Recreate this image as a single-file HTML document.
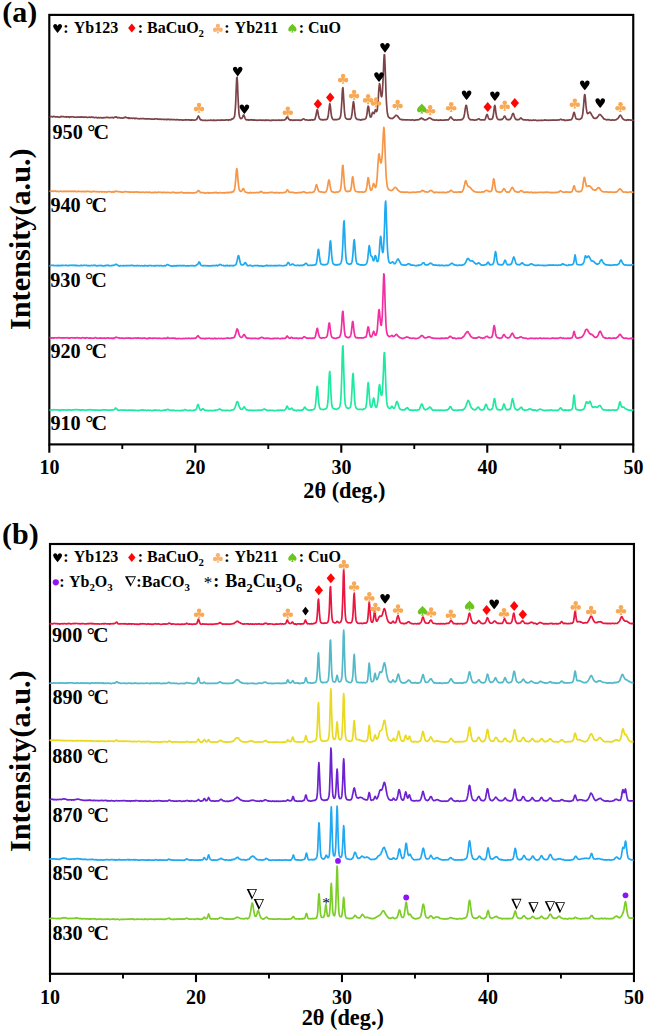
<!DOCTYPE html>
<html><head><meta charset="utf-8"><title>XRD patterns</title>
<style>
html,body{margin:0;padding:0;background:#fff;}
body{width:645px;height:1032px;overflow:hidden;}
svg{display:block;position:absolute;left:0;top:0;}
svg text{font-family:"Liberation Serif",serif;font-weight:bold;fill:#000;}
</style></head><body>
<svg width="645" height="1032" viewBox="0 0 645 1032">
<rect width="645" height="1032" fill="#fff"/>
<rect x="49.30" y="14.90" width="583.95" height="429.50" fill="none" stroke="#000" stroke-width="2.15"/>
<line x1="49.30" y1="444.4" x2="49.30" y2="452.7" stroke="#000" stroke-width="2.1"/>
<text x="49.4" y="474.3" font-size="20" text-anchor="middle">10</text>
<line x1="195.29" y1="444.4" x2="195.29" y2="452.7" stroke="#000" stroke-width="2.1"/>
<text x="195.4" y="474.3" font-size="20" text-anchor="middle">20</text>
<line x1="341.28" y1="444.4" x2="341.28" y2="452.7" stroke="#000" stroke-width="2.1"/>
<text x="341.4" y="474.3" font-size="20" text-anchor="middle">30</text>
<line x1="487.26" y1="444.4" x2="487.26" y2="452.7" stroke="#000" stroke-width="2.1"/>
<text x="487.4" y="474.3" font-size="20" text-anchor="middle">40</text>
<line x1="633.25" y1="444.4" x2="633.25" y2="452.7" stroke="#000" stroke-width="2.1"/>
<text x="633.4" y="474.3" font-size="20" text-anchor="middle">50</text>
<line x1="122.29" y1="444.4" x2="122.29" y2="449.0" stroke="#000" stroke-width="1.9"/>
<line x1="268.28" y1="444.4" x2="268.28" y2="449.0" stroke="#000" stroke-width="1.9"/>
<line x1="414.27" y1="444.4" x2="414.27" y2="449.0" stroke="#000" stroke-width="1.9"/>
<line x1="560.26" y1="444.4" x2="560.26" y2="449.0" stroke="#000" stroke-width="1.9"/>
<rect x="50.00" y="544.00" width="583.95" height="429.80" fill="none" stroke="#000" stroke-width="2.15"/>
<line x1="50.00" y1="973.8" x2="50.00" y2="982.1" stroke="#000" stroke-width="2.1"/>
<text x="50.1" y="1003.5" font-size="20" text-anchor="middle">10</text>
<line x1="195.99" y1="973.8" x2="195.99" y2="982.1" stroke="#000" stroke-width="2.1"/>
<text x="196.1" y="1003.5" font-size="20" text-anchor="middle">20</text>
<line x1="341.98" y1="973.8" x2="341.98" y2="982.1" stroke="#000" stroke-width="2.1"/>
<text x="342.1" y="1003.5" font-size="20" text-anchor="middle">30</text>
<line x1="487.96" y1="973.8" x2="487.96" y2="982.1" stroke="#000" stroke-width="2.1"/>
<text x="488.1" y="1003.5" font-size="20" text-anchor="middle">40</text>
<line x1="633.95" y1="973.8" x2="633.95" y2="982.1" stroke="#000" stroke-width="2.1"/>
<text x="634.1" y="1003.5" font-size="20" text-anchor="middle">50</text>
<line x1="122.99" y1="973.8" x2="122.99" y2="978.4" stroke="#000" stroke-width="1.9"/>
<line x1="268.98" y1="973.8" x2="268.98" y2="978.4" stroke="#000" stroke-width="1.9"/>
<line x1="414.97" y1="973.8" x2="414.97" y2="978.4" stroke="#000" stroke-width="1.9"/>
<line x1="560.96" y1="973.8" x2="560.96" y2="978.4" stroke="#000" stroke-width="1.9"/>
<text x="344.4" y="498.2" font-size="22.3" text-anchor="middle">2θ (deg.)</text>
<text x="342.8" y="1025.1" font-size="22.3" text-anchor="middle">2θ (deg.)</text>
<text transform="translate(30.3 239.2) rotate(-90)" font-size="30.3" text-anchor="middle">Intensity(a.u.)</text>
<text transform="translate(30.3 761.2) rotate(-90)" font-size="30.3" text-anchor="middle">Intensity(a.u.)</text>
<text x="2.2" y="22.2" font-size="30">(a)</text>
<text x="2.1" y="544.3" font-size="30">(b)</text>
<text x="52.5" y="139.0" font-size="20.2">950 <tspan dx="-0.5">°</tspan><tspan dx="-1.9" font-size="21.6">C</tspan></text>
<text x="50.4" y="211.9" font-size="20.2">940 <tspan dx="-0.5">°</tspan><tspan dx="-1.9" font-size="21.6">C</tspan></text>
<text x="50.2" y="286.7" font-size="20.2">930 <tspan dx="-0.5">°</tspan><tspan dx="-1.9" font-size="21.6">C</tspan></text>
<text x="50.4" y="358.4" font-size="20.2">920 <tspan dx="-0.5">°</tspan><tspan dx="-1.9" font-size="21.6">C</tspan></text>
<text x="50.4" y="429.8" font-size="20.2">910 <tspan dx="-0.5">°</tspan><tspan dx="-1.9" font-size="21.6">C</tspan></text>
<text x="52.0" y="641.8" font-size="20.2">900 <tspan dx="-0.5">°</tspan><tspan dx="-1.9" font-size="21.6">C</tspan></text>
<text x="52.4" y="703.8" font-size="20.2">890 <tspan dx="-0.5">°</tspan><tspan dx="-1.9" font-size="21.6">C</tspan></text>
<text x="52.2" y="763.4" font-size="20.2">880 <tspan dx="-0.5">°</tspan><tspan dx="-1.9" font-size="21.6">C</tspan></text>
<text x="52.4" y="822.0" font-size="20.2">870 <tspan dx="-0.5">°</tspan><tspan dx="-1.9" font-size="21.6">C</tspan></text>
<text x="52.4" y="879.6" font-size="20.2">850 <tspan dx="-0.5">°</tspan><tspan dx="-1.9" font-size="21.6">C</tspan></text>
<text x="52.4" y="940.0" font-size="20.2">830 <tspan dx="-0.5">°</tspan><tspan dx="-1.9" font-size="21.6">C</tspan></text>
<path transform="translate(57.6 28.4) scale(0.920)" fill="#000" d="M0 4.9 C-1.4 2.9 -4.5 -0.1 -4.8 -2.2 C-5 -3.8 -3.8 -4.8 -2.6 -4.8 C-1.4 -4.8 -0.4 -4.0 0 -2.3 C0.4 -4.0 1.4 -4.8 2.6 -4.8 C3.8 -4.8 5 -3.8 4.8 -2.2 C4.5 -0.1 1.4 2.9 0 4.9Z"/>
<text x="66.0" y="32.8" font-size="16.0" text-anchor="middle">:</text>
<text x="73.7" y="32.8" font-size="16.0">Yb123</text>
<path fill="#ff0606" d="M131.8 23.6 L135.5 28.1 L131.8 32.6 L128.1 28.1Z"/>
<text x="140.3" y="32.8" font-size="16.0" text-anchor="middle">:</text>
<text x="147.0" y="32.8" font-size="16.0">BaCuO<tspan font-size="10.8" dy="3.9">2</tspan></text>
<g transform="translate(217.9 28.5) scale(0.950)" fill="#f8b274"><circle cx="0" cy="-2.75" r="2.25"/><circle cx="-2.95" cy="1.3" r="2.3"/><circle cx="2.95" cy="1.3" r="2.3"/><path d="M-0.9 -1.2 L0.9 -1.2 L1.3 1.2 L0.55 2.2 L0.7 3.6 L1.5 5.05 L-1.5 5.05 L-0.7 3.6 L-0.55 2.2 L-1.3 1.2Z"/></g>
<text x="226.9" y="32.8" font-size="16.0" text-anchor="middle">:</text>
<text x="234.6" y="32.8" font-size="16.0">Yb211</text>
<path transform="translate(292.4 28.2) scale(0.880)" fill="#6cc51f" d="M0 -5 C1.2 -3.3 4.75 -1.0 4.75 1.4 C4.75 2.9 3.7 3.7 2.6 3.7 C1.7 3.7 1 3.3 0.55 2.4 L0.7 3.7 L1.5 5 L-1.5 5 L-0.7 3.7 L-0.55 2.4 C-1 3.3 -1.7 3.7 -2.6 3.7 C-3.7 3.7 -4.75 2.9 -4.75 1.4 C-4.75 -1.0 -1.2 -3.3 0 -5Z"/>
<text x="301.5" y="32.8" font-size="16.0" text-anchor="middle" fill="#6cc51f">:</text>
<text x="308.0" y="32.8" font-size="16.0">CuO</text>
<path transform="translate(57.6 557.7) scale(0.920)" fill="#000" d="M0 4.9 C-1.4 2.9 -4.5 -0.1 -4.8 -2.2 C-5 -3.8 -3.8 -4.8 -2.6 -4.8 C-1.4 -4.8 -0.4 -4.0 0 -2.3 C0.4 -4.0 1.4 -4.8 2.6 -4.8 C3.8 -4.8 5 -3.8 4.8 -2.2 C4.5 -0.1 1.4 2.9 0 4.9Z"/>
<text x="66.0" y="562.1" font-size="16.0" text-anchor="middle">:</text>
<text x="73.7" y="562.1" font-size="16.0">Yb123</text>
<path fill="#ff0606" d="M131.8 552.9 L135.5 557.4 L131.8 561.9 L128.1 557.4Z"/>
<text x="140.3" y="562.1" font-size="16.0" text-anchor="middle">:</text>
<text x="147.0" y="562.1" font-size="16.0">BaCuO<tspan font-size="10.8" dy="3.9">2</tspan></text>
<g transform="translate(217.9 557.8) scale(0.950)" fill="#f8b274"><circle cx="0" cy="-2.75" r="2.25"/><circle cx="-2.95" cy="1.3" r="2.3"/><circle cx="2.95" cy="1.3" r="2.3"/><path d="M-0.9 -1.2 L0.9 -1.2 L1.3 1.2 L0.55 2.2 L0.7 3.6 L1.5 5.05 L-1.5 5.05 L-0.7 3.6 L-0.55 2.2 L-1.3 1.2Z"/></g>
<text x="226.9" y="562.1" font-size="16.0" text-anchor="middle">:</text>
<text x="234.6" y="562.1" font-size="16.0">Yb211</text>
<path transform="translate(292.4 557.5) scale(0.880)" fill="#6cc51f" d="M0 -5 C1.2 -3.3 4.75 -1.0 4.75 1.4 C4.75 2.9 3.7 3.7 2.6 3.7 C1.7 3.7 1 3.3 0.55 2.4 L0.7 3.7 L1.5 5 L-1.5 5 L-0.7 3.7 L-0.55 2.4 C-1 3.3 -1.7 3.7 -2.6 3.7 C-3.7 3.7 -4.75 2.9 -4.75 1.4 C-4.75 -1.0 -1.2 -3.3 0 -5Z"/>
<text x="301.5" y="562.1" font-size="16.0" text-anchor="middle" fill="#6cc51f">:</text>
<text x="308.0" y="562.1" font-size="16.0">CuO</text>
<circle cx="55.8" cy="582.3" r="3.1" fill="#8f14f5"/>
<text x="62.0" y="586.8" font-size="16.0" text-anchor="middle" fill="#8f14f5">:</text>
<text x="69.0" y="586.8" font-size="16.0">Yb<tspan font-size="10.8" dy="3.9">2</tspan><tspan dy="-3.9">O</tspan><tspan font-size="10.8" dy="3.9">3</tspan></text>
<path fill="#000" fill-rule="evenodd" d="M124.95 576.35 L136.05 576.35 L130.50 586.85Z M127.65 577.30 L134.65 577.30 L131.15 583.92Z"/>
<text x="139.0" y="586.8" font-size="16.0" text-anchor="middle">:</text>
<text x="141.8" y="586.8" font-size="16.0">BaCO<tspan font-size="10.8" dy="3.9">3</tspan></text>
<text x="208.0" y="588.0" font-size="17" text-anchor="middle" style="font-weight:normal">*</text>
<text x="216.3" y="586.8" font-size="18" text-anchor="middle">:</text>
<text x="225.3" y="586.9" font-size="18.1">Ba<tspan font-size="12.4" dy="4.9">2</tspan><tspan dy="-4.9">Cu</tspan><tspan font-size="12.4" dy="4.9">3</tspan><tspan dy="-4.9">O</tspan><tspan font-size="12.4" dy="4.9">6</tspan></text>
<text x="326.2" y="907.6" font-size="15.5" text-anchor="middle" style="font-weight:normal">*</text>
<path d="M49.5 116.7 49.9 116.9 50.2 116.7 50.6 116.7 51.0 116.6 51.3 116.5 51.7 116.7 52.1 116.6 52.4 116.9 52.8 116.7 53.1 116.6 53.5 116.4 53.9 116.5 54.2 116.7 54.6 116.6 55.0 116.8 55.3 116.8 55.7 116.9 56.1 117.0 56.4 116.8 56.8 116.8 57.2 116.9 57.5 116.7 57.9 116.9 58.3 117.0 58.6 117.0 59.0 117.3 59.4 117.1 59.7 117.1 60.1 117.0 60.5 116.9 60.8 116.5 61.2 116.8 61.5 116.7 61.9 116.7 62.3 116.7 62.6 116.6 63.0 116.5 63.4 116.7 63.7 116.7 64.1 116.8 64.5 117.0 64.8 117.0 65.2 117.0 65.6 116.8 65.9 116.6 66.3 116.7 66.7 117.1 67.0 117.0 67.4 117.0 67.8 116.9 68.1 117.0 68.5 116.9 68.8 117.0 69.2 117.3 69.6 117.3 69.9 117.0 70.3 116.8 70.7 116.8 71.0 116.9 71.4 116.9 71.8 116.9 72.1 116.7 72.5 116.8 72.9 116.9 73.2 116.9 73.6 117.0 74.0 117.2 74.3 117.0 74.7 117.0 75.0 117.1 75.4 117.2 75.8 117.3 76.1 117.4 76.5 117.3 76.9 117.0 77.2 117.1 77.6 117.1 78.0 117.1 78.3 117.0 78.7 117.0 79.1 117.2 79.4 117.1 79.8 117.1 80.2 117.1 80.5 117.1 80.9 117.1 81.3 116.8 81.6 116.9 82.0 117.2 82.3 117.1 82.7 117.1 83.1 117.3 83.4 117.2 83.8 117.2 84.2 117.0 84.5 117.0 84.9 117.3 85.3 117.2 85.6 117.1 86.0 117.2 86.4 117.2 86.7 117.4 87.1 117.5 87.5 117.4 87.8 117.3 88.2 117.2 88.6 117.3 88.9 117.4 89.3 117.2 89.7 117.2 90.0 117.1 90.4 117.3 90.7 117.4 91.1 117.3 91.5 117.1 91.8 117.1 92.2 117.4 92.6 117.1 92.9 117.1 93.3 117.2 93.7 117.5 94.0 117.5 94.4 117.6 94.8 117.6 95.1 117.5 95.5 117.5 95.9 117.3 96.2 117.4 96.6 117.6 96.9 117.8 97.3 117.9 97.7 117.7 98.0 117.7 98.4 117.7 98.8 117.5 99.1 117.9 99.5 117.8 99.9 117.7 100.2 117.6 100.6 117.5 101.0 117.7 101.3 117.8 101.7 117.7 102.1 117.9 102.4 118.0 102.8 117.9 103.2 117.9 103.5 117.6 103.9 117.7 104.2 117.7 104.6 117.6 105.0 117.7 105.3 117.7 105.7 117.6 106.1 117.5 106.4 117.4 106.8 117.5 107.2 117.3 107.5 117.5 107.9 117.3 108.3 117.5 108.6 117.7 109.0 117.7 109.4 117.8 109.7 117.7 110.1 117.6 110.5 117.6 110.8 117.7 111.2 117.6 111.5 117.6 111.9 117.4 112.3 117.4 112.6 117.6 113.0 117.7 113.4 117.9 113.7 117.6 114.1 117.6 114.5 117.3 114.8 117.1 115.2 117.2 115.6 117.2 115.9 116.8 116.3 116.9 116.7 117.0 117.0 117.4 117.4 117.5 117.8 117.9 118.1 117.8 118.5 117.6 118.8 117.7 119.2 117.8 119.6 117.6 119.9 117.8 120.3 117.9 120.7 118.1 121.0 118.0 121.4 118.0 121.8 117.9 122.1 118.1 122.5 118.1 122.9 118.1 123.2 118.0 123.6 117.8 124.0 117.6 124.3 117.6 124.7 117.5 125.1 117.1 125.4 117.1 125.8 117.3 126.1 117.6 126.5 117.5 126.9 117.7 127.2 117.8 127.6 117.8 128.0 117.7 128.3 118.0 128.7 118.3 129.1 118.0 129.4 118.3 129.8 118.0 130.2 118.1 130.5 118.3 130.9 118.3 131.3 118.2 131.6 118.1 132.0 118.2 132.4 118.4 132.7 118.4 133.1 118.3 133.4 118.2 133.8 118.1 134.2 118.3 134.5 118.5 134.9 118.7 135.3 118.4 135.6 118.2 136.0 118.3 136.4 118.3 136.7 118.3 137.1 118.5 137.5 118.5 137.8 118.7 138.2 118.7 138.6 118.8 138.9 118.7 139.3 118.8 139.7 118.8 140.0 118.6 140.4 118.7 140.8 118.5 141.1 118.6 141.5 118.7 141.8 118.7 142.2 118.7 142.6 118.6 142.9 118.6 143.3 118.7 143.7 118.5 144.0 118.7 144.4 118.8 144.8 118.9 145.1 118.9 145.5 119.0 145.9 118.8 146.2 119.0 146.6 119.0 147.0 118.7 147.3 118.9 147.7 119.0 148.1 118.8 148.4 118.9 148.8 119.0 149.1 118.9 149.5 118.8 149.9 118.8 150.2 118.9 150.6 119.0 151.0 119.1 151.3 119.2 151.7 119.1 152.1 119.1 152.4 119.1 152.8 119.1 153.2 119.1 153.5 119.2 153.9 119.2 154.3 119.2 154.6 119.0 155.0 119.0 155.3 118.8 155.7 118.7 156.1 118.8 156.4 118.9 156.8 118.9 157.2 118.9 157.5 119.2 157.9 119.1 158.3 119.1 158.6 119.3 159.0 119.4 159.4 119.0 159.7 119.1 160.1 119.1 160.5 119.1 160.8 119.2 161.2 119.4 161.6 119.4 161.9 119.4 162.3 119.3 162.6 119.3 163.0 119.2 163.4 119.3 163.7 119.5 164.1 119.4 164.5 119.5 164.8 119.6 165.2 119.4 165.6 119.3 165.9 119.3 166.3 119.5 166.7 119.7 167.0 119.7 167.4 119.4 167.8 119.2 168.1 119.2 168.5 119.4 168.9 119.4 169.2 119.4 169.6 119.7 169.9 119.7 170.3 119.7 170.7 119.4 171.0 119.6 171.4 119.5 171.8 119.4 172.1 119.6 172.5 119.6 172.9 119.6 173.2 119.5 173.6 119.6 174.0 119.6 174.3 119.7 174.7 119.6 175.1 119.6 175.4 119.8 175.8 119.9 176.2 119.9 176.5 119.7 176.9 119.7 177.2 119.8 177.6 119.6 178.0 119.7 178.3 119.9 178.7 119.9 179.1 119.8 179.4 119.9 179.8 119.9 180.2 119.8 180.5 119.8 180.9 120.0 181.3 119.9 181.6 120.0 182.0 120.0 182.4 120.0 182.7 120.2 183.1 120.1 183.5 120.1 183.8 119.9 184.2 119.9 184.5 120.1 184.9 119.9 185.3 119.7 185.6 119.9 186.0 119.9 186.4 120.1 186.7 119.7 187.1 119.8 187.5 119.8 187.8 119.8 188.2 119.8 188.6 119.9 188.9 119.9 189.3 119.8 189.7 120.1 190.0 120.1 190.4 120.2 190.8 120.1 191.1 119.8 191.5 119.9 191.8 120.1 192.2 119.9 192.6 119.9 192.9 120.1 193.3 120.0 193.7 120.2 194.0 120.0 194.4 120.1 194.8 120.0 195.1 120.0 195.5 120.0 195.9 119.8 196.2 119.7 196.6 119.3 197.0 119.0 197.3 118.2 197.7 117.1 198.1 116.5 198.4 116.0 198.8 116.6 199.2 117.2 199.5 117.9 199.9 118.6 200.2 119.4 200.6 119.8 201.0 119.8 201.3 120.0 201.7 119.9 202.1 120.1 202.4 120.2 202.8 120.5 203.2 120.3 203.5 120.3 203.9 120.2 204.3 120.3 204.6 120.4 205.0 120.5 205.4 120.2 205.7 120.3 206.1 120.3 206.4 120.4 206.8 120.5 207.2 120.5 207.5 120.5 207.9 120.3 208.3 120.3 208.6 120.2 209.0 120.3 209.4 120.3 209.7 120.3 210.1 120.2 210.5 120.2 210.8 120.0 211.2 120.1 211.6 120.3 211.9 120.3 212.3 120.4 212.7 120.5 213.0 120.2 213.4 120.0 213.8 120.3 214.1 120.1 214.5 120.2 214.8 120.5 215.2 120.3 215.6 120.4 215.9 120.4 216.3 120.2 216.7 120.4 217.0 120.3 217.4 120.2 217.8 120.2 218.1 120.1 218.5 120.0 218.9 120.1 219.2 120.2 219.6 120.3 220.0 120.2 220.3 120.1 220.7 120.3 221.0 119.9 221.4 120.0 221.8 120.1 222.1 120.2 222.5 120.2 222.9 120.1 223.2 120.1 223.6 120.0 224.0 120.1 224.3 120.1 224.7 120.1 225.1 120.2 225.4 120.2 225.8 119.8 226.2 119.9 226.5 119.9 226.9 120.0 227.3 119.9 227.6 120.0 228.0 120.1 228.3 120.3 228.7 119.9 229.1 119.8 229.4 119.7 229.8 120.0 230.2 120.0 230.5 119.8 230.9 119.8 231.3 119.5 231.6 119.3 232.0 118.8 232.4 119.1 232.7 118.9 233.1 118.5 233.5 118.2 233.8 117.9 234.2 117.2 234.6 116.1 234.9 113.3 235.3 109.0 235.7 102.7 236.0 94.2 236.4 84.9 236.7 78.0 237.1 77.3 237.5 82.9 237.8 91.8 238.2 100.7 238.6 108.0 238.9 112.6 239.3 115.5 239.7 117.0 240.0 117.8 240.4 118.3 240.8 118.6 241.1 118.6 241.5 118.4 241.9 118.3 242.2 117.8 242.6 117.1 242.9 116.2 243.3 115.3 243.7 114.9 244.0 115.4 244.4 116.4 244.8 117.4 245.1 118.3 245.5 119.3 245.9 119.4 246.2 119.8 246.6 119.8 247.0 119.8 247.3 119.9 247.7 119.7 248.1 119.7 248.4 120.0 248.8 120.2 249.2 120.2 249.5 119.9 249.9 119.9 250.2 119.8 250.6 119.8 251.0 119.7 251.3 119.7 251.7 120.0 252.1 120.1 252.4 119.8 252.8 119.8 253.2 120.0 253.5 120.1 253.9 120.1 254.3 119.8 254.6 120.1 255.0 120.1 255.4 120.0 255.7 120.0 256.1 120.1 256.5 120.3 256.8 120.4 257.2 120.3 257.5 120.3 257.9 120.1 258.3 120.1 258.6 120.3 259.0 120.2 259.4 120.0 259.7 120.1 260.1 120.1 260.5 120.1 260.8 120.1 261.2 120.2 261.6 120.0 261.9 120.4 262.3 120.3 262.7 120.2 263.0 120.3 263.4 120.1 263.8 120.1 264.1 120.2 264.5 120.4 264.9 120.4 265.2 120.3 265.6 120.1 265.9 119.9 266.3 120.3 266.7 120.3 267.0 120.2 267.4 120.0 267.8 120.1 268.1 120.2 268.5 120.1 268.9 120.4 269.2 120.4 269.6 120.3 270.0 120.3 270.3 120.3 270.7 120.5 271.1 120.6 271.4 120.2 271.8 120.5 272.1 120.4 272.5 120.2 272.9 120.0 273.2 120.0 273.6 120.2 274.0 120.2 274.3 120.2 274.7 120.3 275.1 120.3 275.4 120.2 275.8 120.2 276.2 120.1 276.5 120.2 276.9 120.4 277.3 120.3 277.6 120.1 278.0 120.2 278.4 120.2 278.7 120.0 279.1 120.0 279.4 120.0 279.8 120.3 280.2 120.1 280.5 120.2 280.9 120.3 281.3 120.3 281.6 120.0 282.0 119.9 282.4 120.1 282.7 120.2 283.1 120.0 283.5 120.0 283.8 120.0 284.2 120.1 284.6 119.9 284.9 119.6 285.3 119.5 285.7 119.2 286.0 118.8 286.4 117.9 286.8 117.4 287.1 117.0 287.5 116.7 287.8 117.3 288.2 118.0 288.6 118.8 288.9 119.3 289.3 119.6 289.7 120.0 290.0 120.0 290.4 119.9 290.8 120.3 291.1 120.0 291.5 120.0 291.9 119.9 292.2 120.1 292.6 120.3 293.0 120.3 293.3 120.3 293.7 120.1 294.0 120.1 294.4 120.0 294.8 120.2 295.1 120.1 295.5 120.1 295.9 120.3 296.2 120.1 296.6 120.0 297.0 120.0 297.3 120.0 297.7 120.2 298.1 120.2 298.4 120.0 298.8 120.1 299.2 120.3 299.5 120.3 299.9 120.1 300.3 120.2 300.6 120.4 301.0 120.1 301.4 120.2 301.7 120.0 302.1 119.8 302.4 119.4 302.8 119.3 303.2 119.1 303.5 118.9 303.9 119.0 304.3 119.1 304.6 119.6 305.0 119.8 305.4 119.8 305.7 119.9 306.1 119.8 306.5 119.9 306.8 120.0 307.2 120.0 307.6 120.1 307.9 120.2 308.3 120.2 308.6 120.3 309.0 120.3 309.4 120.2 309.7 119.9 310.1 120.0 310.5 120.1 310.8 120.0 311.2 119.9 311.6 119.7 311.9 119.9 312.3 119.8 312.7 120.1 313.0 119.9 313.4 119.9 313.8 119.9 314.1 119.7 314.5 119.7 314.9 119.3 315.2 118.3 315.6 117.1 315.9 115.8 316.3 113.7 316.7 111.5 317.0 110.0 317.4 109.8 317.8 111.4 318.1 113.5 318.5 115.5 318.9 117.1 319.2 118.1 319.6 118.7 320.0 118.9 320.3 119.4 320.7 119.6 321.1 119.8 321.4 119.6 321.8 119.6 322.2 119.8 322.5 119.7 322.9 119.8 323.2 120.0 323.6 119.7 324.0 119.9 324.3 119.7 324.7 119.7 325.1 119.5 325.4 119.5 325.8 119.6 326.2 119.6 326.5 119.5 326.9 119.3 327.3 118.9 327.6 118.2 328.0 116.8 328.4 114.6 328.7 111.7 329.1 108.4 329.5 105.2 329.8 103.6 330.2 105.1 330.6 108.0 330.9 111.6 331.3 114.5 331.6 116.6 332.0 117.7 332.4 118.5 332.7 119.0 333.1 119.5 333.5 119.7 333.8 119.6 334.2 119.6 334.6 119.8 334.9 119.6 335.3 119.5 335.7 119.7 336.0 119.6 336.4 119.7 336.8 119.6 337.1 119.6 337.5 119.5 337.8 119.4 338.2 119.3 338.6 119.1 338.9 118.8 339.3 118.8 339.7 118.5 340.0 118.0 340.4 116.9 340.8 115.0 341.1 111.6 341.5 106.8 341.9 100.2 342.2 93.4 342.6 88.4 343.0 87.7 343.3 92.2 343.7 98.9 344.1 105.7 344.4 110.8 344.8 114.0 345.1 116.4 345.5 117.7 345.9 118.4 346.2 118.6 346.6 118.9 347.0 119.0 347.3 119.2 347.7 119.2 348.1 119.3 348.4 119.3 348.8 119.1 349.2 119.3 349.5 119.3 349.9 119.1 350.3 119.1 350.6 118.8 351.0 118.3 351.4 117.2 351.7 115.5 352.1 113.1 352.4 109.7 352.8 105.9 353.2 102.6 353.5 101.6 353.9 103.4 354.3 107.2 354.6 110.9 355.0 114.1 355.4 116.5 355.7 117.7 356.1 118.5 356.5 118.7 356.8 119.1 357.2 119.4 357.6 119.4 357.9 119.6 358.3 119.4 358.7 119.6 359.0 119.5 359.4 119.6 359.8 119.8 360.1 119.8 360.5 120.0 360.8 120.1 361.2 119.6 361.6 119.8 361.9 119.7 362.3 119.7 362.7 119.6 363.0 119.4 363.4 119.4 363.8 119.4 364.1 119.4 364.5 119.5 364.9 119.1 365.2 118.9 365.6 118.6 366.0 118.1 366.3 117.0 366.7 115.4 367.1 113.1 367.4 110.2 367.8 107.4 368.1 106.1 368.5 106.4 368.9 108.4 369.2 111.6 369.6 114.1 370.0 115.8 370.3 117.0 370.7 117.1 371.1 116.9 371.4 116.3 371.8 115.0 372.2 113.6 372.5 112.4 372.9 112.2 373.3 112.7 373.6 113.4 374.0 113.6 374.3 113.3 374.7 112.2 375.1 110.6 375.4 109.7 375.8 110.1 376.2 110.9 376.5 111.5 376.9 111.1 377.3 109.9 377.6 106.7 378.0 102.3 378.4 96.8 378.7 91.2 379.1 86.3 379.5 83.7 379.8 84.2 380.2 87.2 380.6 91.2 380.9 94.5 381.3 96.3 381.6 96.8 382.0 95.5 382.4 92.2 382.7 86.5 383.1 78.9 383.5 69.7 383.8 60.8 384.2 54.7 384.6 54.8 384.9 61.5 385.3 71.9 385.7 82.9 386.0 93.2 386.4 101.1 386.8 107.1 387.1 111.0 387.5 113.8 387.9 115.3 388.2 116.6 388.6 117.0 388.9 117.3 389.3 117.7 389.7 118.1 390.0 118.3 390.4 118.4 390.8 118.4 391.1 118.3 391.5 118.5 391.9 118.5 392.2 118.6 392.6 118.3 393.0 118.2 393.3 117.9 393.7 117.6 394.1 117.3 394.4 116.9 394.8 116.4 395.2 116.1 395.5 115.7 395.9 115.3 396.2 115.3 396.6 115.3 397.0 115.7 397.3 116.0 397.7 116.4 398.1 116.6 398.4 117.4 398.8 117.7 399.2 118.1 399.5 118.7 399.9 119.1 400.3 119.3 400.6 119.4 401.0 119.4 401.4 119.4 401.7 119.6 402.1 119.9 402.5 119.9 402.8 119.8 403.2 119.5 403.6 119.7 403.9 119.9 404.3 119.9 404.6 120.0 405.0 119.8 405.4 119.9 405.7 119.8 406.1 119.8 406.5 119.9 406.8 119.8 407.2 120.0 407.6 120.0 407.9 119.9 408.3 119.9 408.7 120.0 409.0 120.0 409.4 120.0 409.8 119.9 410.1 119.9 410.5 120.0 410.8 120.1 411.2 120.2 411.6 120.0 411.9 119.9 412.3 119.9 412.7 119.9 413.0 119.9 413.4 120.1 413.8 120.3 414.1 120.4 414.5 120.2 414.9 120.2 415.2 120.2 415.6 120.0 416.0 119.9 416.3 119.9 416.7 120.0 417.1 120.0 417.4 119.7 417.8 119.9 418.1 119.8 418.5 119.7 418.9 119.6 419.2 119.4 419.6 119.4 420.0 118.9 420.3 118.6 420.7 118.6 421.1 118.1 421.4 118.0 421.8 118.2 422.2 118.5 422.5 118.9 422.9 118.8 423.3 119.1 423.6 119.2 424.0 119.7 424.4 119.9 424.7 119.9 425.1 119.9 425.4 120.0 425.8 119.9 426.2 119.8 426.5 119.6 426.9 119.5 427.3 119.1 427.6 118.9 428.0 118.8 428.4 118.5 428.7 118.3 429.1 118.1 429.5 117.9 429.8 118.0 430.2 118.1 430.6 118.2 430.9 118.4 431.3 118.8 431.7 119.2 432.0 119.3 432.4 119.6 432.8 119.8 433.1 119.9 433.5 119.7 433.8 120.0 434.2 119.9 434.6 120.0 434.9 120.2 435.3 120.2 435.7 120.1 436.0 120.0 436.4 119.9 436.8 120.0 437.1 120.1 437.5 120.0 437.9 120.1 438.2 120.2 438.6 120.4 439.0 120.2 439.3 120.1 439.7 120.0 440.1 120.1 440.4 120.1 440.8 119.8 441.1 120.1 441.5 120.0 441.9 120.0 442.2 120.2 442.6 120.3 443.0 120.2 443.3 120.2 443.7 120.1 444.1 120.2 444.4 119.9 444.8 120.1 445.2 120.1 445.5 120.0 445.9 119.8 446.3 120.0 446.6 119.9 447.0 119.8 447.3 120.0 447.7 119.9 448.1 120.1 448.4 119.7 448.8 119.3 449.2 118.9 449.5 118.6 449.9 117.8 450.3 117.3 450.6 117.1 451.0 117.1 451.4 117.3 451.7 117.9 452.1 118.5 452.5 118.9 452.8 119.3 453.2 119.5 453.6 119.7 453.9 120.1 454.3 120.2 454.6 120.1 455.0 120.0 455.4 119.9 455.7 119.9 456.1 120.1 456.5 120.1 456.8 120.0 457.2 120.0 457.6 119.9 457.9 119.9 458.3 119.8 458.7 119.9 459.0 119.9 459.4 119.8 459.8 120.0 460.1 119.8 460.5 119.9 460.9 119.7 461.2 119.5 461.6 119.7 461.9 119.8 462.3 119.2 462.7 118.9 463.0 118.6 463.4 118.1 463.8 117.4 464.1 116.0 464.5 114.0 464.9 111.5 465.2 109.2 465.6 106.8 466.0 105.3 466.3 105.3 466.7 106.6 467.1 108.9 467.4 111.5 467.8 113.7 468.2 115.5 468.5 117.3 468.9 118.1 469.2 118.6 469.6 118.9 470.0 119.5 470.3 119.7 470.7 119.7 471.1 119.9 471.4 119.8 471.8 119.7 472.2 119.7 472.5 119.9 472.9 119.8 473.3 119.8 473.6 120.0 474.0 120.1 474.4 120.1 474.7 120.1 475.1 120.1 475.5 120.0 475.8 119.9 476.2 119.9 476.6 119.6 476.9 119.8 477.3 119.7 477.6 119.4 478.0 119.0 478.4 119.0 478.7 118.9 479.1 118.8 479.5 119.2 479.8 119.6 480.2 119.7 480.6 119.8 480.9 120.0 481.3 119.8 481.7 119.8 482.0 119.9 482.4 119.9 482.8 119.8 483.1 119.9 483.5 119.9 483.8 119.8 484.2 119.9 484.6 120.0 484.9 119.5 485.3 119.0 485.7 117.9 486.0 116.8 486.4 115.6 486.8 114.6 487.1 114.4 487.5 115.0 487.9 116.2 488.2 117.5 488.6 118.5 489.0 119.0 489.3 118.9 489.7 119.2 490.1 119.4 490.4 119.3 490.8 119.3 491.1 119.3 491.5 119.1 491.9 119.0 492.2 118.8 492.6 118.2 493.0 116.8 493.3 115.1 493.7 112.3 494.1 109.1 494.4 106.3 494.8 105.4 495.2 106.6 495.5 109.4 495.9 112.6 496.3 115.0 496.6 116.8 497.0 117.9 497.4 118.6 497.7 119.1 498.1 119.3 498.4 119.5 498.8 119.6 499.2 119.8 499.5 119.7 499.9 119.7 500.3 119.7 500.6 119.5 501.0 119.3 501.4 119.7 501.7 119.4 502.1 119.4 502.5 118.9 502.8 118.7 503.2 118.3 503.6 117.6 503.9 116.8 504.3 116.3 504.7 116.1 505.0 116.4 505.4 117.1 505.8 118.0 506.1 118.8 506.5 119.1 506.8 119.4 507.2 119.4 507.6 119.6 507.9 119.8 508.3 119.5 508.7 119.7 509.0 119.7 509.4 119.7 509.8 119.5 510.1 119.4 510.5 118.8 510.9 118.6 511.2 117.5 511.6 116.6 512.0 115.4 512.3 114.4 512.7 113.8 513.0 113.4 513.4 113.6 513.8 114.4 514.1 115.7 514.5 116.9 514.9 117.9 515.2 118.6 515.6 119.0 516.0 119.3 516.3 119.7 516.7 119.5 517.1 119.7 517.4 119.7 517.8 119.8 518.2 119.6 518.5 119.5 518.9 119.6 519.3 119.4 519.6 119.1 520.0 118.6 520.3 118.2 520.7 118.2 521.1 117.9 521.4 118.3 521.8 118.7 522.2 119.0 522.5 119.2 522.9 119.6 523.3 119.7 523.6 119.9 524.0 119.9 524.4 119.8 524.7 119.8 525.1 120.0 525.5 119.9 525.8 119.9 526.2 119.9 526.6 120.1 526.9 120.0 527.3 120.0 527.6 119.9 528.0 119.9 528.4 119.9 528.7 120.2 529.1 120.4 529.5 120.5 529.8 120.2 530.2 120.1 530.6 120.1 530.9 120.2 531.3 120.5 531.7 120.3 532.0 120.3 532.4 120.4 532.8 120.1 533.1 120.2 533.5 120.2 533.9 120.2 534.2 120.3 534.6 120.1 535.0 120.2 535.3 120.2 535.7 120.2 536.0 120.3 536.4 120.4 536.8 120.6 537.1 120.4 537.5 120.6 537.9 120.4 538.2 120.3 538.6 120.4 539.0 120.3 539.3 120.4 539.7 120.3 540.1 120.3 540.4 120.4 540.8 120.3 541.2 120.2 541.5 120.2 541.9 120.5 542.2 120.3 542.6 120.4 543.0 120.3 543.3 120.3 543.7 120.2 544.1 120.1 544.4 120.2 544.8 119.9 545.2 119.9 545.5 120.1 545.9 120.2 546.3 120.1 546.6 120.3 547.0 120.2 547.4 120.2 547.7 120.3 548.1 120.3 548.5 120.3 548.8 120.1 549.2 120.2 549.5 120.2 549.9 120.2 550.3 120.3 550.6 120.3 551.0 120.0 551.4 120.0 551.7 120.1 552.1 120.2 552.5 120.0 552.8 120.2 553.2 120.1 553.6 120.2 553.9 120.0 554.3 120.2 554.7 120.1 555.0 120.0 555.4 120.0 555.8 120.1 556.1 120.2 556.5 120.1 556.8 120.1 557.2 119.9 557.6 120.1 557.9 120.1 558.3 120.0 558.7 119.9 559.0 119.8 559.4 120.0 559.8 119.8 560.1 119.4 560.5 119.2 560.9 119.3 561.2 119.4 561.6 119.7 562.0 119.8 562.3 120.0 562.7 119.8 563.1 119.7 563.4 119.9 563.8 119.8 564.1 119.9 564.5 120.4 564.9 120.3 565.2 120.3 565.6 120.3 566.0 120.3 566.3 120.0 566.7 120.2 567.1 120.3 567.4 120.0 567.8 120.1 568.2 120.1 568.5 120.2 568.9 120.0 569.3 120.0 569.6 119.9 570.0 119.9 570.4 119.9 570.7 119.9 571.1 119.7 571.4 119.4 571.8 118.9 572.2 118.5 572.5 117.5 572.9 116.2 573.3 114.8 573.6 113.2 574.0 112.3 574.4 112.8 574.7 114.0 575.1 115.6 575.5 117.1 575.8 118.1 576.2 118.8 576.6 119.0 576.9 119.0 577.3 119.2 577.7 119.2 578.0 119.3 578.4 119.3 578.8 119.3 579.1 119.3 579.5 119.5 579.8 119.2 580.2 119.1 580.6 118.9 580.9 118.6 581.3 118.3 581.7 117.9 582.0 117.0 582.4 115.6 582.8 113.6 583.1 110.4 583.5 106.5 583.9 101.9 584.2 97.3 584.6 94.6 585.0 94.8 585.3 97.6 585.7 101.8 586.0 105.9 586.4 109.1 586.8 111.4 587.1 112.8 587.5 113.6 587.9 113.5 588.2 113.3 588.6 113.0 589.0 112.7 589.3 112.5 589.7 112.2 590.1 112.2 590.4 112.6 590.8 113.2 591.2 113.8 591.5 114.7 591.9 115.3 592.3 115.9 592.6 116.4 593.0 117.1 593.4 117.6 593.7 118.1 594.1 118.1 594.4 118.2 594.8 118.4 595.2 118.4 595.5 118.5 595.9 118.5 596.3 118.1 596.6 117.8 597.0 117.7 597.4 117.1 597.7 116.7 598.1 116.3 598.5 115.8 598.8 115.3 599.2 114.8 599.6 114.5 599.9 114.5 600.3 114.6 600.6 114.9 601.0 115.2 601.4 115.8 601.7 116.1 602.1 116.5 602.5 117.1 602.8 117.5 603.2 118.2 603.6 118.6 603.9 119.0 604.3 119.1 604.7 119.3 605.0 119.4 605.4 119.3 605.8 119.5 606.1 119.5 606.5 119.9 606.9 119.7 607.2 119.8 607.6 119.6 607.9 119.5 608.3 119.5 608.7 119.8 609.0 119.7 609.4 119.6 609.8 119.9 610.1 120.1 610.5 120.0 610.9 120.1 611.2 120.0 611.6 120.1 612.0 120.0 612.3 119.9 612.7 119.9 613.1 120.1 613.4 120.2 613.8 120.1 614.2 120.1 614.5 120.1 614.9 119.9 615.2 119.9 615.6 119.9 616.0 119.8 616.3 119.7 616.7 119.3 617.1 119.1 617.4 118.8 617.8 118.6 618.2 118.2 618.5 117.6 618.9 117.1 619.3 116.3 619.6 115.8 620.0 115.6 620.4 115.2 620.7 115.4 621.1 116.0 621.5 116.4 621.8 117.1 622.2 117.8 622.5 118.5 622.9 118.8 623.3 119.3 623.6 119.4 624.0 119.5 624.4 120.0 624.7 120.0 625.1 120.0 625.5 120.0 625.8 120.2 626.2 120.3 626.6 120.3 626.9 119.9 627.3 119.8 627.7 119.7 628.0 120.0 628.4 120.1 628.8 119.8 629.1 119.9 629.5 119.8 629.9 119.9 630.2 120.1 630.6 120.1 630.9 120.0 631.3 120.2 631.7 120.2 632.0 120.3 632.4 120.2 632.8 120.2 633.1 120.2 633.5 119.9" fill="none" stroke="#7c4448" stroke-width="1.7" stroke-linejoin="round"/>
<path d="M49.5 191.1 49.9 191.2 50.2 191.2 50.6 191.3 51.0 191.2 51.3 191.3 51.7 191.1 52.1 191.0 52.4 191.1 52.8 191.3 53.1 191.2 53.5 191.4 53.9 191.1 54.2 191.1 54.6 191.0 55.0 191.2 55.3 191.2 55.7 191.2 56.1 191.4 56.4 191.5 56.8 191.4 57.2 191.3 57.5 191.2 57.9 191.4 58.3 191.5 58.6 191.6 59.0 191.5 59.4 191.6 59.7 191.3 60.1 191.2 60.5 191.2 60.8 191.2 61.2 191.2 61.5 191.4 61.9 191.6 62.3 191.6 62.6 191.5 63.0 191.5 63.4 191.3 63.7 191.2 64.1 191.3 64.5 191.5 64.8 191.2 65.2 191.3 65.6 191.4 65.9 191.6 66.3 191.3 66.7 191.4 67.0 191.1 67.4 191.4 67.8 191.6 68.1 191.4 68.5 191.4 68.8 191.5 69.2 191.4 69.6 191.4 69.9 191.4 70.3 191.4 70.7 191.4 71.0 191.5 71.4 191.4 71.8 191.6 72.1 191.2 72.5 191.5 72.9 191.4 73.2 191.5 73.6 191.6 74.0 191.4 74.3 191.3 74.7 191.1 75.0 191.3 75.4 191.4 75.8 191.5 76.1 191.6 76.5 191.6 76.9 191.6 77.2 191.6 77.6 191.5 78.0 191.4 78.3 191.4 78.7 191.2 79.1 191.4 79.4 191.5 79.8 191.5 80.2 191.6 80.5 191.5 80.9 191.4 81.3 191.3 81.6 191.6 82.0 191.6 82.3 191.3 82.7 191.3 83.1 191.5 83.4 191.6 83.8 191.5 84.2 191.6 84.5 191.4 84.9 191.5 85.3 191.7 85.6 191.7 86.0 191.7 86.4 191.3 86.7 191.2 87.1 191.1 87.5 191.4 87.8 191.4 88.2 191.4 88.6 191.3 88.9 191.6 89.3 191.8 89.7 191.7 90.0 191.6 90.4 191.6 90.7 191.4 91.1 191.8 91.5 191.8 91.8 191.8 92.2 191.8 92.6 191.7 92.9 191.6 93.3 191.2 93.7 191.4 94.0 191.5 94.4 191.4 94.8 191.6 95.1 191.6 95.5 191.7 95.9 191.6 96.2 191.6 96.6 191.6 96.9 191.8 97.3 191.8 97.7 191.6 98.0 191.6 98.4 191.6 98.8 191.9 99.1 191.9 99.5 191.8 99.9 191.8 100.2 191.7 100.6 191.7 101.0 191.7 101.3 191.7 101.7 191.9 102.1 192.0 102.4 191.9 102.8 191.7 103.2 191.8 103.5 191.7 103.9 191.8 104.2 191.8 104.6 191.9 105.0 191.7 105.3 191.9 105.7 191.8 106.1 192.0 106.4 192.1 106.8 192.0 107.2 192.0 107.5 192.0 107.9 191.6 108.3 191.7 108.6 191.7 109.0 191.7 109.4 191.6 109.7 191.6 110.1 191.7 110.5 191.8 110.8 191.9 111.2 191.9 111.5 192.1 111.9 192.1 112.3 191.8 112.6 191.6 113.0 191.7 113.4 192.0 113.7 192.1 114.1 192.1 114.5 191.7 114.8 191.4 115.2 191.5 115.6 191.4 115.9 191.1 116.3 191.3 116.7 191.4 117.0 191.4 117.4 191.3 117.8 191.7 118.1 191.6 118.5 191.8 118.8 191.7 119.2 191.6 119.6 191.7 119.9 192.0 120.3 192.0 120.7 191.8 121.0 191.8 121.4 192.1 121.8 192.2 122.1 192.1 122.5 192.1 122.9 192.0 123.2 192.0 123.6 192.2 124.0 191.9 124.3 191.8 124.7 191.7 125.1 191.5 125.4 191.4 125.8 191.6 126.1 191.7 126.5 192.0 126.9 191.9 127.2 192.0 127.6 191.9 128.0 191.8 128.3 191.9 128.7 192.1 129.1 191.9 129.4 192.2 129.8 192.2 130.2 192.1 130.5 191.9 130.9 192.2 131.3 192.2 131.6 192.2 132.0 192.1 132.4 192.1 132.7 192.2 133.1 192.2 133.4 191.9 133.8 192.1 134.2 192.3 134.5 192.4 134.9 192.3 135.3 192.0 135.6 191.9 136.0 191.9 136.4 191.9 136.7 192.1 137.1 192.3 137.5 192.1 137.8 192.2 138.2 192.2 138.6 192.1 138.9 192.2 139.3 192.2 139.7 192.4 140.0 192.3 140.4 192.4 140.8 192.2 141.1 192.3 141.5 192.4 141.8 192.3 142.2 192.0 142.6 192.1 142.9 192.2 143.3 192.3 143.7 192.2 144.0 192.2 144.4 192.4 144.8 192.5 145.1 192.5 145.5 192.3 145.9 192.3 146.2 192.1 146.6 192.1 147.0 192.1 147.3 192.1 147.7 192.4 148.1 192.4 148.4 192.3 148.8 192.4 149.1 192.2 149.5 192.0 149.9 192.0 150.2 192.3 150.6 192.5 151.0 192.7 151.3 192.5 151.7 192.5 152.1 192.6 152.4 192.6 152.8 192.4 153.2 192.3 153.5 192.7 153.9 192.5 154.3 192.4 154.6 192.2 155.0 192.3 155.3 192.2 155.7 192.4 156.1 192.4 156.4 192.6 156.8 192.6 157.2 192.4 157.5 192.3 157.9 192.3 158.3 192.2 158.6 192.1 159.0 192.3 159.4 192.2 159.7 192.3 160.1 192.3 160.5 192.3 160.8 192.2 161.2 192.3 161.6 192.4 161.9 192.5 162.3 192.7 162.6 192.5 163.0 192.3 163.4 192.3 163.7 192.4 164.1 192.5 164.5 192.3 164.8 192.3 165.2 192.6 165.6 192.6 165.9 192.5 166.3 192.5 166.7 192.5 167.0 192.3 167.4 192.5 167.8 192.6 168.1 192.4 168.5 192.5 168.9 192.5 169.2 192.6 169.6 192.5 169.9 192.5 170.3 192.7 170.7 192.7 171.0 192.7 171.4 192.7 171.8 192.5 172.1 192.4 172.5 192.3 172.9 192.3 173.2 192.3 173.6 192.2 174.0 192.4 174.3 192.4 174.7 192.5 175.1 192.8 175.4 192.9 175.8 193.0 176.2 192.7 176.5 192.9 176.9 192.6 177.2 192.6 177.6 192.5 178.0 192.9 178.3 192.8 178.7 192.6 179.1 192.6 179.4 192.6 179.8 192.5 180.2 192.4 180.5 192.6 180.9 192.5 181.3 192.3 181.6 192.2 182.0 192.3 182.4 192.4 182.7 192.7 183.1 192.9 183.5 192.8 183.8 192.8 184.2 192.9 184.5 192.8 184.9 192.9 185.3 192.9 185.6 192.9 186.0 192.6 186.4 192.8 186.7 192.8 187.1 192.9 187.5 192.9 187.8 192.9 188.2 192.8 188.6 192.6 188.9 193.0 189.3 192.9 189.7 192.8 190.0 192.8 190.4 192.8 190.8 192.8 191.1 192.9 191.5 192.8 191.8 192.9 192.2 193.1 192.6 192.9 192.9 192.9 193.3 192.8 193.7 192.9 194.0 192.8 194.4 192.9 194.8 192.7 195.1 192.7 195.5 192.8 195.9 192.6 196.2 192.4 196.6 192.3 197.0 192.0 197.3 191.7 197.7 191.1 198.1 190.6 198.4 190.5 198.8 190.7 199.2 191.1 199.5 191.5 199.9 191.7 200.2 192.4 200.6 192.6 201.0 192.7 201.3 192.6 201.7 192.6 202.1 192.7 202.4 192.6 202.8 192.6 203.2 192.5 203.5 192.7 203.9 192.9 204.3 192.9 204.6 192.9 205.0 193.0 205.4 193.0 205.7 193.2 206.1 193.2 206.4 193.0 206.8 192.8 207.2 192.7 207.5 192.5 207.9 192.8 208.3 192.9 208.6 193.1 209.0 193.1 209.4 192.7 209.7 192.8 210.1 193.0 210.5 193.0 210.8 192.9 211.2 192.7 211.6 192.8 211.9 192.8 212.3 192.9 212.7 192.8 213.0 192.8 213.4 192.8 213.8 192.6 214.1 192.7 214.5 192.7 214.8 192.4 215.2 192.6 215.6 192.7 215.9 192.4 216.3 192.4 216.7 192.5 217.0 192.8 217.4 192.8 217.8 193.1 218.1 192.7 218.5 192.8 218.9 192.9 219.2 192.7 219.6 192.6 220.0 192.6 220.3 192.5 220.7 192.7 221.0 192.7 221.4 192.8 221.8 193.0 222.1 192.9 222.5 192.9 222.9 193.0 223.2 192.7 223.6 192.8 224.0 192.9 224.3 193.1 224.7 193.0 225.1 192.7 225.4 192.7 225.8 192.7 226.2 192.7 226.5 192.5 226.9 192.5 227.3 192.4 227.6 192.7 228.0 192.9 228.3 192.8 228.7 192.6 229.1 192.4 229.4 192.3 229.8 192.4 230.2 192.2 230.5 192.3 230.9 192.6 231.3 192.5 231.6 192.2 232.0 191.9 232.4 191.8 232.7 192.0 233.1 191.9 233.5 191.4 233.8 191.1 234.2 190.2 234.6 189.0 234.9 187.2 235.3 183.9 235.7 179.8 236.0 175.1 236.4 170.8 236.7 168.5 237.1 169.5 237.5 173.1 237.8 177.7 238.2 182.2 238.6 185.7 238.9 188.1 239.3 189.6 239.7 190.5 240.0 190.9 240.4 191.1 240.8 191.5 241.1 191.4 241.5 191.2 241.9 190.6 242.2 190.0 242.6 189.4 242.9 188.7 243.3 188.6 243.7 188.9 244.0 189.7 244.4 190.6 244.8 191.4 245.1 191.9 245.5 192.1 245.9 192.2 246.2 192.3 246.6 192.4 247.0 192.4 247.3 192.7 247.7 192.9 248.1 193.0 248.4 192.8 248.8 192.8 249.2 192.8 249.5 193.0 249.9 192.6 250.2 192.4 250.6 192.4 251.0 192.6 251.3 192.8 251.7 193.0 252.1 192.8 252.4 192.5 252.8 192.5 253.2 192.5 253.5 192.8 253.9 192.7 254.3 192.6 254.6 192.5 255.0 192.7 255.4 192.8 255.7 192.8 256.1 192.6 256.5 192.6 256.8 192.6 257.2 192.4 257.5 192.4 257.9 192.6 258.3 192.8 258.6 192.7 259.0 192.5 259.4 192.3 259.7 192.4 260.1 192.1 260.5 191.6 260.8 191.4 261.2 191.5 261.6 191.7 261.9 192.0 262.3 192.3 262.7 192.4 263.0 192.5 263.4 192.7 263.8 192.9 264.1 192.9 264.5 192.6 264.9 192.8 265.2 192.7 265.6 192.6 265.9 192.7 266.3 192.9 266.7 192.9 267.0 192.8 267.4 192.8 267.8 192.9 268.1 192.8 268.5 192.5 268.9 192.6 269.2 192.6 269.6 192.5 270.0 192.4 270.3 192.4 270.7 192.5 271.1 192.5 271.4 192.4 271.8 192.2 272.1 192.4 272.5 192.3 272.9 192.3 273.2 192.6 273.6 192.7 274.0 192.8 274.3 192.8 274.7 192.6 275.1 192.8 275.4 192.9 275.8 192.9 276.2 192.5 276.5 192.7 276.9 192.4 277.3 192.7 277.6 192.7 278.0 192.8 278.4 192.9 278.7 192.6 279.1 192.7 279.4 192.9 279.8 192.7 280.2 192.8 280.5 192.7 280.9 192.7 281.3 192.7 281.6 192.8 282.0 192.9 282.4 192.7 282.7 192.6 283.1 192.6 283.5 192.7 283.8 192.6 284.2 192.5 284.6 192.4 284.9 192.5 285.3 192.5 285.7 192.0 286.0 191.7 286.4 191.1 286.8 190.4 287.1 190.0 287.5 189.9 287.8 190.1 288.2 190.7 288.6 191.4 288.9 191.9 289.3 192.2 289.7 192.2 290.0 192.2 290.4 192.3 290.8 192.3 291.1 192.3 291.5 192.2 291.9 192.4 292.2 192.5 292.6 192.5 293.0 192.3 293.3 192.4 293.7 192.4 294.0 192.8 294.4 192.9 294.8 192.8 295.1 193.0 295.5 192.9 295.9 192.8 296.2 192.8 296.6 192.8 297.0 192.8 297.3 192.7 297.7 192.8 298.1 192.6 298.4 192.7 298.8 192.6 299.2 192.4 299.5 192.6 299.9 192.7 300.3 192.6 300.6 192.7 301.0 192.5 301.4 192.4 301.7 192.4 302.1 192.2 302.4 192.1 302.8 192.0 303.2 191.9 303.5 191.8 303.9 191.7 304.3 191.8 304.6 192.3 305.0 192.3 305.4 192.5 305.7 192.6 306.1 192.8 306.5 192.9 306.8 192.8 307.2 192.7 307.6 192.8 307.9 192.6 308.3 192.6 308.6 192.6 309.0 192.6 309.4 192.4 309.7 192.4 310.1 192.3 310.5 192.6 310.8 192.6 311.2 192.5 311.6 192.5 311.9 192.5 312.3 192.3 312.7 192.3 313.0 192.1 313.4 191.9 313.8 191.9 314.1 191.7 314.5 190.9 314.9 190.2 315.2 188.9 315.6 187.4 315.9 186.0 316.3 184.9 316.7 184.8 317.0 185.8 317.4 187.2 317.8 188.7 318.1 189.9 318.5 190.7 318.9 191.3 319.2 191.6 319.6 191.7 320.0 191.7 320.3 191.8 320.7 191.8 321.1 192.0 321.4 191.9 321.8 191.9 322.2 192.2 322.5 192.3 322.9 192.2 323.2 192.3 323.6 192.2 324.0 192.4 324.3 192.4 324.7 192.3 325.1 192.3 325.4 192.0 325.8 191.8 326.2 191.5 326.5 190.7 326.9 189.6 327.3 188.4 327.6 186.6 328.0 184.1 328.4 181.7 328.7 180.1 329.1 180.0 329.5 181.2 329.8 183.9 330.2 186.2 330.6 188.0 330.9 189.7 331.3 190.7 331.6 191.4 332.0 191.8 332.4 191.9 332.7 191.8 333.1 192.1 333.5 192.3 333.8 192.2 334.2 192.3 334.6 192.3 334.9 192.3 335.3 192.5 335.7 192.2 336.0 192.3 336.4 192.1 336.8 191.9 337.1 192.0 337.5 192.1 337.8 192.0 338.2 192.1 338.6 191.8 338.9 191.5 339.3 191.3 339.7 191.1 340.0 190.9 340.4 189.8 340.8 188.0 341.1 185.5 341.5 181.3 341.9 175.8 342.2 169.9 342.6 165.9 343.0 165.4 343.3 168.9 343.7 174.6 344.1 180.1 344.4 184.5 344.8 187.5 345.1 189.3 345.5 190.4 345.9 190.9 346.2 191.2 346.6 191.3 347.0 191.6 347.3 191.5 347.7 191.6 348.1 191.2 348.4 191.2 348.8 191.4 349.2 191.3 349.5 191.0 349.9 191.1 350.3 190.7 350.6 190.2 351.0 188.8 351.4 186.7 351.7 183.5 352.1 179.9 352.4 177.2 352.8 176.7 353.2 178.4 353.5 181.8 353.9 184.8 354.3 187.5 354.6 189.3 355.0 190.4 355.4 191.0 355.7 191.2 356.1 191.4 356.5 191.6 356.8 191.7 357.2 191.7 357.6 191.8 357.9 191.7 358.3 192.0 358.7 192.1 359.0 192.2 359.4 192.0 359.8 191.9 360.1 191.9 360.5 192.0 360.8 192.0 361.2 192.1 361.6 191.9 361.9 191.9 362.3 191.9 362.7 192.2 363.0 192.0 363.4 192.1 363.8 192.0 364.1 192.0 364.5 191.9 364.9 191.7 365.2 191.6 365.6 191.2 366.0 190.6 366.3 189.2 366.7 187.4 367.1 185.1 367.4 182.3 367.8 179.4 368.1 177.7 368.5 178.2 368.9 180.5 369.2 183.3 369.6 186.0 370.0 187.9 370.3 189.2 370.7 190.1 371.1 190.1 371.4 189.9 371.8 189.7 372.2 188.6 372.5 187.4 372.9 185.7 373.3 184.0 373.6 183.5 374.0 184.1 374.3 184.9 374.7 186.1 375.1 187.1 375.4 187.5 375.8 187.0 376.2 185.7 376.5 183.3 376.9 180.1 377.3 175.5 377.6 170.0 378.0 163.9 378.4 158.4 378.7 154.6 379.1 153.8 379.5 155.5 379.8 158.1 380.2 160.5 380.6 162.3 380.9 163.0 381.3 162.6 381.6 160.9 382.0 157.5 382.4 152.5 382.7 146.0 383.1 138.2 383.5 130.9 383.8 127.3 384.2 129.1 384.6 136.4 384.9 146.1 385.3 156.5 385.7 165.9 386.0 173.3 386.4 179.0 386.8 182.9 387.1 185.5 387.5 187.1 387.9 188.0 388.2 188.9 388.6 189.3 388.9 189.7 389.3 190.0 389.7 190.1 390.0 190.2 390.4 190.3 390.8 190.3 391.1 190.6 391.5 190.6 391.9 190.4 392.2 190.2 392.6 189.8 393.0 189.6 393.3 189.3 393.7 188.8 394.1 188.3 394.4 187.8 394.8 187.6 395.2 187.4 395.5 187.4 395.9 187.6 396.2 188.0 396.6 188.5 397.0 188.8 397.3 189.4 397.7 189.9 398.1 190.2 398.4 190.4 398.8 190.8 399.2 191.2 399.5 191.5 399.9 191.7 400.3 191.8 400.6 192.0 401.0 192.1 401.4 192.2 401.7 192.1 402.1 192.0 402.5 192.1 402.8 191.9 403.2 192.1 403.6 192.2 403.9 192.1 404.3 192.1 404.6 192.4 405.0 192.5 405.4 192.5 405.7 192.2 406.1 192.2 406.5 192.0 406.8 192.1 407.2 192.2 407.6 192.2 407.9 192.2 408.3 192.4 408.7 192.3 409.0 192.5 409.4 192.6 409.8 192.6 410.1 192.5 410.5 192.5 410.8 192.3 411.2 192.5 411.6 192.3 411.9 192.4 412.3 192.3 412.7 192.3 413.0 192.2 413.4 192.1 413.8 192.2 414.1 192.1 414.5 192.3 414.9 192.4 415.2 192.3 415.6 192.4 416.0 192.3 416.3 192.1 416.7 192.0 417.1 192.2 417.4 192.0 417.8 191.9 418.1 192.0 418.5 192.0 418.9 192.0 419.2 191.8 419.6 191.9 420.0 192.0 420.3 191.9 420.7 191.7 421.1 191.4 421.4 190.9 421.8 190.5 422.2 190.4 422.5 190.5 422.9 190.8 423.3 190.6 423.6 190.8 424.0 191.0 424.4 191.4 424.7 191.7 425.1 191.9 425.4 191.7 425.8 191.8 426.2 191.8 426.5 192.0 426.9 192.0 427.3 192.2 427.6 192.0 428.0 192.0 428.4 191.8 428.7 191.7 429.1 191.4 429.5 191.0 429.8 190.7 430.2 190.6 430.6 190.4 430.9 190.6 431.3 190.5 431.7 190.6 432.0 191.0 432.4 191.3 432.8 191.7 433.1 191.8 433.5 192.2 433.8 192.4 434.2 192.4 434.6 192.8 434.9 192.3 435.3 192.3 435.7 192.2 436.0 192.2 436.4 192.2 436.8 192.3 437.1 192.1 437.5 192.4 437.9 192.3 438.2 192.5 438.6 192.5 439.0 192.6 439.3 192.4 439.7 192.2 440.1 192.4 440.4 192.3 440.8 192.4 441.1 192.5 441.5 192.5 441.9 192.6 442.2 192.7 442.6 192.2 443.0 192.2 443.3 192.2 443.7 192.3 444.1 192.3 444.4 192.6 444.8 192.7 445.2 192.6 445.5 192.6 445.9 192.6 446.3 192.5 446.6 192.5 447.0 192.2 447.3 192.0 447.7 192.2 448.1 192.1 448.4 191.9 448.8 191.8 449.2 191.8 449.5 191.6 449.9 191.1 450.3 190.8 450.6 190.4 451.0 190.4 451.4 190.4 451.7 190.7 452.1 191.0 452.5 191.2 452.8 191.6 453.2 192.0 453.6 192.2 453.9 192.3 454.3 192.2 454.6 192.1 455.0 192.1 455.4 192.1 455.7 192.2 456.1 192.2 456.5 192.3 456.8 192.1 457.2 192.0 457.6 192.2 457.9 192.1 458.3 191.9 458.7 191.9 459.0 192.0 459.4 192.2 459.8 192.2 460.1 191.8 460.5 191.9 460.9 192.0 461.2 192.2 461.6 191.9 461.9 191.9 462.3 191.4 462.7 190.9 463.0 190.2 463.4 189.2 463.8 188.1 464.1 186.6 464.5 185.0 464.9 183.2 465.2 181.7 465.6 180.9 466.0 180.8 466.3 181.8 466.7 183.1 467.1 184.1 467.4 185.2 467.8 185.7 468.2 186.3 468.5 186.6 468.9 186.9 469.2 186.8 469.6 187.1 470.0 187.4 470.3 187.7 470.7 188.0 471.1 188.4 471.4 189.0 471.8 189.4 472.2 189.8 472.5 190.1 472.9 190.4 473.3 190.7 473.6 191.2 474.0 191.4 474.4 191.4 474.7 191.6 475.1 191.9 475.5 191.9 475.8 191.9 476.2 192.1 476.6 192.2 476.9 192.2 477.3 192.2 477.6 192.2 478.0 192.1 478.4 192.3 478.7 192.3 479.1 192.2 479.5 192.2 479.8 192.2 480.2 192.3 480.6 192.3 480.9 192.2 481.3 192.1 481.7 192.0 482.0 191.8 482.4 192.0 482.8 191.9 483.1 192.1 483.5 192.0 483.8 191.8 484.2 191.7 484.6 191.4 484.9 190.9 485.3 190.7 485.7 190.6 486.0 190.5 486.4 190.4 486.8 190.3 487.1 190.5 487.5 190.7 487.9 190.8 488.2 191.0 488.6 191.2 489.0 191.5 489.3 191.7 489.7 191.6 490.1 191.6 490.4 191.5 490.8 191.2 491.1 191.2 491.5 190.8 491.9 189.9 492.2 188.2 492.6 186.0 493.0 183.2 493.3 180.2 493.7 178.8 494.1 179.5 494.4 181.6 494.8 184.6 495.2 187.0 495.5 188.9 495.9 190.1 496.3 190.9 496.6 191.6 497.0 191.7 497.4 191.7 497.7 191.7 498.1 191.8 498.4 191.9 498.8 192.1 499.2 192.0 499.5 192.2 499.9 192.1 500.3 192.1 500.6 192.0 501.0 192.0 501.4 192.0 501.7 191.6 502.1 191.2 502.5 190.8 502.8 190.0 503.2 189.6 503.6 189.0 503.9 188.6 504.3 188.9 504.7 189.3 505.0 190.0 505.4 190.7 505.8 191.3 506.1 191.6 506.5 191.8 506.8 192.1 507.2 192.3 507.6 192.1 507.9 192.1 508.3 192.1 508.7 192.0 509.0 192.2 509.4 191.8 509.8 191.3 510.1 190.8 510.5 190.1 510.9 189.4 511.2 188.8 511.6 188.0 512.0 187.5 512.3 187.4 512.7 187.5 513.0 188.1 513.4 188.8 513.8 189.5 514.1 190.2 514.5 190.9 514.9 191.3 515.2 191.3 515.6 191.5 516.0 191.5 516.3 191.8 516.7 192.0 517.1 192.1 517.4 192.2 517.8 191.9 518.2 192.1 518.5 192.0 518.9 192.1 519.3 191.8 519.6 191.6 520.0 191.5 520.3 190.8 520.7 190.7 521.1 190.5 521.4 190.6 521.8 190.7 522.2 191.1 522.5 191.5 522.9 191.6 523.3 192.1 523.6 192.0 524.0 192.4 524.4 192.1 524.7 192.3 525.1 192.4 525.5 192.4 525.8 192.1 526.2 192.1 526.6 192.1 526.9 192.2 527.3 192.1 527.6 192.1 528.0 192.3 528.4 192.3 528.7 192.5 529.1 192.4 529.5 192.6 529.8 192.3 530.2 192.3 530.6 192.2 530.9 192.3 531.3 192.1 531.7 192.3 532.0 192.5 532.4 192.6 532.8 192.5 533.1 192.5 533.5 192.8 533.9 192.6 534.2 192.4 534.6 192.5 535.0 192.6 535.3 192.6 535.7 192.3 536.0 192.5 536.4 192.6 536.8 192.6 537.1 192.6 537.5 192.5 537.9 192.4 538.2 192.4 538.6 192.3 539.0 192.2 539.3 192.3 539.7 192.4 540.1 192.5 540.4 192.5 540.8 192.3 541.2 192.3 541.5 192.3 541.9 192.2 542.2 192.2 542.6 192.4 543.0 192.6 543.3 192.5 543.7 192.3 544.1 192.3 544.4 192.4 544.8 192.3 545.2 192.4 545.5 192.2 545.9 192.2 546.3 192.4 546.6 192.2 547.0 192.2 547.4 192.1 547.7 192.3 548.1 192.4 548.5 192.4 548.8 192.4 549.2 192.4 549.5 192.3 549.9 192.5 550.3 192.6 550.6 192.5 551.0 192.4 551.4 192.7 551.7 192.5 552.1 192.4 552.5 192.5 552.8 192.7 553.2 192.7 553.6 192.7 553.9 192.7 554.3 192.5 554.7 192.4 555.0 192.4 555.4 192.5 555.8 192.7 556.1 192.3 556.5 192.5 556.8 192.5 557.2 192.3 557.6 192.1 557.9 192.1 558.3 192.2 558.7 192.2 559.0 191.8 559.4 191.4 559.8 191.1 560.1 190.9 560.5 191.0 560.9 190.9 561.2 191.3 561.6 191.6 562.0 191.7 562.3 191.9 562.7 192.0 563.1 192.0 563.4 192.1 563.8 192.4 564.1 192.3 564.5 192.2 564.9 192.0 565.2 192.2 565.6 192.1 566.0 192.1 566.3 191.9 566.7 192.0 567.1 191.9 567.4 192.1 567.8 192.0 568.2 192.1 568.5 192.1 568.9 192.2 569.3 192.1 569.6 192.2 570.0 192.3 570.4 192.0 570.7 192.2 571.1 192.2 571.4 191.9 571.8 191.6 572.2 191.3 572.5 190.5 572.9 189.4 573.3 187.9 573.6 186.8 574.0 185.9 574.4 185.9 574.7 187.3 575.1 188.6 575.5 189.7 575.8 190.6 576.2 191.0 576.6 191.2 576.9 191.4 577.3 191.6 577.7 191.6 578.0 191.8 578.4 191.5 578.8 191.4 579.1 191.8 579.5 191.7 579.8 191.7 580.2 191.5 580.6 191.4 580.9 191.4 581.3 190.9 581.7 190.4 582.0 189.5 582.4 188.2 582.8 186.5 583.1 184.0 583.5 181.1 583.9 178.7 584.2 177.4 584.6 177.5 585.0 179.1 585.3 181.2 585.7 183.1 586.0 184.9 586.4 185.9 586.8 186.4 587.1 186.3 587.5 186.2 587.9 186.2 588.2 186.0 588.6 185.8 589.0 185.9 589.3 185.8 589.7 186.1 590.1 186.4 590.4 186.7 590.8 187.0 591.2 187.5 591.5 187.9 591.9 188.1 592.3 188.8 592.6 189.3 593.0 189.7 593.4 189.7 593.7 189.8 594.1 190.0 594.4 190.1 594.8 190.2 595.2 189.9 595.5 190.2 595.9 190.0 596.3 189.5 596.6 189.2 597.0 188.8 597.4 188.5 597.7 188.3 598.1 187.7 598.5 187.7 598.8 187.7 599.2 187.8 599.6 188.2 599.9 188.7 600.3 189.6 600.6 189.9 601.0 190.3 601.4 190.7 601.7 191.0 602.1 191.2 602.5 191.6 602.8 191.7 603.2 191.8 603.6 191.9 603.9 191.9 604.3 191.8 604.7 191.8 605.0 191.8 605.4 191.9 605.8 192.0 606.1 191.9 606.5 191.9 606.9 191.9 607.2 192.0 607.6 192.0 607.9 192.2 608.3 192.1 608.7 192.2 609.0 192.2 609.4 192.2 609.8 192.4 610.1 192.2 610.5 192.0 610.9 191.9 611.2 192.0 611.6 192.1 612.0 192.2 612.3 192.2 612.7 192.3 613.1 192.2 613.4 192.3 613.8 192.4 614.2 192.2 614.5 192.1 614.9 192.0 615.2 192.1 615.6 192.0 616.0 192.3 616.3 191.9 616.7 191.8 617.1 191.7 617.4 191.4 617.8 191.0 618.2 190.3 618.5 190.0 618.9 189.6 619.3 189.3 619.6 188.8 620.0 188.9 620.4 189.0 620.7 189.2 621.1 189.8 621.5 190.3 621.8 190.7 622.2 191.0 622.5 191.5 622.9 191.8 623.3 192.1 623.6 192.0 624.0 192.0 624.4 192.0 624.7 192.0 625.1 192.1 625.5 192.1 625.8 192.2 626.2 192.2 626.6 192.1 626.9 192.5 627.3 192.3 627.7 192.4 628.0 192.2 628.4 192.3 628.8 192.3 629.1 192.2 629.5 192.1 629.9 191.9 630.2 191.9 630.6 191.9 630.9 192.1 631.3 192.1 631.7 192.3 632.0 192.3 632.4 192.1 632.8 192.1 633.1 192.1 633.5 192.0" fill="none" stroke="#f79646" stroke-width="1.7" stroke-linejoin="round"/>
<path d="M49.5 265.3 49.9 265.8 50.2 265.7 50.6 265.6 51.0 265.4 51.3 265.5 51.7 265.4 52.1 265.3 52.4 265.3 52.8 265.3 53.1 265.1 53.5 265.5 53.9 265.5 54.2 265.6 54.6 265.6 55.0 265.5 55.3 265.5 55.7 265.5 56.1 265.6 56.4 265.6 56.8 265.5 57.2 265.6 57.5 265.3 57.9 265.5 58.3 265.6 58.6 265.4 59.0 265.8 59.4 265.6 59.7 265.7 60.1 265.7 60.5 265.6 60.8 265.4 61.2 265.4 61.5 265.5 61.9 265.7 62.3 265.5 62.6 265.4 63.0 265.5 63.4 265.5 63.7 265.4 64.1 265.5 64.5 265.5 64.8 265.5 65.2 265.5 65.6 265.2 65.9 265.5 66.3 265.3 66.7 265.4 67.0 265.5 67.4 265.6 67.8 265.7 68.1 265.7 68.5 265.7 68.8 265.4 69.2 265.3 69.6 265.4 69.9 265.4 70.3 265.5 70.7 265.3 71.0 265.3 71.4 265.3 71.8 265.2 72.1 265.3 72.5 265.2 72.9 265.4 73.2 265.4 73.6 265.4 74.0 265.3 74.3 265.2 74.7 265.4 75.0 265.2 75.4 265.5 75.8 265.7 76.1 265.5 76.5 265.4 76.9 265.3 77.2 265.7 77.6 265.5 78.0 265.5 78.3 265.7 78.7 265.7 79.1 265.8 79.4 265.7 79.8 265.6 80.2 265.6 80.5 265.3 80.9 265.4 81.3 265.2 81.6 265.6 82.0 265.5 82.3 265.6 82.7 265.5 83.1 265.5 83.4 265.3 83.8 265.3 84.2 265.2 84.5 265.3 84.9 265.4 85.3 265.5 85.6 265.5 86.0 265.4 86.4 265.4 86.7 265.3 87.1 265.6 87.5 265.6 87.8 265.6 88.2 265.6 88.6 265.7 88.9 265.8 89.3 265.5 89.7 265.5 90.0 265.7 90.4 265.8 90.7 265.6 91.1 265.5 91.5 265.5 91.8 265.4 92.2 265.5 92.6 265.5 92.9 265.6 93.3 265.4 93.7 265.2 94.0 265.5 94.4 265.5 94.8 265.3 95.1 265.5 95.5 265.3 95.9 265.6 96.2 265.9 96.6 266.0 96.9 265.8 97.3 265.8 97.7 265.6 98.0 265.5 98.4 265.7 98.8 265.6 99.1 265.6 99.5 265.6 99.9 265.6 100.2 265.5 100.6 265.4 101.0 265.3 101.3 265.7 101.7 265.7 102.1 265.7 102.4 265.9 102.8 265.7 103.2 265.9 103.5 265.8 103.9 265.9 104.2 265.9 104.6 265.5 105.0 265.6 105.3 265.8 105.7 265.5 106.1 265.3 106.4 265.5 106.8 265.3 107.2 265.5 107.5 265.2 107.9 265.3 108.3 265.6 108.6 265.4 109.0 265.5 109.4 265.7 109.7 265.8 110.1 265.6 110.5 265.7 110.8 265.8 111.2 265.7 111.5 265.6 111.9 265.6 112.3 265.3 112.6 265.4 113.0 265.4 113.4 265.4 113.7 265.1 114.1 265.1 114.5 265.1 114.8 264.9 115.2 264.9 115.6 264.3 115.9 264.2 116.3 264.3 116.7 264.5 117.0 264.8 117.4 265.1 117.8 265.2 118.1 265.4 118.5 265.6 118.8 265.9 119.2 266.1 119.6 266.0 119.9 265.9 120.3 265.8 120.7 265.6 121.0 265.7 121.4 265.8 121.8 265.7 122.1 265.7 122.5 265.8 122.9 265.7 123.2 265.5 123.6 265.8 124.0 265.8 124.3 265.7 124.7 265.7 125.1 265.8 125.4 265.6 125.8 265.7 126.1 265.8 126.5 265.6 126.9 265.7 127.2 265.6 127.6 265.7 128.0 265.5 128.3 265.6 128.7 265.5 129.1 265.7 129.4 265.6 129.8 265.7 130.2 265.7 130.5 265.6 130.9 265.4 131.3 265.4 131.6 265.3 132.0 265.5 132.4 265.3 132.7 265.6 133.1 265.8 133.4 265.7 133.8 265.6 134.2 265.8 134.5 266.0 134.9 265.9 135.3 265.8 135.6 265.7 136.0 265.7 136.4 265.6 136.7 265.8 137.1 265.6 137.5 265.7 137.8 265.6 138.2 265.5 138.6 265.7 138.9 265.8 139.3 265.7 139.7 265.7 140.0 265.7 140.4 265.8 140.8 265.8 141.1 265.7 141.5 265.6 141.8 265.5 142.2 265.7 142.6 265.9 142.9 266.0 143.3 266.0 143.7 265.9 144.0 265.9 144.4 265.9 144.8 265.4 145.1 265.7 145.5 265.6 145.9 265.7 146.2 265.8 146.6 265.7 147.0 265.7 147.3 266.0 147.7 266.1 148.1 265.9 148.4 265.8 148.8 265.6 149.1 265.7 149.5 265.7 149.9 265.5 150.2 265.5 150.6 265.5 151.0 265.6 151.3 265.5 151.7 265.8 152.1 265.7 152.4 265.8 152.8 265.7 153.2 265.8 153.5 265.9 153.9 266.0 154.3 266.0 154.6 265.8 155.0 265.5 155.3 265.9 155.7 265.8 156.1 265.7 156.4 265.6 156.8 265.5 157.2 265.6 157.5 265.5 157.9 265.6 158.3 265.5 158.6 265.6 159.0 265.6 159.4 265.8 159.7 265.8 160.1 265.7 160.5 265.5 160.8 265.5 161.2 265.6 161.6 265.7 161.9 265.7 162.3 265.8 162.6 266.0 163.0 266.0 163.4 265.9 163.7 265.9 164.1 265.8 164.5 265.6 164.8 265.7 165.2 265.9 165.6 265.7 165.9 265.5 166.3 265.3 166.7 265.1 167.0 264.8 167.4 264.5 167.8 264.5 168.1 264.8 168.5 265.0 168.9 265.2 169.2 265.5 169.6 265.5 169.9 265.7 170.3 265.8 170.7 266.0 171.0 265.8 171.4 265.9 171.8 265.8 172.1 266.1 172.5 266.0 172.9 266.1 173.2 266.0 173.6 265.7 174.0 265.9 174.3 265.6 174.7 265.9 175.1 265.8 175.4 265.9 175.8 265.9 176.2 265.7 176.5 266.0 176.9 265.7 177.2 265.6 177.6 265.6 178.0 265.4 178.3 265.7 178.7 265.8 179.1 265.8 179.4 265.7 179.8 265.5 180.2 265.7 180.5 265.6 180.9 265.8 181.3 265.8 181.6 265.5 182.0 265.6 182.4 265.7 182.7 265.6 183.1 265.5 183.5 265.6 183.8 265.8 184.2 265.6 184.5 265.7 184.9 265.7 185.3 265.8 185.6 265.9 186.0 265.8 186.4 265.9 186.7 265.8 187.1 265.9 187.5 265.7 187.8 265.9 188.2 265.7 188.6 265.8 188.9 265.9 189.3 265.8 189.7 265.8 190.0 265.7 190.4 265.6 190.8 265.6 191.1 265.7 191.5 265.8 191.8 265.6 192.2 265.6 192.6 265.6 192.9 265.6 193.3 265.6 193.7 265.9 194.0 266.0 194.4 265.8 194.8 265.8 195.1 265.9 195.5 265.6 195.9 265.5 196.2 265.4 196.6 265.0 197.0 264.7 197.3 264.5 197.7 264.1 198.1 263.8 198.4 263.1 198.8 262.1 199.2 262.0 199.5 262.2 199.9 263.0 200.2 264.0 200.6 264.8 201.0 265.0 201.3 265.5 201.7 265.6 202.1 265.8 202.4 265.8 202.8 265.7 203.2 265.6 203.5 265.6 203.9 265.8 204.3 265.6 204.6 265.6 205.0 265.7 205.4 265.7 205.7 265.7 206.1 265.8 206.4 265.8 206.8 265.7 207.2 265.7 207.5 266.0 207.9 265.8 208.3 265.9 208.6 265.9 209.0 265.6 209.4 265.9 209.7 265.8 210.1 266.0 210.5 266.0 210.8 265.9 211.2 265.8 211.6 266.0 211.9 265.7 212.3 265.7 212.7 265.5 213.0 265.6 213.4 265.7 213.8 265.5 214.1 265.6 214.5 265.5 214.8 265.6 215.2 265.7 215.6 265.5 215.9 265.4 216.3 265.3 216.7 265.5 217.0 265.4 217.4 265.9 217.8 265.7 218.1 265.4 218.5 265.3 218.9 265.1 219.2 265.0 219.6 264.8 220.0 264.5 220.3 264.4 220.7 264.6 221.0 264.8 221.4 265.0 221.8 265.3 222.1 265.5 222.5 265.5 222.9 265.5 223.2 265.5 223.6 265.4 224.0 265.8 224.3 265.7 224.7 265.8 225.1 265.8 225.4 265.8 225.8 265.5 226.2 265.5 226.5 265.4 226.9 265.7 227.3 265.6 227.6 265.4 228.0 265.8 228.3 265.7 228.7 265.8 229.1 265.8 229.4 265.5 229.8 265.8 230.2 265.7 230.5 265.7 230.9 265.7 231.3 265.5 231.6 265.7 232.0 265.8 232.4 265.6 232.7 265.5 233.1 265.8 233.5 265.8 233.8 265.7 234.2 265.4 234.6 265.4 234.9 265.2 235.3 265.0 235.7 264.8 236.0 264.4 236.4 263.4 236.7 262.2 237.1 260.8 237.5 258.9 237.8 257.2 238.2 255.7 238.6 255.6 238.9 256.5 239.3 258.2 239.7 260.1 240.0 261.8 240.4 263.1 240.8 264.0 241.1 264.6 241.5 264.7 241.9 265.0 242.2 265.0 242.6 265.0 242.9 264.9 243.3 264.8 243.7 264.5 244.0 264.0 244.4 263.7 244.8 262.8 245.1 262.7 245.5 262.7 245.9 263.3 246.2 263.9 246.6 264.4 247.0 264.9 247.3 265.6 247.7 265.8 248.1 265.7 248.4 265.7 248.8 265.7 249.2 265.7 249.5 265.5 249.9 265.4 250.2 265.2 250.6 265.3 251.0 265.5 251.3 265.6 251.7 266.0 252.1 266.0 252.4 266.1 252.8 266.0 253.2 265.9 253.5 265.8 253.9 265.7 254.3 265.7 254.6 265.6 255.0 265.6 255.4 265.7 255.7 265.6 256.1 265.6 256.5 265.7 256.8 265.6 257.2 265.4 257.5 265.4 257.9 265.6 258.3 265.6 258.6 265.7 259.0 266.1 259.4 266.0 259.7 265.8 260.1 265.7 260.5 265.8 260.8 265.8 261.2 266.0 261.6 265.7 261.9 265.9 262.3 266.2 262.7 266.3 263.0 266.3 263.4 266.0 263.8 266.1 264.1 266.0 264.5 266.0 264.9 265.8 265.2 265.7 265.6 265.8 265.9 265.8 266.3 265.5 266.7 265.2 267.0 265.3 267.4 265.4 267.8 265.8 268.1 265.7 268.5 265.7 268.9 265.8 269.2 265.7 269.6 265.7 270.0 265.7 270.3 265.9 270.7 265.6 271.1 265.6 271.4 265.7 271.8 265.7 272.1 265.7 272.5 265.8 272.9 265.7 273.2 265.7 273.6 265.7 274.0 265.6 274.3 265.6 274.7 265.8 275.1 265.8 275.4 265.6 275.8 265.6 276.2 265.8 276.5 265.6 276.9 265.6 277.3 265.6 277.6 265.7 278.0 265.4 278.4 265.6 278.7 265.7 279.1 265.5 279.4 265.4 279.8 265.4 280.2 265.6 280.5 265.6 280.9 265.6 281.3 265.6 281.6 265.5 282.0 265.7 282.4 265.8 282.7 265.8 283.1 265.7 283.5 265.8 283.8 265.7 284.2 265.8 284.6 265.6 284.9 265.4 285.3 265.3 285.7 265.3 286.0 265.4 286.4 265.2 286.8 264.7 287.1 264.0 287.5 263.5 287.8 262.8 288.2 262.5 288.6 262.6 288.9 263.1 289.3 263.8 289.7 264.6 290.0 264.9 290.4 265.0 290.8 265.0 291.1 264.9 291.5 264.6 291.9 264.2 292.2 264.1 292.6 264.0 293.0 264.1 293.3 264.4 293.7 264.6 294.0 264.9 294.4 265.2 294.8 265.5 295.1 265.5 295.5 265.5 295.9 265.4 296.2 265.6 296.6 265.4 297.0 265.5 297.3 265.4 297.7 265.5 298.1 265.4 298.4 265.5 298.8 265.4 299.2 265.5 299.5 265.7 299.9 265.4 300.3 265.5 300.6 265.4 301.0 265.3 301.4 265.3 301.7 265.5 302.1 265.6 302.4 265.5 302.8 265.2 303.2 264.8 303.5 264.9 303.9 264.9 304.3 264.7 304.6 264.3 305.0 263.9 305.4 263.6 305.7 263.2 306.1 263.3 306.5 263.7 306.8 263.8 307.2 264.2 307.6 264.8 307.9 265.2 308.3 265.5 308.6 265.4 309.0 265.4 309.4 265.3 309.7 265.3 310.1 265.2 310.5 265.1 310.8 265.3 311.2 265.3 311.6 265.3 311.9 265.1 312.3 265.4 312.7 265.1 313.0 265.2 313.4 265.2 313.8 265.1 314.1 265.1 314.5 265.0 314.9 264.8 315.2 264.9 315.6 264.7 315.9 264.2 316.3 263.4 316.7 261.9 317.0 259.6 317.4 256.5 317.8 252.9 318.1 249.9 318.5 249.3 318.9 251.1 319.2 254.1 319.6 257.5 320.0 260.0 320.3 262.1 320.7 263.3 321.1 264.0 321.4 264.3 321.8 264.2 322.2 264.5 322.5 264.6 322.9 264.7 323.2 264.8 323.6 264.6 324.0 264.6 324.3 264.8 324.7 264.9 325.1 264.7 325.4 264.7 325.8 264.7 326.2 264.5 326.5 264.3 326.9 264.3 327.3 264.1 327.6 263.7 328.0 262.8 328.4 261.3 328.7 259.0 329.1 255.4 329.5 250.3 329.8 244.9 330.2 241.2 330.6 241.0 330.9 244.2 331.3 249.3 331.6 254.3 332.0 258.3 332.4 260.9 332.7 262.6 333.1 263.5 333.5 264.0 333.8 264.1 334.2 264.6 334.6 264.7 334.9 264.9 335.3 264.7 335.7 264.6 336.0 264.7 336.4 264.9 336.8 265.1 337.1 265.0 337.5 264.7 337.8 264.6 338.2 264.5 338.6 264.6 338.9 264.6 339.3 264.6 339.7 264.5 340.0 264.1 340.4 263.6 340.8 263.2 341.1 262.3 341.5 261.0 341.9 258.8 342.2 254.7 342.6 248.5 343.0 240.3 343.3 231.0 343.7 223.0 344.1 220.8 344.4 225.7 344.8 234.4 345.1 243.7 345.5 251.5 345.9 256.7 346.2 260.0 346.6 261.7 347.0 262.9 347.3 263.3 347.7 263.6 348.1 263.8 348.4 263.9 348.8 264.2 349.2 264.2 349.5 264.4 349.9 264.1 350.3 263.9 350.6 263.8 351.0 263.8 351.4 263.4 351.7 262.7 352.1 261.2 352.4 259.2 352.8 255.6 353.2 250.8 353.5 245.3 353.9 241.1 354.3 239.7 354.6 242.4 355.0 247.5 355.4 252.9 355.7 257.1 356.1 260.3 356.5 262.1 356.8 263.1 357.2 263.7 357.6 263.9 357.9 264.1 358.3 264.2 358.7 264.1 359.0 264.5 359.4 264.7 359.8 264.8 360.1 264.9 360.5 264.8 360.8 265.0 361.2 265.1 361.6 264.8 361.9 265.0 362.3 264.9 362.7 264.9 363.0 265.1 363.4 265.0 363.8 265.1 364.1 265.0 364.5 264.9 364.9 264.9 365.2 264.8 365.6 264.6 366.0 264.1 366.3 263.7 366.7 263.1 367.1 262.3 367.4 260.7 367.8 258.4 368.1 255.0 368.5 251.0 368.9 247.4 369.2 245.6 369.6 246.9 370.0 249.8 370.3 253.0 370.7 255.2 371.1 255.8 371.4 256.2 371.8 256.4 372.2 256.9 372.5 258.2 372.9 259.5 373.3 260.6 373.6 260.8 374.0 260.2 374.3 259.1 374.7 257.3 375.1 255.7 375.4 255.6 375.8 256.3 376.2 258.0 376.5 259.7 376.9 260.8 377.3 261.6 377.6 261.7 378.0 261.0 378.4 259.9 378.7 257.5 379.1 254.0 379.5 249.3 379.8 244.1 380.2 239.0 380.6 236.3 380.9 237.0 381.3 240.5 381.6 244.8 382.0 248.9 382.4 251.5 382.7 252.6 383.1 251.8 383.5 249.1 383.8 243.4 384.2 235.1 384.6 224.5 384.9 212.7 385.3 203.6 385.7 201.0 386.0 206.9 386.4 218.2 386.8 230.2 387.1 241.2 387.5 249.5 387.9 254.8 388.2 258.3 388.6 260.3 388.9 261.7 389.3 262.4 389.7 262.9 390.0 262.9 390.4 263.0 390.8 263.2 391.1 262.9 391.5 262.5 391.9 262.3 392.2 262.0 392.6 261.9 393.0 262.0 393.3 262.5 393.7 262.9 394.1 263.6 394.4 263.8 394.8 263.7 395.2 263.4 395.5 263.0 395.9 262.3 396.2 261.6 396.6 261.0 397.0 260.3 397.3 259.4 397.7 259.2 398.1 258.9 398.4 259.3 398.8 260.0 399.2 260.4 399.5 261.4 399.9 262.0 400.3 262.8 400.6 263.3 401.0 264.0 401.4 264.5 401.7 264.7 402.1 264.7 402.5 264.9 402.8 265.0 403.2 265.0 403.6 265.0 403.9 265.1 404.3 265.2 404.6 264.9 405.0 265.2 405.4 265.2 405.7 265.2 406.1 265.0 406.5 264.7 406.8 264.6 407.2 264.5 407.6 264.1 407.9 264.0 408.3 263.8 408.7 263.9 409.0 263.7 409.4 263.9 409.8 264.1 410.1 264.4 410.5 264.8 410.8 265.1 411.2 265.2 411.6 265.0 411.9 265.2 412.3 265.1 412.7 265.2 413.0 265.2 413.4 265.2 413.8 265.3 414.1 265.3 414.5 265.5 414.9 265.5 415.2 265.7 415.6 265.7 416.0 265.8 416.3 265.7 416.7 265.5 417.1 265.4 417.4 265.6 417.8 265.4 418.1 265.3 418.5 265.3 418.9 265.0 419.2 265.3 419.6 265.0 420.0 265.0 420.3 265.0 420.7 264.9 421.1 264.7 421.4 264.4 421.8 264.1 422.2 263.6 422.5 263.2 422.9 262.8 423.3 262.8 423.6 262.7 424.0 262.8 424.4 263.3 424.7 264.1 425.1 264.7 425.4 264.8 425.8 264.9 426.2 265.1 426.5 264.9 426.9 264.9 427.3 264.9 427.6 264.8 428.0 264.5 428.4 264.6 428.7 264.3 429.1 263.9 429.5 263.7 429.8 263.3 430.2 263.2 430.6 263.2 430.9 263.3 431.3 263.5 431.7 263.8 432.0 264.0 432.4 264.3 432.8 264.7 433.1 265.1 433.5 265.0 433.8 264.9 434.2 265.1 434.6 265.0 434.9 265.1 435.3 264.9 435.7 265.2 436.0 265.1 436.4 265.2 436.8 265.2 437.1 265.4 437.5 265.5 437.9 265.4 438.2 265.4 438.6 265.0 439.0 265.0 439.3 265.2 439.7 265.6 440.1 265.6 440.4 265.5 440.8 265.4 441.1 265.4 441.5 265.2 441.9 265.4 442.2 265.4 442.6 265.5 443.0 265.4 443.3 265.6 443.7 265.5 444.1 265.6 444.4 265.6 444.8 265.7 445.2 265.6 445.5 265.4 445.9 265.4 446.3 265.4 446.6 265.4 447.0 265.1 447.3 265.4 447.7 265.6 448.1 265.5 448.4 265.4 448.8 265.2 449.2 264.9 449.5 264.6 449.9 264.6 450.3 264.4 450.6 264.0 451.0 263.6 451.4 263.4 451.7 263.3 452.1 263.3 452.5 263.4 452.8 263.7 453.2 264.1 453.6 264.4 453.9 264.8 454.3 264.7 454.6 265.0 455.0 265.0 455.4 265.0 455.7 265.2 456.1 265.2 456.5 265.2 456.8 265.5 457.2 265.4 457.6 265.4 457.9 265.6 458.3 265.4 458.7 265.1 459.0 265.1 459.4 265.1 459.8 265.2 460.1 265.1 460.5 265.2 460.9 265.2 461.2 265.5 461.6 265.3 461.9 265.0 462.3 265.2 462.7 265.0 463.0 264.9 463.4 264.7 463.8 264.6 464.1 264.4 464.5 263.9 464.9 263.6 465.2 263.1 465.6 262.4 466.0 262.0 466.3 260.9 466.7 260.3 467.1 259.4 467.4 258.5 467.8 258.6 468.2 258.7 468.5 258.7 468.9 259.2 469.2 259.9 469.6 260.3 470.0 260.6 470.3 260.8 470.7 261.0 471.1 260.7 471.4 260.9 471.8 260.8 472.2 260.8 472.5 261.0 472.9 261.3 473.3 261.3 473.6 261.8 474.0 262.4 474.4 262.8 474.7 263.0 475.1 263.3 475.5 263.8 475.8 263.9 476.2 263.8 476.6 264.0 476.9 264.0 477.3 263.7 477.6 263.4 478.0 263.3 478.4 263.0 478.7 262.8 479.1 263.1 479.5 263.2 479.8 263.7 480.2 264.1 480.6 264.5 480.9 264.8 481.3 265.0 481.7 265.1 482.0 265.2 482.4 265.1 482.8 265.2 483.1 265.2 483.5 265.2 483.8 265.3 484.2 265.0 484.6 265.0 484.9 264.7 485.3 264.7 485.7 264.6 486.0 264.6 486.4 264.6 486.8 264.0 487.1 263.3 487.5 262.8 487.9 262.5 488.2 262.2 488.6 262.7 489.0 263.3 489.3 264.0 489.7 264.8 490.1 264.9 490.4 264.7 490.8 264.8 491.1 264.6 491.5 264.7 491.9 264.6 492.2 264.5 492.6 264.3 493.0 264.0 493.3 263.4 493.7 262.3 494.1 260.7 494.4 258.3 494.8 255.4 495.2 252.7 495.5 251.5 495.9 252.7 496.3 255.1 496.6 258.0 497.0 260.7 497.4 262.3 497.7 263.5 498.1 264.2 498.4 264.4 498.8 264.6 499.2 264.7 499.5 264.6 499.9 264.6 500.3 264.6 500.6 264.8 501.0 264.8 501.4 264.9 501.7 264.7 502.1 264.6 502.5 264.9 502.8 264.4 503.2 264.0 503.6 263.6 503.9 262.5 504.3 261.6 504.7 260.6 505.0 260.2 505.4 260.5 505.8 261.6 506.1 262.5 506.5 263.5 506.8 263.9 507.2 264.6 507.6 264.5 507.9 264.8 508.3 264.7 508.7 264.7 509.0 264.6 509.4 264.8 509.8 264.6 510.1 264.7 510.5 264.5 510.9 264.3 511.2 263.8 511.6 263.3 512.0 262.4 512.3 261.3 512.7 260.0 513.0 258.6 513.4 257.6 513.8 257.0 514.1 257.7 514.5 258.6 514.9 259.8 515.2 260.9 515.6 262.2 516.0 263.4 516.3 263.9 516.7 264.2 517.1 264.5 517.4 264.6 517.8 264.6 518.2 264.5 518.5 264.7 518.9 264.7 519.3 264.8 519.6 264.8 520.0 264.5 520.3 264.3 520.7 263.8 521.1 263.8 521.4 263.3 521.8 262.9 522.2 262.9 522.5 262.9 522.9 263.3 523.3 263.8 523.6 264.2 524.0 264.5 524.4 264.6 524.7 264.9 525.1 265.0 525.5 265.0 525.8 265.1 526.2 265.3 526.6 265.2 526.9 265.1 527.3 265.2 527.6 265.5 528.0 265.3 528.4 265.2 528.7 265.2 529.1 265.0 529.5 264.7 529.8 264.5 530.2 264.2 530.6 264.0 530.9 263.9 531.3 263.8 531.7 264.0 532.0 264.0 532.4 264.3 532.8 264.4 533.1 264.8 533.5 264.9 533.9 264.9 534.2 265.1 534.6 265.5 535.0 265.3 535.3 265.3 535.7 265.4 536.0 265.4 536.4 265.2 536.8 265.3 537.1 265.4 537.5 265.2 537.9 265.2 538.2 265.1 538.6 265.1 539.0 265.2 539.3 265.3 539.7 265.3 540.1 265.4 540.4 265.3 540.8 265.2 541.2 265.3 541.5 265.3 541.9 265.5 542.2 265.5 542.6 265.4 543.0 265.5 543.3 265.6 543.7 265.3 544.1 265.5 544.4 265.6 544.8 265.4 545.2 265.5 545.5 265.6 545.9 265.4 546.3 265.5 546.6 265.4 547.0 265.4 547.4 265.5 547.7 265.5 548.1 265.2 548.5 265.2 548.8 265.1 549.2 265.2 549.5 265.2 549.9 265.0 550.3 265.2 550.6 265.2 551.0 265.1 551.4 265.2 551.7 265.1 552.1 265.0 552.5 265.2 552.8 265.2 553.2 265.0 553.6 265.2 553.9 265.1 554.3 265.2 554.7 265.3 555.0 265.1 555.4 265.2 555.8 265.2 556.1 265.1 556.5 265.3 556.8 265.4 557.2 265.4 557.6 265.3 557.9 265.2 558.3 265.2 558.7 265.0 559.0 265.0 559.4 265.0 559.8 265.0 560.1 265.2 560.5 265.1 560.9 265.2 561.2 264.9 561.6 264.5 562.0 264.2 562.3 264.0 562.7 263.7 563.1 263.8 563.4 264.1 563.8 264.6 564.1 264.5 564.5 264.7 564.9 264.8 565.2 265.0 565.6 265.0 566.0 265.0 566.3 265.3 566.7 265.3 567.1 265.4 567.4 265.5 567.8 265.5 568.2 265.3 568.5 265.1 568.9 264.7 569.3 264.8 569.6 264.8 570.0 264.8 570.4 264.9 570.7 264.9 571.1 264.7 571.4 264.8 571.8 264.9 572.2 264.8 572.5 264.6 572.9 264.3 573.3 263.7 573.6 263.0 574.0 261.5 574.4 258.7 574.7 256.3 575.1 254.9 575.5 256.4 575.8 258.8 576.2 261.3 576.6 263.2 576.9 264.1 577.3 264.5 577.7 264.5 578.0 264.6 578.4 264.7 578.8 264.8 579.1 264.6 579.5 264.7 579.8 264.8 580.2 264.9 580.6 264.9 580.9 264.8 581.3 264.8 581.7 264.5 582.0 264.4 582.4 264.2 582.8 264.0 583.1 263.5 583.5 263.0 583.9 262.0 584.2 260.9 584.6 259.1 585.0 257.3 585.3 255.8 585.7 256.0 586.0 256.7 586.4 257.1 586.8 257.6 587.1 257.5 587.5 257.1 587.9 256.3 588.2 256.0 588.6 256.1 589.0 256.2 589.3 257.0 589.7 257.5 590.1 258.3 590.4 259.1 590.8 259.8 591.2 260.5 591.5 260.8 591.9 261.1 592.3 260.9 592.6 261.0 593.0 261.1 593.4 261.2 593.7 261.6 594.1 261.8 594.4 262.2 594.8 262.5 595.2 263.0 595.5 263.2 595.9 263.5 596.3 263.8 596.6 264.0 597.0 264.2 597.4 264.2 597.7 264.1 598.1 263.8 598.5 263.8 598.8 263.5 599.2 263.3 599.6 262.6 599.9 261.6 600.3 260.9 600.6 260.7 601.0 260.0 601.4 259.9 601.7 259.7 602.1 260.5 602.5 261.2 602.8 262.1 603.2 262.5 603.6 263.1 603.9 263.5 604.3 263.7 604.7 263.9 605.0 264.3 605.4 264.7 605.8 264.7 606.1 264.9 606.5 265.0 606.9 264.8 607.2 264.9 607.6 264.9 607.9 264.9 608.3 265.1 608.7 265.1 609.0 265.2 609.4 265.1 609.8 265.2 610.1 265.0 610.5 265.3 610.9 265.1 611.2 265.3 611.6 265.2 612.0 265.2 612.3 265.2 612.7 265.2 613.1 265.1 613.4 264.8 613.8 265.0 614.2 264.9 614.5 264.9 614.9 264.7 615.2 264.8 615.6 264.8 616.0 264.8 616.3 264.9 616.7 264.7 617.1 264.8 617.4 264.8 617.8 264.5 618.2 264.3 618.5 264.2 618.9 263.6 619.3 263.2 619.6 262.4 620.0 261.4 620.4 260.6 620.7 260.1 621.1 260.0 621.5 260.5 621.8 261.3 622.2 262.2 622.5 262.9 622.9 263.6 623.3 264.0 623.6 264.3 624.0 264.9 624.4 264.9 624.7 265.1 625.1 265.0 625.5 264.8 625.8 264.9 626.2 264.9 626.6 265.1 626.9 265.1 627.3 265.3 627.7 265.3 628.0 265.2 628.4 265.1 628.8 265.1 629.1 265.4 629.5 265.1 629.9 265.2 630.2 265.3 630.6 265.2 630.9 265.2 631.3 265.0 631.7 264.8 632.0 264.9 632.4 265.0 632.8 264.8 633.1 264.9 633.5 265.1" fill="none" stroke="#1eaaf1" stroke-width="1.7" stroke-linejoin="round"/>
<path d="M49.5 337.7 49.9 337.7 50.2 337.6 50.6 337.9 51.0 337.9 51.3 338.0 51.7 338.1 52.1 337.8 52.4 338.0 52.8 337.9 53.1 338.0 53.5 338.2 53.9 338.0 54.2 337.8 54.6 337.9 55.0 337.8 55.3 337.7 55.7 337.8 56.1 337.9 56.4 337.9 56.8 338.0 57.2 337.9 57.5 337.8 57.9 337.9 58.3 337.6 58.6 337.5 59.0 337.6 59.4 337.8 59.7 337.8 60.1 337.9 60.5 337.8 60.8 337.8 61.2 337.9 61.5 338.0 61.9 338.0 62.3 337.8 62.6 337.9 63.0 338.1 63.4 338.0 63.7 337.8 64.1 337.9 64.5 337.9 64.8 337.9 65.2 338.0 65.6 337.9 65.9 338.0 66.3 337.8 66.7 337.8 67.0 337.7 67.4 337.7 67.8 337.9 68.1 338.0 68.5 338.2 68.8 338.2 69.2 338.1 69.6 337.9 69.9 338.1 70.3 338.0 70.7 337.8 71.0 337.8 71.4 337.8 71.8 337.7 72.1 337.6 72.5 337.9 72.9 337.9 73.2 337.9 73.6 337.9 74.0 338.1 74.3 337.9 74.7 337.9 75.0 337.8 75.4 338.1 75.8 337.9 76.1 337.7 76.5 337.8 76.9 337.7 77.2 337.6 77.6 337.8 78.0 338.0 78.3 338.0 78.7 338.1 79.1 338.0 79.4 337.8 79.8 337.9 80.2 338.0 80.5 338.1 80.9 338.2 81.3 338.1 81.6 338.0 82.0 337.8 82.3 337.7 82.7 337.6 83.1 337.8 83.4 337.9 83.8 337.8 84.2 337.8 84.5 338.0 84.9 338.2 85.3 338.3 85.6 338.1 86.0 337.8 86.4 337.9 86.7 337.6 87.1 337.7 87.5 337.8 87.8 337.9 88.2 338.1 88.6 338.0 88.9 338.0 89.3 338.1 89.7 338.1 90.0 337.9 90.4 337.8 90.7 338.1 91.1 338.1 91.5 338.1 91.8 338.3 92.2 338.2 92.6 338.3 92.9 338.2 93.3 338.0 93.7 338.0 94.0 338.1 94.4 338.1 94.8 337.9 95.1 337.7 95.5 337.7 95.9 337.7 96.2 337.9 96.6 338.1 96.9 338.0 97.3 338.2 97.7 338.3 98.0 338.2 98.4 338.2 98.8 338.3 99.1 338.2 99.5 338.1 99.9 338.1 100.2 337.9 100.6 337.9 101.0 338.2 101.3 338.1 101.7 338.1 102.1 338.3 102.4 338.4 102.8 338.1 103.2 338.1 103.5 338.0 103.9 338.0 104.2 338.2 104.6 338.1 105.0 338.3 105.3 338.5 105.7 338.5 106.1 338.1 106.4 338.1 106.8 338.0 107.2 337.9 107.5 338.0 107.9 337.9 108.3 337.8 108.6 338.1 109.0 338.2 109.4 338.2 109.7 338.4 110.1 338.2 110.5 338.1 110.8 338.0 111.2 338.1 111.5 338.2 111.9 338.4 112.3 338.2 112.6 338.5 113.0 338.6 113.4 338.1 113.7 338.1 114.1 338.3 114.5 338.0 114.8 337.9 115.2 337.6 115.6 337.7 115.9 337.2 116.3 337.2 116.7 337.5 117.0 337.5 117.4 337.6 117.8 337.7 118.1 337.8 118.5 337.8 118.8 337.8 119.2 337.9 119.6 338.0 119.9 338.3 120.3 338.2 120.7 338.2 121.0 338.0 121.4 338.1 121.8 338.0 122.1 338.0 122.5 338.2 122.9 338.2 123.2 338.3 123.6 338.5 124.0 338.4 124.3 338.4 124.7 338.1 125.1 338.2 125.4 338.3 125.8 338.2 126.1 338.2 126.5 338.0 126.9 338.0 127.2 338.1 127.6 338.0 128.0 338.0 128.3 338.1 128.7 337.9 129.1 338.0 129.4 338.2 129.8 338.2 130.2 338.2 130.5 338.0 130.9 338.4 131.3 338.3 131.6 338.3 132.0 338.3 132.4 338.4 132.7 338.2 133.1 338.3 133.4 338.2 133.8 338.0 134.2 338.1 134.5 338.0 134.9 338.0 135.3 338.0 135.6 337.9 136.0 338.1 136.4 338.1 136.7 338.3 137.1 338.2 137.5 337.9 137.8 337.9 138.2 337.9 138.6 337.9 138.9 338.2 139.3 338.3 139.7 338.3 140.0 338.2 140.4 338.1 140.8 338.3 141.1 338.2 141.5 338.3 141.8 338.4 142.2 338.1 142.6 338.3 142.9 338.3 143.3 338.2 143.7 338.0 144.0 338.1 144.4 337.9 144.8 338.1 145.1 338.3 145.5 338.4 145.9 338.4 146.2 338.5 146.6 338.7 147.0 338.5 147.3 338.6 147.7 338.6 148.1 338.3 148.4 338.4 148.8 338.2 149.1 337.9 149.5 337.9 149.9 338.3 150.2 338.3 150.6 338.2 151.0 338.2 151.3 338.2 151.7 338.3 152.1 338.4 152.4 338.2 152.8 338.4 153.2 338.2 153.5 338.4 153.9 338.3 154.3 338.2 154.6 338.2 155.0 338.2 155.3 338.2 155.7 338.2 156.1 338.3 156.4 338.2 156.8 338.3 157.2 338.3 157.5 338.2 157.9 338.4 158.3 338.5 158.6 338.3 159.0 338.2 159.4 338.2 159.7 338.5 160.1 338.3 160.5 338.4 160.8 338.5 161.2 338.5 161.6 338.5 161.9 338.5 162.3 338.4 162.6 338.6 163.0 338.4 163.4 338.5 163.7 338.4 164.1 338.4 164.5 338.2 164.8 338.2 165.2 338.2 165.6 338.3 165.9 338.6 166.3 338.4 166.7 338.4 167.0 338.1 167.4 337.6 167.8 337.4 168.1 337.7 168.5 337.9 168.9 338.2 169.2 338.4 169.6 338.3 169.9 338.3 170.3 338.3 170.7 338.2 171.0 338.1 171.4 338.2 171.8 338.3 172.1 338.3 172.5 338.1 172.9 338.2 173.2 338.1 173.6 338.0 174.0 338.1 174.3 338.4 174.7 338.4 175.1 338.5 175.4 338.2 175.8 338.6 176.2 338.7 176.5 338.8 176.9 338.6 177.2 338.7 177.6 338.4 178.0 338.6 178.3 338.5 178.7 338.6 179.1 338.4 179.4 338.5 179.8 338.5 180.2 338.6 180.5 338.5 180.9 338.6 181.3 338.5 181.6 338.5 182.0 338.6 182.4 338.5 182.7 338.6 183.1 338.6 183.5 338.5 183.8 338.4 184.2 338.5 184.5 338.6 184.9 338.4 185.3 338.5 185.6 338.4 186.0 338.3 186.4 338.3 186.7 338.4 187.1 338.6 187.5 338.4 187.8 338.3 188.2 338.2 188.6 338.3 188.9 338.2 189.3 338.5 189.7 338.3 190.0 338.6 190.4 338.5 190.8 338.4 191.1 338.3 191.5 338.5 191.8 338.4 192.2 338.5 192.6 338.4 192.9 338.4 193.3 338.4 193.7 338.5 194.0 338.3 194.4 338.3 194.8 338.2 195.1 338.2 195.5 338.3 195.9 338.0 196.2 337.7 196.6 337.4 197.0 336.7 197.3 336.3 197.7 335.9 198.1 335.7 198.4 336.0 198.8 336.6 199.2 337.2 199.5 337.4 199.9 337.8 200.2 338.0 200.6 338.3 201.0 338.4 201.3 338.4 201.7 338.5 202.1 338.5 202.4 338.4 202.8 338.6 203.2 338.6 203.5 338.5 203.9 338.4 204.3 338.5 204.6 338.6 205.0 338.8 205.4 338.8 205.7 338.3 206.1 338.5 206.4 338.4 206.8 338.5 207.2 338.5 207.5 338.5 207.9 338.3 208.3 338.2 208.6 338.3 209.0 338.2 209.4 338.3 209.7 338.2 210.1 338.5 210.5 338.6 210.8 338.6 211.2 338.4 211.6 338.6 211.9 338.6 212.3 338.8 212.7 338.6 213.0 338.7 213.4 338.6 213.8 338.5 214.1 338.4 214.5 338.4 214.8 338.1 215.2 338.2 215.6 338.6 215.9 338.5 216.3 338.5 216.7 338.7 217.0 338.7 217.4 338.5 217.8 338.5 218.1 338.5 218.5 338.4 218.9 338.3 219.2 338.4 219.6 338.4 220.0 338.6 220.3 338.6 220.7 338.5 221.0 338.5 221.4 338.4 221.8 338.4 222.1 338.6 222.5 338.5 222.9 338.6 223.2 338.4 223.6 338.6 224.0 338.5 224.3 338.4 224.7 338.6 225.1 338.5 225.4 338.5 225.8 338.3 226.2 338.2 226.5 338.2 226.9 338.2 227.3 338.2 227.6 338.1 228.0 338.1 228.3 338.2 228.7 338.1 229.1 338.3 229.4 338.4 229.8 338.3 230.2 338.3 230.5 338.3 230.9 338.2 231.3 338.1 231.6 337.9 232.0 337.7 232.4 337.8 232.7 337.8 233.1 337.8 233.5 337.7 233.8 337.4 234.2 337.5 234.6 336.8 234.9 335.9 235.3 334.9 235.7 333.7 236.0 332.5 236.4 331.0 236.7 329.8 237.1 329.0 237.5 329.3 237.8 330.0 238.2 331.1 238.6 332.6 238.9 334.1 239.3 335.1 239.7 335.9 240.0 336.5 240.4 336.9 240.8 337.2 241.1 337.4 241.5 337.5 241.9 337.3 242.2 337.0 242.6 336.5 242.9 336.0 243.3 335.2 243.7 334.7 244.0 334.5 244.4 334.7 244.8 335.3 245.1 336.0 245.5 336.6 245.9 337.1 246.2 337.4 246.6 337.9 247.0 338.2 247.3 338.4 247.7 338.2 248.1 337.9 248.4 338.1 248.8 338.4 249.2 338.3 249.5 338.3 249.9 338.3 250.2 338.3 250.6 338.3 251.0 338.4 251.3 338.3 251.7 338.4 252.1 338.7 252.4 338.5 252.8 338.4 253.2 338.5 253.5 338.4 253.9 338.4 254.3 338.4 254.6 338.3 255.0 338.2 255.4 338.4 255.7 338.3 256.1 338.3 256.5 338.5 256.8 338.5 257.2 338.6 257.5 338.6 257.9 338.6 258.3 338.5 258.6 338.3 259.0 338.6 259.4 338.6 259.7 338.2 260.1 337.9 260.5 338.0 260.8 337.6 261.2 337.5 261.6 337.4 261.9 337.3 262.3 337.4 262.7 337.6 263.0 337.9 263.4 337.9 263.8 338.2 264.1 338.3 264.5 338.4 264.9 338.6 265.2 338.4 265.6 338.2 265.9 338.4 266.3 338.1 266.7 338.3 267.0 338.5 267.4 338.4 267.8 338.3 268.1 338.1 268.5 338.3 268.9 338.4 269.2 338.7 269.6 338.7 270.0 338.4 270.3 338.7 270.7 338.8 271.1 338.7 271.4 338.7 271.8 338.7 272.1 338.5 272.5 338.7 272.9 338.4 273.2 338.3 273.6 338.7 274.0 338.4 274.3 338.4 274.7 338.4 275.1 338.3 275.4 338.2 275.8 338.4 276.2 338.4 276.5 338.5 276.9 338.5 277.3 338.5 277.6 338.2 278.0 338.4 278.4 338.4 278.7 338.4 279.1 338.5 279.4 338.6 279.8 338.7 280.2 338.8 280.5 338.6 280.9 338.5 281.3 338.4 281.6 338.5 282.0 338.4 282.4 338.5 282.7 338.4 283.1 338.3 283.5 338.4 283.8 338.4 284.2 338.5 284.6 338.4 284.9 338.5 285.3 338.4 285.7 338.1 286.0 337.5 286.4 336.8 286.8 336.4 287.1 336.0 287.5 336.5 287.8 336.9 288.2 337.1 288.6 337.6 288.9 338.0 289.3 338.1 289.7 338.0 290.0 338.0 290.4 338.1 290.8 337.8 291.1 337.4 291.5 337.3 291.9 337.6 292.2 337.6 292.6 337.9 293.0 338.3 293.3 338.3 293.7 338.2 294.0 338.2 294.4 338.1 294.8 338.3 295.1 338.3 295.5 338.2 295.9 338.3 296.2 337.9 296.6 338.1 297.0 338.0 297.3 338.4 297.7 338.4 298.1 338.3 298.4 338.6 298.8 338.3 299.2 338.4 299.5 338.3 299.9 338.1 300.3 338.2 300.6 338.2 301.0 338.3 301.4 338.4 301.7 338.4 302.1 338.2 302.4 338.2 302.8 337.9 303.2 337.3 303.5 337.0 303.9 336.9 304.3 336.8 304.6 337.0 305.0 337.0 305.4 337.3 305.7 337.5 306.1 337.9 306.5 338.2 306.8 338.0 307.2 338.2 307.6 338.1 307.9 338.3 308.3 338.5 308.6 338.1 309.0 338.0 309.4 338.0 309.7 338.1 310.1 338.1 310.5 338.1 310.8 338.3 311.2 338.4 311.6 338.2 311.9 338.1 312.3 338.3 312.7 338.0 313.0 338.0 313.4 338.1 313.8 338.3 314.1 338.0 314.5 337.7 314.9 337.4 315.2 336.8 315.6 335.6 315.9 334.0 316.3 332.2 316.7 330.3 317.0 328.6 317.4 328.3 317.8 329.7 318.1 331.7 318.5 333.5 318.9 335.1 319.2 336.3 319.6 337.3 320.0 337.5 320.3 337.8 320.7 338.0 321.1 338.1 321.4 338.3 321.8 338.1 322.2 338.0 322.5 337.8 322.9 337.7 323.2 337.8 323.6 337.8 324.0 337.7 324.3 337.8 324.7 337.9 325.1 337.6 325.4 337.6 325.8 337.4 326.2 337.3 326.5 337.0 326.9 336.4 327.3 335.6 327.6 333.8 328.0 331.0 328.4 328.1 328.7 325.0 329.1 323.1 329.5 323.0 329.8 325.2 330.2 328.6 330.6 331.5 330.9 333.9 331.3 335.8 331.6 336.6 332.0 337.2 332.4 337.5 332.7 337.8 333.1 337.9 333.5 337.8 333.8 338.1 334.2 338.2 334.6 338.3 334.9 338.3 335.3 338.3 335.7 338.4 336.0 338.5 336.4 338.3 336.8 338.1 337.1 337.8 337.5 337.8 337.8 337.5 338.2 337.5 338.6 337.6 338.9 337.5 339.3 337.2 339.7 336.9 340.0 336.0 340.4 335.2 340.8 333.8 341.1 331.1 341.5 327.0 341.9 321.5 342.2 315.6 342.6 311.5 343.0 311.3 343.3 315.1 343.7 320.9 344.1 326.4 344.4 330.6 344.8 333.5 345.1 335.3 345.5 336.4 345.9 336.7 346.2 336.8 346.6 337.2 347.0 337.1 347.3 337.5 347.7 337.6 348.1 337.4 348.4 337.5 348.8 337.7 349.2 337.4 349.5 337.1 349.9 337.0 350.3 336.4 350.6 335.5 351.0 334.2 351.4 332.0 351.7 328.9 352.1 325.2 352.4 322.2 352.8 321.4 353.2 323.0 353.5 326.6 353.9 330.1 354.3 332.7 354.6 334.8 355.0 336.1 355.4 337.1 355.7 337.6 356.1 337.5 356.5 337.6 356.8 337.8 357.2 337.7 357.6 337.7 357.9 338.1 358.3 337.9 358.7 338.1 359.0 338.0 359.4 337.8 359.8 338.0 360.1 337.9 360.5 337.9 360.8 337.8 361.2 337.8 361.6 337.9 361.9 338.1 362.3 338.0 362.7 337.9 363.0 337.9 363.4 337.9 363.8 337.8 364.1 337.6 364.5 337.3 364.9 337.2 365.2 337.3 365.6 337.2 366.0 336.9 366.3 335.9 366.7 334.5 367.1 332.6 367.4 330.2 367.8 328.0 368.1 326.8 368.5 327.3 368.9 329.2 369.2 331.7 369.6 333.9 370.0 335.3 370.3 336.4 370.7 336.9 371.1 336.9 371.4 336.7 371.8 336.4 372.2 335.7 372.5 334.4 372.9 333.2 373.3 331.9 373.6 331.3 374.0 331.7 374.3 332.8 374.7 333.9 375.1 335.0 375.4 335.3 375.8 335.2 376.2 334.7 376.5 333.9 376.9 332.1 377.3 329.3 377.6 325.5 378.0 320.2 378.4 314.9 378.7 310.9 379.1 309.5 379.5 311.4 379.8 315.4 380.2 319.6 380.6 323.2 380.9 325.1 381.3 325.3 381.6 323.7 382.0 319.7 382.4 313.1 382.7 303.8 383.1 292.4 383.5 280.8 383.8 273.9 384.2 275.0 384.6 283.8 384.9 296.1 385.3 308.2 385.7 318.1 386.0 325.1 386.4 329.8 386.8 332.5 387.1 333.9 387.5 335.0 387.9 335.6 388.2 335.8 388.6 336.3 388.9 336.5 389.3 336.5 389.7 336.6 390.0 336.4 390.4 336.3 390.8 336.1 391.1 336.0 391.5 335.6 391.9 335.7 392.2 335.5 392.6 336.0 393.0 336.6 393.3 336.4 393.7 336.4 394.1 336.3 394.4 335.9 394.8 335.7 395.2 335.2 395.5 334.7 395.9 334.6 396.2 334.3 396.6 334.4 397.0 334.7 397.3 335.1 397.7 335.8 398.1 336.0 398.4 336.4 398.8 336.7 399.2 337.1 399.5 337.4 399.9 337.6 400.3 337.8 400.6 337.9 401.0 337.9 401.4 338.1 401.7 338.3 402.1 338.3 402.5 338.4 402.8 338.6 403.2 338.4 403.6 338.3 403.9 338.1 404.3 337.9 404.6 337.7 405.0 337.5 405.4 337.6 405.7 337.4 406.1 337.3 406.5 337.2 406.8 336.9 407.2 337.0 407.6 337.2 407.9 337.3 408.3 337.3 408.7 337.6 409.0 337.8 409.4 337.9 409.8 338.2 410.1 338.2 410.5 338.0 410.8 338.2 411.2 338.3 411.6 338.4 411.9 338.3 412.3 338.2 412.7 338.3 413.0 338.2 413.4 338.1 413.8 338.2 414.1 338.5 414.5 338.4 414.9 338.3 415.2 338.4 415.6 338.4 416.0 338.7 416.3 338.5 416.7 338.5 417.1 338.4 417.4 338.3 417.8 338.2 418.1 338.0 418.5 338.0 418.9 337.9 419.2 337.5 419.6 337.3 420.0 337.1 420.3 336.9 420.7 336.4 421.1 335.9 421.4 335.5 421.8 335.5 422.2 335.5 422.5 335.8 422.9 336.0 423.3 336.5 423.6 337.0 424.0 337.3 424.4 337.7 424.7 337.9 425.1 337.9 425.4 337.8 425.8 337.9 426.2 337.7 426.5 337.7 426.9 337.6 427.3 337.4 427.6 337.3 428.0 336.9 428.4 336.7 428.7 336.8 429.1 337.0 429.5 336.9 429.8 337.0 430.2 337.0 430.6 337.5 430.9 337.6 431.3 337.8 431.7 337.8 432.0 337.8 432.4 338.0 432.8 338.1 433.1 338.2 433.5 338.1 433.8 338.3 434.2 338.2 434.6 338.3 434.9 338.3 435.3 338.3 435.7 338.5 436.0 338.4 436.4 338.6 436.8 338.4 437.1 338.3 437.5 338.4 437.9 338.3 438.2 338.3 438.6 338.3 439.0 338.5 439.3 338.6 439.7 338.5 440.1 338.3 440.4 338.5 440.8 338.6 441.1 338.1 441.5 338.3 441.9 338.5 442.2 338.4 442.6 338.2 443.0 338.4 443.3 338.3 443.7 338.3 444.1 338.4 444.4 338.1 444.8 338.4 445.2 338.2 445.5 338.0 445.9 338.0 446.3 338.2 446.6 338.0 447.0 338.2 447.3 338.4 447.7 338.2 448.1 338.1 448.4 337.6 448.8 337.2 449.2 337.1 449.5 336.8 449.9 336.3 450.3 336.4 450.6 336.5 451.0 336.8 451.4 337.2 451.7 337.4 452.1 337.6 452.5 338.1 452.8 338.2 453.2 338.3 453.6 338.1 453.9 337.9 454.3 337.9 454.6 338.1 455.0 338.1 455.4 338.2 455.7 338.7 456.1 338.5 456.5 338.6 456.8 338.5 457.2 338.4 457.6 338.3 457.9 338.2 458.3 338.4 458.7 338.2 459.0 338.5 459.4 338.4 459.8 338.2 460.1 338.2 460.5 338.3 460.9 338.2 461.2 338.2 461.6 337.9 461.9 337.8 462.3 337.7 462.7 337.1 463.0 337.0 463.4 336.7 463.8 336.2 464.1 336.0 464.5 335.4 464.9 334.7 465.2 334.1 465.6 333.6 466.0 333.2 466.3 332.6 466.7 332.2 467.1 331.8 467.4 331.7 467.8 331.6 468.2 332.1 468.5 332.8 468.9 333.3 469.2 333.7 469.6 334.2 470.0 334.9 470.3 335.8 470.7 336.2 471.1 336.5 471.4 336.9 471.8 337.2 472.2 337.4 472.5 337.7 472.9 337.7 473.3 337.8 473.6 338.1 474.0 338.0 474.4 338.2 474.7 338.1 475.1 338.0 475.5 338.2 475.8 337.9 476.2 337.8 476.6 337.8 476.9 338.1 477.3 337.8 477.6 337.5 478.0 337.3 478.4 337.0 478.7 337.2 479.1 337.2 479.5 337.2 479.8 337.4 480.2 337.5 480.6 337.9 480.9 337.9 481.3 337.7 481.7 337.9 482.0 338.0 482.4 338.0 482.8 338.3 483.1 338.1 483.5 337.9 483.8 338.0 484.2 338.0 484.6 337.9 484.9 337.5 485.3 336.8 485.7 336.8 486.0 336.6 486.4 336.4 486.8 336.4 487.1 336.3 487.5 336.5 487.9 336.8 488.2 337.4 488.6 337.6 489.0 337.7 489.3 337.7 489.7 337.7 490.1 337.7 490.4 337.5 490.8 337.5 491.1 337.5 491.5 337.4 491.9 336.9 492.2 336.0 492.6 334.9 493.0 332.8 493.3 330.0 493.7 327.1 494.1 325.5 494.4 325.9 494.8 327.8 495.2 330.7 495.5 333.2 495.9 335.1 496.3 336.1 496.6 336.7 497.0 337.2 497.4 337.5 497.7 337.7 498.1 337.9 498.4 337.8 498.8 338.0 499.2 338.1 499.5 338.0 499.9 338.3 500.3 338.1 500.6 338.0 501.0 338.0 501.4 338.0 501.7 337.8 502.1 337.4 502.5 336.9 502.8 336.2 503.2 335.4 503.6 334.8 503.9 334.5 504.3 334.7 504.7 335.3 505.0 335.9 505.4 336.5 505.8 337.0 506.1 337.3 506.5 337.4 506.8 337.5 507.2 337.7 507.6 338.0 507.9 338.0 508.3 337.9 508.7 337.9 509.0 337.8 509.4 337.5 509.8 337.2 510.1 336.5 510.5 336.1 510.9 335.5 511.2 334.4 511.6 334.0 512.0 333.4 512.3 333.2 512.7 333.5 513.0 334.0 513.4 334.8 513.8 335.6 514.1 336.4 514.5 337.2 514.9 337.5 515.2 337.6 515.6 337.9 516.0 337.8 516.3 338.0 516.7 338.0 517.1 338.2 517.4 338.1 517.8 337.9 518.2 337.8 518.5 337.9 518.9 337.8 519.3 337.6 519.6 337.2 520.0 337.0 520.3 337.1 520.7 336.9 521.1 336.8 521.4 337.0 521.8 337.2 522.2 337.4 522.5 337.8 522.9 338.0 523.3 338.0 523.6 337.9 524.0 338.1 524.4 338.0 524.7 338.2 525.1 338.2 525.5 338.3 525.8 338.1 526.2 338.3 526.6 338.4 526.9 338.5 527.3 338.7 527.6 338.8 528.0 338.7 528.4 338.6 528.7 338.5 529.1 338.6 529.5 338.5 529.8 338.5 530.2 338.2 530.6 338.1 530.9 338.1 531.3 338.4 531.7 338.4 532.0 338.4 532.4 338.3 532.8 338.2 533.1 338.3 533.5 338.3 533.9 338.6 534.2 338.6 534.6 338.4 535.0 338.6 535.3 338.3 535.7 338.2 536.0 338.4 536.4 338.3 536.8 338.2 537.1 338.3 537.5 338.5 537.9 338.6 538.2 338.5 538.6 338.4 539.0 338.3 539.3 338.2 539.7 338.1 540.1 338.1 540.4 337.9 540.8 338.3 541.2 338.4 541.5 338.4 541.9 338.5 542.2 338.6 542.6 338.5 543.0 338.4 543.3 338.2 543.7 338.1 544.1 338.3 544.4 338.4 544.8 338.3 545.2 338.4 545.5 338.3 545.9 338.3 546.3 338.5 546.6 338.5 547.0 338.3 547.4 338.3 547.7 338.5 548.1 338.3 548.5 338.3 548.8 338.5 549.2 338.5 549.5 338.5 549.9 338.6 550.3 338.4 550.6 338.4 551.0 338.3 551.4 338.3 551.7 338.4 552.1 338.1 552.5 338.0 552.8 338.1 553.2 338.0 553.6 338.2 553.9 338.1 554.3 338.5 554.7 338.5 555.0 338.4 555.4 338.5 555.8 338.4 556.1 338.1 556.5 338.4 556.8 338.5 557.2 338.3 557.6 338.3 557.9 338.5 558.3 338.2 558.7 338.0 559.0 338.1 559.4 337.9 559.8 338.0 560.1 337.6 560.5 337.6 560.9 337.8 561.2 337.8 561.6 337.9 562.0 338.1 562.3 338.3 562.7 338.5 563.1 338.3 563.4 338.2 563.8 338.2 564.1 338.3 564.5 338.3 564.9 338.5 565.2 338.4 565.6 338.5 566.0 338.5 566.3 338.5 566.7 338.3 567.1 338.2 567.4 338.4 567.8 338.1 568.2 338.2 568.5 338.2 568.9 338.5 569.3 338.5 569.6 338.4 570.0 338.5 570.4 338.1 570.7 338.1 571.1 338.1 571.4 338.0 571.8 337.8 572.2 337.7 572.5 336.8 572.9 335.8 573.3 334.2 573.6 332.6 574.0 331.5 574.4 331.8 574.7 333.5 575.1 335.1 575.5 336.4 575.8 337.1 576.2 337.6 576.6 337.9 576.9 338.1 577.3 338.2 577.7 338.1 578.0 337.9 578.4 337.8 578.8 338.1 579.1 337.9 579.5 337.5 579.8 337.6 580.2 337.7 580.6 337.4 580.9 337.5 581.3 337.2 581.7 337.1 582.0 336.8 582.4 336.4 582.8 336.0 583.1 335.7 583.5 334.9 583.9 334.2 584.2 333.6 584.6 332.6 585.0 331.6 585.3 330.8 585.7 329.7 586.0 329.6 586.4 329.4 586.8 329.3 587.1 329.4 587.5 330.0 587.9 330.5 588.2 331.4 588.6 331.9 589.0 332.6 589.3 333.1 589.7 333.5 590.1 333.9 590.4 333.9 590.8 334.3 591.2 334.3 591.5 334.2 591.9 334.5 592.3 334.8 592.6 335.0 593.0 335.5 593.4 335.8 593.7 336.2 594.1 336.5 594.4 336.9 594.8 337.2 595.2 337.4 595.5 337.3 595.9 337.4 596.3 337.2 596.6 337.1 597.0 336.7 597.4 336.2 597.7 335.9 598.1 335.1 598.5 334.4 598.8 333.5 599.2 332.4 599.6 331.9 599.9 331.4 600.3 331.3 600.6 331.5 601.0 332.4 601.4 333.3 601.7 334.0 602.1 335.1 602.5 335.5 602.8 336.3 603.2 337.0 603.6 337.3 603.9 337.3 604.3 337.7 604.7 337.9 605.0 338.0 605.4 337.9 605.8 338.3 606.1 338.3 606.5 338.2 606.9 338.2 607.2 338.3 607.6 338.3 607.9 338.2 608.3 338.1 608.7 337.9 609.0 338.1 609.4 338.0 609.8 337.9 610.1 338.1 610.5 338.2 610.9 338.2 611.2 338.3 611.6 338.4 612.0 338.3 612.3 338.2 612.7 338.1 613.1 338.2 613.4 338.1 613.8 338.0 614.2 338.2 614.5 338.2 614.9 338.1 615.2 338.3 615.6 338.4 616.0 338.2 616.3 338.0 616.7 337.6 617.1 337.4 617.4 337.2 617.8 336.8 618.2 336.5 618.5 336.2 618.9 335.4 619.3 334.8 619.6 334.5 620.0 334.4 620.4 334.3 620.7 335.1 621.1 335.5 621.5 336.0 621.8 336.6 622.2 337.0 622.5 337.4 622.9 337.7 623.3 338.0 623.6 338.1 624.0 338.1 624.4 338.4 624.7 338.3 625.1 338.2 625.5 338.2 625.8 338.2 626.2 338.2 626.6 338.2 626.9 338.4 627.3 338.5 627.7 338.6 628.0 338.5 628.4 338.6 628.8 338.6 629.1 338.4 629.5 338.6 629.9 338.5 630.2 338.6 630.6 338.4 630.9 338.4 631.3 338.2 631.7 338.6 632.0 338.5 632.4 338.5 632.8 338.3 633.1 338.4 633.5 338.2" fill="none" stroke="#f22fa2" stroke-width="1.7" stroke-linejoin="round"/>
<path d="M49.5 409.7 49.9 409.9 50.2 410.0 50.6 410.0 51.0 409.8 51.3 410.0 51.7 409.9 52.1 410.0 52.4 410.1 52.8 409.9 53.1 410.0 53.5 409.8 53.9 409.6 54.2 409.6 54.6 409.7 55.0 409.8 55.3 409.9 55.7 409.8 56.1 409.9 56.4 409.9 56.8 409.9 57.2 410.0 57.5 409.8 57.9 409.9 58.3 410.1 58.6 409.9 59.0 409.9 59.4 410.0 59.7 410.3 60.1 410.0 60.5 410.0 60.8 410.2 61.2 410.0 61.5 409.9 61.9 409.8 62.3 409.9 62.6 410.0 63.0 409.8 63.4 410.1 63.7 410.0 64.1 410.0 64.5 409.9 64.8 409.8 65.2 409.9 65.6 410.0 65.9 409.9 66.3 410.1 66.7 410.2 67.0 410.1 67.4 410.1 67.8 409.9 68.1 409.6 68.5 409.8 68.8 409.9 69.2 409.9 69.6 409.8 69.9 409.8 70.3 410.0 70.7 410.1 71.0 410.0 71.4 410.0 71.8 410.1 72.1 410.0 72.5 409.8 72.9 410.0 73.2 409.9 73.6 410.0 74.0 409.9 74.3 409.9 74.7 409.6 75.0 409.7 75.4 409.8 75.8 409.6 76.1 409.7 76.5 409.7 76.9 409.7 77.2 409.7 77.6 409.9 78.0 410.0 78.3 409.9 78.7 409.7 79.1 409.8 79.4 410.0 79.8 410.1 80.2 410.2 80.5 410.3 80.9 409.9 81.3 409.8 81.6 409.8 82.0 410.1 82.3 409.9 82.7 409.8 83.1 409.8 83.4 409.8 83.8 409.9 84.2 410.0 84.5 410.1 84.9 410.2 85.3 410.3 85.6 410.1 86.0 410.1 86.4 410.3 86.7 410.1 87.1 410.0 87.5 409.9 87.8 409.9 88.2 410.0 88.6 409.8 88.9 409.7 89.3 409.7 89.7 409.9 90.0 409.7 90.4 409.6 90.7 409.8 91.1 410.0 91.5 409.9 91.8 409.8 92.2 409.8 92.6 410.1 92.9 409.8 93.3 409.9 93.7 410.0 94.0 410.0 94.4 410.0 94.8 410.3 95.1 410.0 95.5 410.2 95.9 410.2 96.2 410.1 96.6 410.0 96.9 410.0 97.3 410.2 97.7 410.1 98.0 410.2 98.4 410.1 98.8 410.2 99.1 410.2 99.5 410.4 99.9 410.3 100.2 410.2 100.6 410.2 101.0 410.1 101.3 410.2 101.7 410.0 102.1 410.0 102.4 410.0 102.8 409.9 103.2 410.0 103.5 409.7 103.9 409.8 104.2 410.0 104.6 410.0 105.0 409.8 105.3 409.9 105.7 409.9 106.1 409.9 106.4 410.0 106.8 410.2 107.2 410.2 107.5 410.2 107.9 410.1 108.3 410.2 108.6 410.1 109.0 410.0 109.4 410.2 109.7 410.4 110.1 410.1 110.5 410.1 110.8 409.9 111.2 409.9 111.5 410.0 111.9 410.1 112.3 410.0 112.6 409.8 113.0 409.9 113.4 409.8 113.7 409.9 114.1 409.5 114.5 409.3 114.8 409.0 115.2 408.7 115.6 408.0 115.9 408.2 116.3 408.4 116.7 408.7 117.0 409.3 117.4 409.8 117.8 410.1 118.1 410.1 118.5 410.3 118.8 410.3 119.2 410.2 119.6 410.2 119.9 410.2 120.3 410.1 120.7 409.9 121.0 410.0 121.4 410.0 121.8 410.0 122.1 410.1 122.5 410.0 122.9 410.0 123.2 410.2 123.6 409.9 124.0 410.2 124.3 410.2 124.7 410.1 125.1 410.0 125.4 410.0 125.8 410.2 126.1 410.1 126.5 410.2 126.9 410.3 127.2 410.4 127.6 410.3 128.0 410.2 128.3 410.0 128.7 410.3 129.1 410.5 129.4 410.2 129.8 410.2 130.2 410.1 130.5 410.1 130.9 410.1 131.3 410.4 131.6 410.3 132.0 410.0 132.4 410.1 132.7 410.3 133.1 410.1 133.4 410.3 133.8 410.3 134.2 410.2 134.5 410.5 134.9 410.4 135.3 410.3 135.6 410.4 136.0 410.4 136.4 410.5 136.7 410.5 137.1 410.5 137.5 410.4 137.8 410.6 138.2 410.6 138.6 410.6 138.9 410.5 139.3 410.2 139.7 410.4 140.0 410.3 140.4 410.2 140.8 410.0 141.1 410.1 141.5 410.3 141.8 410.2 142.2 410.2 142.6 409.7 142.9 409.8 143.3 410.0 143.7 410.1 144.0 410.3 144.4 410.3 144.8 410.2 145.1 410.2 145.5 410.2 145.9 410.2 146.2 410.3 146.6 410.6 147.0 410.3 147.3 410.3 147.7 410.2 148.1 410.1 148.4 410.0 148.8 410.3 149.1 410.4 149.5 410.4 149.9 410.3 150.2 410.4 150.6 410.4 151.0 410.3 151.3 410.5 151.7 410.6 152.1 410.6 152.4 410.6 152.8 410.3 153.2 410.6 153.5 410.4 153.9 410.2 154.3 410.2 154.6 410.3 155.0 410.2 155.3 409.9 155.7 410.3 156.1 410.1 156.4 410.2 156.8 410.3 157.2 410.3 157.5 410.3 157.9 410.2 158.3 410.3 158.6 410.1 159.0 410.3 159.4 410.4 159.7 410.4 160.1 410.6 160.5 410.6 160.8 410.6 161.2 410.6 161.6 410.5 161.9 410.5 162.3 410.4 162.6 410.3 163.0 410.5 163.4 410.4 163.7 410.4 164.1 410.3 164.5 410.1 164.8 410.2 165.2 410.1 165.6 410.3 165.9 410.1 166.3 410.1 166.7 409.8 167.0 409.6 167.4 409.4 167.8 409.4 168.1 409.5 168.5 409.6 168.9 409.8 169.2 410.1 169.6 410.3 169.9 410.2 170.3 410.2 170.7 410.3 171.0 410.3 171.4 410.5 171.8 410.2 172.1 410.5 172.5 410.2 172.9 410.4 173.2 410.2 173.6 410.3 174.0 410.3 174.3 410.3 174.7 410.3 175.1 410.5 175.4 410.6 175.8 410.7 176.2 410.7 176.5 410.5 176.9 410.5 177.2 410.5 177.6 410.4 178.0 410.6 178.3 410.5 178.7 410.5 179.1 410.5 179.4 410.6 179.8 410.6 180.2 410.8 180.5 410.6 180.9 410.7 181.3 410.7 181.6 410.3 182.0 410.4 182.4 410.3 182.7 410.3 183.1 410.3 183.5 410.4 183.8 410.0 184.2 410.1 184.5 409.7 184.9 409.5 185.3 409.5 185.6 409.8 186.0 409.9 186.4 410.1 186.7 410.2 187.1 410.3 187.5 410.5 187.8 410.5 188.2 410.5 188.6 410.5 188.9 410.3 189.3 410.2 189.7 410.4 190.0 410.4 190.4 410.3 190.8 410.3 191.1 410.4 191.5 410.6 191.8 410.5 192.2 410.6 192.6 410.6 192.9 410.4 193.3 410.3 193.7 410.3 194.0 410.1 194.4 410.3 194.8 410.1 195.1 410.0 195.5 409.9 195.9 409.8 196.2 409.0 196.6 408.3 197.0 407.3 197.3 406.0 197.7 404.9 198.1 404.5 198.4 405.2 198.8 406.5 199.2 407.5 199.5 408.5 199.9 409.2 200.2 409.9 200.6 410.1 201.0 410.2 201.3 410.0 201.7 409.7 202.1 409.3 202.4 408.8 202.8 408.8 203.2 408.8 203.5 409.3 203.9 409.5 204.3 409.8 204.6 410.1 205.0 410.2 205.4 410.4 205.7 410.4 206.1 410.3 206.4 410.4 206.8 410.3 207.2 410.5 207.5 410.6 207.9 410.6 208.3 410.8 208.6 410.6 209.0 410.6 209.4 410.5 209.7 410.4 210.1 410.7 210.5 410.5 210.8 410.5 211.2 410.4 211.6 410.5 211.9 410.6 212.3 410.8 212.7 410.5 213.0 410.5 213.4 410.6 213.8 410.4 214.1 410.3 214.5 410.3 214.8 410.2 215.2 410.2 215.6 410.4 215.9 410.3 216.3 410.1 216.7 410.0 217.0 410.0 217.4 409.9 217.8 409.8 218.1 409.7 218.5 409.6 218.9 409.3 219.2 409.1 219.6 408.9 220.0 409.1 220.3 409.3 220.7 409.6 221.0 409.9 221.4 410.0 221.8 410.3 222.1 410.3 222.5 410.3 222.9 410.6 223.2 410.4 223.6 410.4 224.0 410.3 224.3 410.5 224.7 410.5 225.1 410.5 225.4 410.4 225.8 410.5 226.2 410.7 226.5 410.6 226.9 410.2 227.3 410.4 227.6 410.3 228.0 410.3 228.3 410.4 228.7 410.6 229.1 410.5 229.4 410.5 229.8 410.6 230.2 410.4 230.5 410.3 230.9 410.3 231.3 410.2 231.6 410.2 232.0 410.0 232.4 410.0 232.7 410.0 233.1 409.9 233.5 409.8 233.8 409.6 234.2 408.8 234.6 408.3 234.9 407.6 235.3 406.6 235.7 405.4 236.0 404.4 236.4 403.2 236.7 402.2 237.1 401.7 237.5 401.6 237.8 402.2 238.2 403.1 238.6 404.5 238.9 405.6 239.3 406.7 239.7 407.5 240.0 408.1 240.4 408.6 240.8 409.2 241.1 409.3 241.5 409.3 241.9 409.4 242.2 409.1 242.6 408.8 242.9 408.2 243.3 407.9 243.7 407.3 244.0 406.9 244.4 406.8 244.8 407.5 245.1 408.1 245.5 408.7 245.9 409.2 246.2 409.5 246.6 409.8 247.0 409.8 247.3 409.8 247.7 410.0 248.1 410.1 248.4 410.1 248.8 410.4 249.2 410.5 249.5 410.3 249.9 410.3 250.2 410.1 250.6 410.1 251.0 410.4 251.3 410.5 251.7 410.5 252.1 410.5 252.4 410.2 252.8 410.3 253.2 410.4 253.5 410.3 253.9 410.5 254.3 410.6 254.6 410.5 255.0 410.3 255.4 410.3 255.7 410.2 256.1 410.3 256.5 410.5 256.8 410.5 257.2 410.4 257.5 410.4 257.9 410.2 258.3 410.4 258.6 410.2 259.0 410.2 259.4 410.1 259.7 410.2 260.1 410.4 260.5 410.4 260.8 410.2 261.2 410.2 261.6 410.0 261.9 410.0 262.3 410.0 262.7 409.7 263.0 409.6 263.4 409.5 263.8 409.2 264.1 408.9 264.5 409.2 264.9 409.2 265.2 409.4 265.6 409.8 265.9 409.8 266.3 409.8 266.7 410.1 267.0 410.2 267.4 410.3 267.8 410.7 268.1 410.5 268.5 410.3 268.9 410.4 269.2 410.4 269.6 410.2 270.0 410.3 270.3 410.3 270.7 410.3 271.1 410.4 271.4 410.4 271.8 410.4 272.1 410.4 272.5 410.5 272.9 410.4 273.2 410.6 273.6 410.7 274.0 410.5 274.3 410.6 274.7 410.8 275.1 410.7 275.4 410.5 275.8 410.5 276.2 410.5 276.5 410.3 276.9 410.4 277.3 410.6 277.6 410.3 278.0 410.3 278.4 410.3 278.7 410.5 279.1 410.4 279.4 410.4 279.8 410.3 280.2 410.1 280.5 410.1 280.9 410.2 281.3 410.4 281.6 410.4 282.0 410.1 282.4 410.0 282.7 410.2 283.1 410.3 283.5 410.4 283.8 410.3 284.2 410.3 284.6 410.2 284.9 409.9 285.3 409.6 285.7 409.1 286.0 408.5 286.4 407.3 286.8 406.4 287.1 406.1 287.5 406.6 287.8 407.2 288.2 408.0 288.6 408.6 288.9 409.0 289.3 409.3 289.7 409.4 290.0 409.4 290.4 409.1 290.8 408.8 291.1 408.4 291.5 408.2 291.9 408.2 292.2 408.7 292.6 409.0 293.0 409.5 293.3 410.1 293.7 410.0 294.0 410.3 294.4 410.4 294.8 410.5 295.1 410.1 295.5 410.5 295.9 410.5 296.2 410.6 296.6 410.8 297.0 410.4 297.3 410.3 297.7 410.1 298.1 410.1 298.4 410.3 298.8 410.3 299.2 410.2 299.5 410.4 299.9 410.2 300.3 410.5 300.6 410.4 301.0 410.4 301.4 410.1 301.7 410.0 302.1 410.0 302.4 410.1 302.8 409.7 303.2 409.5 303.5 408.8 303.9 408.2 304.3 407.6 304.6 407.2 305.0 407.2 305.4 407.4 305.7 408.3 306.1 408.7 306.5 409.4 306.8 409.4 307.2 409.7 307.6 410.0 307.9 410.0 308.3 410.0 308.6 410.0 309.0 410.1 309.4 410.0 309.7 410.1 310.1 410.1 310.5 410.2 310.8 410.0 311.2 410.0 311.6 409.8 311.9 410.1 312.3 409.9 312.7 409.8 313.0 409.7 313.4 409.6 313.8 409.2 314.1 409.0 314.5 408.6 314.9 407.8 315.2 406.4 315.6 403.9 315.9 400.5 316.3 395.8 316.7 390.6 317.0 386.9 317.4 386.4 317.8 389.8 318.1 394.9 318.5 400.0 318.9 403.6 319.2 406.0 319.6 407.6 320.0 408.5 320.3 408.9 320.7 409.1 321.1 409.4 321.4 409.3 321.8 409.5 322.2 409.5 322.5 409.5 322.9 409.4 323.2 409.6 323.6 409.6 324.0 409.3 324.3 409.2 324.7 409.1 325.1 408.9 325.4 408.8 325.8 408.8 326.2 408.5 326.5 408.2 326.9 407.4 327.3 406.4 327.6 404.1 328.0 400.2 328.4 394.3 328.7 386.5 329.1 378.5 329.5 372.3 329.8 371.5 330.2 376.8 330.6 385.0 330.9 392.8 331.3 399.1 331.6 403.3 332.0 406.0 332.4 407.3 332.7 407.8 333.1 408.4 333.5 408.5 333.8 408.6 334.2 408.8 334.6 408.9 334.9 409.1 335.3 409.2 335.7 409.2 336.0 409.3 336.4 409.5 336.8 409.1 337.1 409.0 337.5 409.0 337.8 408.6 338.2 408.4 338.6 408.2 338.9 408.0 339.3 407.6 339.7 406.9 340.0 405.7 340.4 403.5 340.8 399.8 341.1 393.5 341.5 383.8 341.9 371.1 342.2 357.1 342.6 346.9 343.0 345.9 343.3 354.6 343.7 367.9 344.1 381.0 344.4 391.5 344.8 398.7 345.1 402.8 345.5 405.0 345.9 406.3 346.2 407.0 346.6 407.5 347.0 407.8 347.3 408.1 347.7 408.3 348.1 408.3 348.4 408.4 348.8 408.4 349.2 408.2 349.5 407.9 349.9 407.6 350.3 407.2 350.6 406.2 351.0 404.0 351.4 400.4 351.7 394.8 352.1 387.6 352.4 380.0 352.8 374.3 353.2 373.5 353.5 378.5 353.9 386.0 354.3 393.6 354.6 399.4 355.0 403.8 355.4 405.9 355.7 407.1 356.1 408.0 356.5 408.5 356.8 408.7 357.2 408.8 357.6 409.3 357.9 409.4 358.3 409.4 358.7 409.5 359.0 409.5 359.4 409.4 359.8 409.4 360.1 409.5 360.5 409.3 360.8 409.4 361.2 409.4 361.6 409.3 361.9 409.5 362.3 409.6 362.7 409.6 363.0 409.3 363.4 409.2 363.8 408.9 364.1 408.8 364.5 408.8 364.9 408.6 365.2 408.2 365.6 407.6 366.0 406.7 366.3 404.7 366.7 401.4 367.1 396.6 367.4 390.9 367.8 385.5 368.1 382.6 368.5 383.9 368.9 388.5 369.2 394.3 369.6 399.1 370.0 402.9 370.3 405.4 370.7 406.6 371.1 407.2 371.4 407.1 371.8 406.6 372.2 405.1 372.5 403.4 372.9 400.8 373.3 398.8 373.6 398.1 374.0 398.9 374.3 400.9 374.7 403.2 375.1 405.3 375.4 406.5 375.8 407.1 376.2 407.3 376.5 407.1 376.9 406.3 377.3 404.8 377.6 402.7 378.0 399.5 378.4 395.3 378.7 390.6 379.1 386.7 379.5 384.7 379.8 385.4 380.2 388.4 380.6 391.5 380.9 394.1 381.3 395.3 381.6 395.4 382.0 394.1 382.4 391.3 382.7 386.3 383.1 378.8 383.5 369.4 383.8 359.6 384.2 352.8 384.6 352.7 384.9 359.4 385.3 370.1 385.7 381.3 386.0 390.6 386.4 397.2 386.8 401.7 387.1 404.2 387.5 406.0 387.9 406.8 388.2 407.6 388.6 408.0 388.9 408.0 389.3 408.2 389.7 408.3 390.0 408.3 390.4 408.2 390.8 407.8 391.1 407.1 391.5 406.6 391.9 406.3 392.2 406.5 392.6 407.3 393.0 407.9 393.3 407.9 393.7 408.4 394.1 408.3 394.4 407.8 394.8 407.1 395.2 406.3 395.5 405.4 395.9 404.1 396.2 403.0 396.6 401.8 397.0 401.5 397.3 401.9 397.7 402.7 398.1 403.8 398.4 405.3 398.8 406.5 399.2 407.4 399.5 408.4 399.9 408.8 400.3 409.3 400.6 409.4 401.0 409.6 401.4 409.7 401.7 409.9 402.1 409.7 402.5 409.9 402.8 409.8 403.2 409.8 403.6 410.0 403.9 409.8 404.3 409.9 404.6 409.9 405.0 409.4 405.4 408.9 405.7 408.8 406.1 408.4 406.5 408.2 406.8 407.9 407.2 407.6 407.6 407.7 407.9 408.3 408.3 408.9 408.7 409.3 409.0 409.5 409.4 409.9 409.8 410.0 410.1 410.2 410.5 410.1 410.8 410.1 411.2 410.0 411.6 410.2 411.9 410.0 412.3 410.1 412.7 410.1 413.0 410.2 413.4 410.4 413.8 410.4 414.1 410.2 414.5 410.2 414.9 410.1 415.2 410.2 415.6 410.1 416.0 410.3 416.3 410.3 416.7 410.4 417.1 410.2 417.4 410.0 417.8 410.0 418.1 409.8 418.5 410.0 418.9 409.6 419.2 409.5 419.6 408.8 420.0 408.0 420.3 407.0 420.7 406.0 421.1 405.2 421.4 404.4 421.8 404.0 422.2 404.4 422.5 405.0 422.9 406.1 423.3 407.1 423.6 408.0 424.0 408.8 424.4 409.2 424.7 409.5 425.1 409.7 425.4 409.8 425.8 409.7 426.2 409.5 426.5 409.3 426.9 409.3 427.3 409.1 427.6 408.9 428.0 408.5 428.4 408.2 428.7 407.9 429.1 407.6 429.5 407.2 429.8 407.0 430.2 407.4 430.6 407.8 430.9 408.0 431.3 408.3 431.7 408.8 432.0 409.5 432.4 409.9 432.8 410.2 433.1 410.2 433.5 410.1 433.8 410.2 434.2 410.1 434.6 410.1 434.9 410.1 435.3 410.1 435.7 410.1 436.0 410.1 436.4 410.3 436.8 410.5 437.1 410.3 437.5 410.3 437.9 410.2 438.2 410.2 438.6 410.2 439.0 410.4 439.3 410.4 439.7 410.4 440.1 410.2 440.4 410.1 440.8 410.3 441.1 410.2 441.5 410.3 441.9 410.2 442.2 410.2 442.6 410.4 443.0 410.3 443.3 410.2 443.7 410.2 444.1 410.4 444.4 410.5 444.8 410.5 445.2 410.3 445.5 410.2 445.9 410.1 446.3 410.0 446.6 409.8 447.0 410.0 447.3 409.9 447.7 409.6 448.1 409.5 448.4 409.4 448.8 408.7 449.2 408.3 449.5 407.6 449.9 406.7 450.3 406.7 450.6 406.9 451.0 407.0 451.4 408.0 451.7 408.8 452.1 409.2 452.5 409.4 452.8 409.9 453.2 410.1 453.6 410.4 453.9 410.2 454.3 410.3 454.6 410.2 455.0 410.2 455.4 410.3 455.7 410.1 456.1 410.3 456.5 410.4 456.8 410.4 457.2 410.2 457.6 410.3 457.9 410.0 458.3 410.1 458.7 410.2 459.0 410.1 459.4 410.2 459.8 410.2 460.1 410.1 460.5 410.0 460.9 409.9 461.2 410.0 461.6 409.9 461.9 409.8 462.3 410.0 462.7 410.2 463.0 409.9 463.4 409.4 463.8 409.3 464.1 408.9 464.5 408.7 464.9 408.1 465.2 407.4 465.6 406.8 466.0 405.7 466.3 404.5 466.7 403.7 467.1 402.6 467.4 401.7 467.8 400.7 468.2 400.4 468.5 400.6 468.9 401.3 469.2 402.0 469.6 403.1 470.0 404.4 470.3 405.5 470.7 406.5 471.1 407.2 471.4 407.7 471.8 408.1 472.2 408.4 472.5 408.9 472.9 409.3 473.3 409.4 473.6 409.4 474.0 409.7 474.4 409.8 474.7 409.6 475.1 409.7 475.5 409.8 475.8 409.5 476.2 409.1 476.6 408.4 476.9 408.1 477.3 407.8 477.6 407.3 478.0 407.2 478.4 407.2 478.7 407.5 479.1 408.0 479.5 408.6 479.8 409.0 480.2 409.5 480.6 409.7 480.9 409.7 481.3 410.0 481.7 410.0 482.0 409.9 482.4 410.0 482.8 410.0 483.1 409.7 483.5 409.7 483.8 409.2 484.2 408.5 484.6 407.5 484.9 406.7 485.3 405.6 485.7 404.5 486.0 404.4 486.4 404.6 486.8 405.5 487.1 406.5 487.5 407.6 487.9 408.5 488.2 409.2 488.6 409.4 489.0 409.6 489.3 409.5 489.7 409.8 490.1 409.8 490.4 409.6 490.8 409.7 491.1 409.6 491.5 409.4 491.9 409.1 492.2 408.5 492.6 407.5 493.0 406.2 493.3 404.2 493.7 401.8 494.1 399.5 494.4 398.5 494.8 399.1 495.2 401.3 495.5 403.5 495.9 406.0 496.3 407.2 496.6 408.5 497.0 409.1 497.4 409.3 497.7 409.7 498.1 409.6 498.4 409.4 498.8 409.8 499.2 409.9 499.5 409.9 499.9 409.8 500.3 409.9 500.6 409.8 501.0 409.7 501.4 409.7 501.7 409.6 502.1 409.3 502.5 408.6 502.8 407.3 503.2 405.9 503.6 404.7 503.9 404.0 504.3 404.4 504.7 405.5 505.0 407.1 505.4 408.0 505.8 408.8 506.1 409.3 506.5 409.6 506.8 409.8 507.2 409.8 507.6 409.6 507.9 409.8 508.3 409.6 508.7 409.4 509.0 409.5 509.4 409.6 509.8 409.3 510.1 408.8 510.5 407.8 510.9 406.7 511.2 404.9 511.6 402.7 512.0 400.5 512.3 399.0 512.7 398.7 513.0 400.0 513.4 401.5 513.8 403.7 514.1 405.7 514.5 407.2 514.9 408.2 515.2 408.7 515.6 409.2 516.0 409.3 516.3 409.4 516.7 409.7 517.1 410.1 517.4 409.9 517.8 410.0 518.2 409.7 518.5 409.4 518.9 409.2 519.3 409.2 519.6 408.6 520.0 408.1 520.3 407.9 520.7 407.6 521.1 407.3 521.4 407.2 521.8 407.9 522.2 408.4 522.5 409.1 522.9 409.4 523.3 409.7 523.6 409.8 524.0 409.8 524.4 410.1 524.7 410.4 525.1 410.3 525.5 410.1 525.8 410.1 526.2 410.0 526.6 410.0 526.9 410.0 527.3 410.0 527.6 410.0 528.0 409.9 528.4 409.5 528.7 409.2 529.1 409.0 529.5 409.0 529.8 408.9 530.2 409.0 530.6 409.2 530.9 409.1 531.3 409.6 531.7 409.8 532.0 409.7 532.4 410.1 532.8 409.9 533.1 410.0 533.5 410.1 533.9 410.4 534.2 410.1 534.6 410.0 535.0 409.8 535.3 410.1 535.7 410.2 536.0 410.2 536.4 410.4 536.8 410.8 537.1 410.8 537.5 410.6 537.9 410.3 538.2 410.0 538.6 409.8 539.0 409.6 539.3 409.4 539.7 409.1 540.1 409.0 540.4 409.3 540.8 409.4 541.2 409.6 541.5 409.7 541.9 409.7 542.2 409.8 542.6 410.0 543.0 410.1 543.3 410.4 543.7 410.5 544.1 410.4 544.4 410.3 544.8 410.7 545.2 410.5 545.5 410.3 545.9 410.3 546.3 410.4 546.6 410.2 547.0 410.4 547.4 410.5 547.7 410.3 548.1 410.5 548.5 410.5 548.8 410.3 549.2 410.2 549.5 410.3 549.9 410.1 550.3 410.3 550.6 410.2 551.0 410.0 551.4 409.9 551.7 410.0 552.1 410.0 552.5 410.4 552.8 410.4 553.2 410.5 553.6 410.4 553.9 410.3 554.3 410.4 554.7 410.5 555.0 410.3 555.4 410.2 555.8 410.3 556.1 410.4 556.5 410.2 556.8 410.3 557.2 410.6 557.6 410.3 557.9 410.4 558.3 410.1 558.7 409.8 559.0 409.5 559.4 409.0 559.8 408.5 560.1 408.2 560.5 408.0 560.9 407.9 561.2 408.4 561.6 408.9 562.0 409.4 562.3 409.7 562.7 410.1 563.1 410.3 563.4 410.4 563.8 410.4 564.1 410.3 564.5 410.0 564.9 409.8 565.2 410.0 565.6 410.1 566.0 410.0 566.3 410.3 566.7 410.2 567.1 410.1 567.4 410.2 567.8 410.3 568.2 410.3 568.5 410.1 568.9 410.3 569.3 410.1 569.6 410.3 570.0 410.1 570.4 410.0 570.7 410.0 571.1 409.8 571.4 409.7 571.8 409.3 572.2 408.9 572.5 407.7 572.9 405.3 573.3 401.8 573.6 397.7 574.0 395.0 574.4 396.2 574.7 400.2 575.1 404.0 575.5 406.9 575.8 408.4 576.2 409.3 576.6 409.5 576.9 409.7 577.3 409.8 577.7 410.0 578.0 409.9 578.4 409.9 578.8 410.0 579.1 410.1 579.5 410.2 579.8 410.3 580.2 410.1 580.6 410.2 580.9 410.1 581.3 409.8 581.7 409.8 582.0 409.7 582.4 409.6 582.8 409.6 583.1 409.7 583.5 409.3 583.9 408.7 584.2 408.2 584.6 407.4 585.0 406.4 585.3 405.0 585.7 403.7 586.0 402.5 586.4 401.9 586.8 401.8 587.1 402.1 587.5 402.8 587.9 403.4 588.2 403.4 588.6 403.3 589.0 403.0 589.3 402.1 589.7 401.3 590.1 401.4 590.4 402.0 590.8 402.9 591.2 404.1 591.5 405.2 591.9 406.2 592.3 406.7 592.6 407.3 593.0 407.4 593.4 407.5 593.7 407.3 594.1 407.0 594.4 406.8 594.8 406.8 595.2 406.9 595.5 406.9 595.9 406.8 596.3 407.1 596.6 407.3 597.0 407.5 597.4 407.3 597.7 406.9 598.1 406.6 598.5 406.3 598.8 406.0 599.2 405.6 599.6 405.6 599.9 405.7 600.3 405.6 600.6 406.3 601.0 406.8 601.4 407.5 601.7 407.9 602.1 408.5 602.5 409.0 602.8 409.4 603.2 409.7 603.6 409.9 603.9 410.0 604.3 409.9 604.7 409.9 605.0 410.1 605.4 410.0 605.8 410.0 606.1 409.9 606.5 410.1 606.9 410.3 607.2 410.0 607.6 410.0 607.9 410.0 608.3 410.3 608.7 409.9 609.0 409.9 609.4 409.9 609.8 410.2 610.1 410.2 610.5 410.3 610.9 410.3 611.2 410.2 611.6 410.1 612.0 410.0 612.3 409.9 612.7 409.9 613.1 410.0 613.4 410.0 613.8 410.3 614.2 410.2 614.5 410.3 614.9 410.1 615.2 410.0 615.6 410.0 616.0 410.1 616.3 410.1 616.7 410.1 617.1 410.0 617.4 409.6 617.8 409.0 618.2 408.3 618.5 407.1 618.9 405.6 619.3 403.8 619.6 402.4 620.0 401.8 620.4 402.6 620.7 404.0 621.1 405.4 621.5 406.3 621.8 406.8 622.2 407.1 622.5 407.2 622.9 407.2 623.3 407.1 623.6 407.3 624.0 407.3 624.4 407.6 624.7 408.0 625.1 408.5 625.5 408.7 625.8 408.9 626.2 409.1 626.6 409.4 626.9 409.5 627.3 409.7 627.7 409.7 628.0 409.9 628.4 410.1 628.8 410.1 629.1 409.9 629.5 410.2 629.9 410.2 630.2 410.4 630.6 410.4 630.9 410.5 631.3 410.4 631.7 410.2 632.0 410.3 632.4 410.5 632.8 410.1 633.1 410.1 633.5 410.3" fill="none" stroke="#1fe9a1" stroke-width="1.7" stroke-linejoin="round"/>
<path d="M49.5 623.5 49.9 623.7 50.2 623.8 50.6 623.8 51.0 623.6 51.3 623.8 51.7 623.7 52.1 623.8 52.4 623.9 52.8 623.7 53.1 623.8 53.5 623.6 53.9 623.4 54.2 623.4 54.6 623.5 55.0 623.6 55.3 623.7 55.7 623.6 56.1 623.7 56.4 623.7 56.8 623.7 57.2 623.8 57.5 623.6 57.9 623.7 58.3 623.9 58.6 623.7 59.0 623.7 59.4 623.8 59.7 624.1 60.1 623.8 60.5 623.8 60.8 624.0 61.2 623.8 61.5 623.7 61.9 623.6 62.3 623.7 62.6 623.8 63.0 623.6 63.4 623.9 63.7 623.8 64.1 623.7 64.5 623.7 64.8 623.6 65.2 623.7 65.6 623.8 65.9 623.7 66.3 623.9 66.7 623.9 67.0 623.9 67.4 623.8 67.8 623.7 68.1 623.4 68.5 623.5 68.8 623.7 69.2 623.6 69.6 623.6 69.9 623.6 70.3 623.8 70.7 623.8 71.0 623.8 71.4 623.8 71.8 623.8 72.1 623.7 72.5 623.6 72.9 623.7 73.2 623.7 73.6 623.7 74.0 623.7 74.3 623.7 74.7 623.4 75.0 623.5 75.4 623.6 75.8 623.4 76.1 623.5 76.5 623.5 76.9 623.5 77.2 623.5 77.6 623.7 78.0 623.8 78.3 623.7 78.7 623.5 79.1 623.6 79.4 623.8 79.8 623.9 80.2 624.0 80.5 624.0 80.9 623.7 81.3 623.5 81.6 623.6 82.0 623.8 82.3 623.7 82.7 623.6 83.1 623.6 83.4 623.6 83.8 623.7 84.2 623.8 84.5 623.9 84.9 624.0 85.3 624.0 85.6 623.9 86.0 623.9 86.4 624.0 86.7 623.9 87.1 623.7 87.5 623.7 87.8 623.7 88.2 623.8 88.6 623.5 88.9 623.5 89.3 623.5 89.7 623.7 90.0 623.4 90.4 623.4 90.7 623.6 91.1 623.8 91.5 623.6 91.8 623.6 92.2 623.6 92.6 623.8 92.9 623.5 93.3 623.6 93.7 623.8 94.0 623.8 94.4 623.8 94.8 624.0 95.1 623.8 95.5 624.0 95.9 624.0 96.2 623.8 96.6 623.8 96.9 623.8 97.3 623.9 97.7 623.9 98.0 623.9 98.4 623.9 98.8 623.9 99.1 624.0 99.5 624.1 99.9 624.0 100.2 624.0 100.6 624.0 101.0 623.9 101.3 623.9 101.7 623.8 102.1 623.8 102.4 623.8 102.8 623.7 103.2 623.8 103.5 623.5 103.9 623.6 104.2 623.8 104.6 623.8 105.0 623.6 105.3 623.7 105.7 623.6 106.1 623.7 106.4 623.8 106.8 624.0 107.2 623.9 107.5 623.9 107.9 623.8 108.3 624.0 108.6 623.9 109.0 623.8 109.4 624.0 109.7 624.1 110.1 623.8 110.5 623.9 110.8 623.6 111.2 623.7 111.5 623.8 111.9 623.9 112.3 623.8 112.6 623.7 113.0 623.7 113.4 623.6 113.7 623.8 114.1 623.5 114.5 623.5 114.8 623.5 115.2 623.4 115.6 622.7 115.9 622.6 116.3 622.2 116.7 622.0 117.0 622.4 117.4 623.1 117.8 623.5 118.1 623.7 118.5 624.0 118.8 624.0 119.2 624.0 119.6 623.9 119.9 623.9 120.3 623.9 120.7 623.7 121.0 623.7 121.4 623.8 121.8 623.8 122.1 623.8 122.5 623.7 122.9 623.8 123.2 623.9 123.6 623.6 124.0 623.9 124.3 624.0 124.7 623.9 125.1 623.7 125.4 623.7 125.8 624.0 126.1 623.8 126.5 624.0 126.9 624.1 127.2 624.1 127.6 624.1 128.0 623.9 128.3 623.7 128.7 624.0 129.1 624.2 129.4 623.9 129.8 623.9 130.2 623.9 130.5 623.8 130.9 623.9 131.3 624.1 131.6 624.1 132.0 623.8 132.4 623.8 132.7 624.0 133.1 623.8 133.4 624.0 133.8 624.0 134.2 624.0 134.5 624.2 134.9 624.2 135.3 624.1 135.6 624.1 136.0 624.1 136.4 624.3 136.7 624.2 137.1 624.2 137.5 624.1 137.8 624.4 138.2 624.3 138.6 624.4 138.9 624.2 139.3 623.9 139.7 624.2 140.0 624.1 140.4 623.9 140.8 623.7 141.1 623.9 141.5 624.0 141.8 623.9 142.2 623.9 142.6 623.5 142.9 623.6 143.3 623.7 143.7 623.9 144.0 624.0 144.4 624.0 144.8 623.9 145.1 623.9 145.5 624.0 145.9 624.0 146.2 624.1 146.6 624.4 147.0 624.1 147.3 624.1 147.7 623.9 148.1 623.9 148.4 623.8 148.8 624.1 149.1 624.1 149.5 624.1 149.9 624.0 150.2 624.1 150.6 624.2 151.0 624.0 151.3 624.2 151.7 624.4 152.1 624.3 152.4 624.4 152.8 624.1 153.2 624.3 153.5 624.2 153.9 624.0 154.3 624.0 154.6 624.0 155.0 623.9 155.3 623.7 155.7 624.0 156.1 623.8 156.4 623.9 156.8 624.0 157.2 624.1 157.5 624.0 157.9 623.9 158.3 624.0 158.6 623.8 159.0 624.0 159.4 624.1 159.7 624.2 160.1 624.3 160.5 624.3 160.8 624.4 161.2 624.4 161.6 624.3 161.9 624.2 162.3 624.1 162.6 624.0 163.0 624.2 163.4 624.1 163.7 624.2 164.1 624.1 164.5 623.9 164.8 624.0 165.2 623.9 165.6 624.2 165.9 624.0 166.3 624.1 166.7 624.0 167.0 624.0 167.4 623.9 167.8 623.9 168.1 623.7 168.5 623.5 168.9 623.1 169.2 623.1 169.6 623.3 169.9 623.4 170.3 623.6 170.7 623.8 171.0 624.0 171.4 624.2 171.8 623.9 172.1 624.2 172.5 623.9 172.9 624.1 173.2 623.9 173.6 624.0 174.0 624.0 174.3 624.0 174.7 624.0 175.1 624.2 175.4 624.3 175.8 624.5 176.2 624.4 176.5 624.3 176.9 624.2 177.2 624.2 177.6 624.1 178.0 624.3 178.3 624.3 178.7 624.2 179.1 624.2 179.4 624.3 179.8 624.4 180.2 624.5 180.5 624.3 180.9 624.4 181.3 624.4 181.6 624.1 182.0 624.2 182.4 624.1 182.7 624.1 183.1 624.2 183.5 624.3 183.8 624.1 184.2 624.3 184.5 624.1 184.9 624.1 185.3 624.0 185.6 624.0 186.0 623.7 186.4 623.5 186.7 623.2 187.1 623.4 187.5 623.7 187.8 623.9 188.2 624.0 188.6 624.2 188.9 624.0 189.3 623.9 189.7 624.2 190.0 624.1 190.4 624.0 190.8 624.0 191.1 624.1 191.5 624.3 191.8 624.2 192.2 624.3 192.6 624.4 192.9 624.1 193.3 624.1 193.7 624.1 194.0 623.9 194.4 624.1 194.8 624.0 195.1 624.0 195.5 624.0 195.9 624.2 196.2 623.8 196.6 623.6 197.0 623.2 197.3 622.4 197.7 621.1 198.1 619.7 198.4 619.1 198.8 619.8 199.2 620.9 199.5 622.2 199.9 623.0 200.2 623.8 200.6 624.1 201.0 624.3 201.3 624.3 201.7 624.2 202.1 624.1 202.4 623.9 202.8 624.0 203.2 623.9 203.5 624.1 203.9 624.0 204.3 624.0 204.6 624.1 205.0 624.1 205.4 624.2 205.7 624.2 206.1 624.1 206.4 624.2 206.8 624.1 207.2 624.2 207.5 624.3 207.9 624.4 208.3 624.5 208.6 624.3 209.0 624.3 209.4 624.2 209.7 624.1 210.1 624.4 210.5 624.2 210.8 624.2 211.2 624.1 211.6 624.2 211.9 624.3 212.3 624.5 212.7 624.2 213.0 624.2 213.4 624.3 213.8 624.2 214.1 624.0 214.5 624.0 214.8 624.0 215.2 623.9 215.6 624.1 215.9 624.0 216.3 623.9 216.7 623.8 217.0 623.8 217.4 623.8 217.8 623.7 218.1 623.7 218.5 623.6 218.9 623.3 219.2 623.0 219.6 622.6 220.0 622.6 220.3 622.7 220.7 623.0 221.0 623.3 221.4 623.5 221.8 623.8 222.1 623.9 222.5 624.0 222.9 624.3 223.2 624.1 223.6 624.1 224.0 624.0 224.3 624.2 224.7 624.2 225.1 624.2 225.4 624.1 225.8 624.2 226.2 624.4 226.5 624.3 226.9 623.9 227.3 624.1 227.6 624.1 228.0 624.0 228.3 624.1 228.7 624.4 229.1 624.2 229.4 624.2 229.8 624.3 230.2 624.1 230.5 624.1 230.9 624.1 231.3 624.0 231.6 624.0 232.0 623.8 232.4 623.7 232.7 623.8 233.1 623.7 233.5 623.7 233.8 623.7 234.2 623.1 234.6 622.9 234.9 622.7 235.3 622.4 235.7 622.1 236.0 622.0 236.4 621.7 236.7 621.4 237.1 621.4 237.5 621.2 237.8 621.3 238.2 621.5 238.6 621.9 238.9 622.2 239.3 622.5 239.7 622.6 240.0 622.7 240.4 623.0 240.8 623.3 241.1 623.4 241.5 623.5 241.9 623.7 242.2 623.8 242.6 624.0 242.9 623.9 243.3 624.2 243.7 624.2 244.0 624.0 244.4 623.8 244.8 624.0 245.1 624.0 245.5 624.0 245.9 624.0 246.2 623.9 246.6 623.9 247.0 623.8 247.3 623.8 247.7 623.9 248.1 624.0 248.4 623.9 248.8 624.2 249.2 624.3 249.5 624.0 249.9 624.1 250.2 623.9 250.6 623.9 251.0 624.1 251.3 624.2 251.7 624.2 252.1 624.2 252.4 623.9 252.8 624.0 253.2 624.1 253.5 624.0 253.9 624.2 254.3 624.3 254.6 624.2 255.0 624.0 255.4 624.0 255.7 623.9 256.1 624.0 256.5 624.2 256.8 624.2 257.2 624.1 257.5 624.1 257.9 623.9 258.3 624.1 258.6 623.9 259.0 624.0 259.4 623.8 259.7 623.9 260.1 624.2 260.5 624.3 260.8 624.1 261.2 624.2 261.6 624.1 261.9 624.2 262.3 624.3 262.7 624.2 263.0 624.2 263.4 624.2 263.8 624.0 264.1 623.5 264.5 623.6 264.9 623.3 265.2 623.3 265.6 623.4 265.9 623.3 266.3 623.2 266.7 623.5 267.0 623.7 267.4 623.8 267.8 624.3 268.1 624.1 268.5 623.9 268.9 624.1 269.2 624.0 269.6 623.8 270.0 624.0 270.3 624.0 270.7 623.9 271.1 624.0 271.4 624.0 271.8 624.0 272.1 624.0 272.5 624.1 272.9 624.1 273.2 624.3 273.6 624.3 274.0 624.2 274.3 624.3 274.7 624.4 275.1 624.4 275.4 624.2 275.8 624.2 276.2 624.2 276.5 623.9 276.9 624.0 277.3 624.2 277.6 624.0 278.0 624.0 278.4 624.0 278.7 624.1 279.1 624.1 279.4 624.0 279.8 623.9 280.2 623.7 280.5 623.7 280.9 623.9 281.3 624.1 281.6 624.0 282.0 623.8 282.4 623.7 282.7 623.9 283.1 624.0 283.5 624.1 283.8 624.0 284.2 624.0 284.6 624.0 284.9 623.8 285.3 623.7 285.7 623.4 286.0 623.1 286.4 621.9 286.8 620.8 287.1 620.0 287.5 620.1 287.8 620.8 288.2 621.8 288.6 622.6 288.9 623.0 289.3 623.3 289.7 623.4 290.0 623.6 290.4 623.5 290.8 623.5 291.1 623.2 291.5 622.8 291.9 622.3 292.2 622.1 292.6 622.0 293.0 622.6 293.3 623.4 293.7 623.5 294.0 623.9 294.4 624.1 294.8 624.1 295.1 623.8 295.5 624.1 295.9 624.1 296.2 624.2 296.6 624.5 297.0 624.1 297.3 623.9 297.7 623.8 298.1 623.8 298.4 623.9 298.8 624.0 299.2 623.9 299.5 624.0 299.9 623.8 300.3 624.1 300.6 624.1 301.0 624.1 301.4 623.8 301.7 623.8 302.1 623.8 302.4 624.0 302.8 623.9 303.2 623.9 303.5 623.7 303.9 623.4 304.3 622.8 304.6 621.9 305.0 620.9 305.4 620.0 305.7 620.6 306.1 621.4 306.5 622.5 306.8 622.9 307.2 623.4 307.6 623.8 307.9 623.7 308.3 623.7 308.6 623.7 309.0 623.8 309.4 623.8 309.7 623.8 310.1 623.9 310.5 624.0 310.8 623.8 311.2 623.8 311.6 623.6 311.9 624.0 312.3 623.8 312.7 623.8 313.0 623.7 313.4 623.7 313.8 623.4 314.1 623.4 314.5 623.4 314.9 623.2 315.2 623.1 315.6 622.8 315.9 622.7 316.3 622.0 316.7 620.6 317.0 617.8 317.4 613.0 317.8 606.7 318.1 600.6 318.5 599.0 318.9 602.8 319.2 609.2 319.6 615.2 320.0 619.1 320.3 621.2 320.7 622.2 321.1 622.8 321.4 622.8 321.8 623.1 322.2 623.2 322.5 623.3 322.9 623.2 323.2 623.4 323.6 623.5 324.0 623.3 324.3 623.2 324.7 623.2 325.1 623.0 325.4 623.0 325.8 623.1 326.2 623.1 326.5 623.0 326.9 622.8 327.3 622.8 327.6 622.4 328.0 621.8 328.4 620.5 328.7 618.0 329.1 613.5 329.5 605.8 329.8 595.8 330.2 587.5 330.6 586.7 330.9 594.0 331.3 604.0 331.6 612.2 332.0 617.6 332.4 620.2 332.7 621.4 333.1 622.1 333.5 622.3 333.8 622.5 334.2 622.7 334.6 622.8 334.9 623.0 335.3 623.0 335.7 622.8 336.0 622.6 336.4 622.4 336.8 621.6 337.1 621.3 337.5 621.6 337.8 621.9 338.2 622.3 338.6 622.6 338.9 622.8 339.3 622.8 339.7 622.7 340.0 622.4 340.4 622.1 340.8 621.8 341.1 621.2 341.5 620.0 341.9 617.6 342.2 612.1 342.6 602.9 343.0 589.8 343.3 576.0 343.7 569.4 344.1 575.7 344.4 589.6 344.8 602.9 345.1 612.0 345.5 617.1 345.9 619.7 346.2 620.9 346.6 621.6 347.0 621.9 347.3 622.3 347.7 622.6 348.1 622.6 348.4 622.8 348.8 622.9 349.2 622.8 349.5 622.7 349.9 622.8 350.3 622.9 350.6 622.9 351.0 622.7 351.4 622.4 351.7 621.9 352.1 621.1 352.4 619.6 352.8 616.4 353.2 610.5 353.5 602.8 353.9 595.3 354.3 593.2 354.6 598.1 355.0 606.4 355.4 613.1 355.7 617.7 356.1 620.4 356.5 621.8 356.8 622.3 357.2 622.5 357.6 623.1 357.9 623.2 358.3 623.3 358.7 623.3 359.0 623.4 359.4 623.3 359.8 623.3 360.1 623.3 360.5 623.2 360.8 623.3 361.2 623.3 361.6 623.2 361.9 623.4 362.3 623.6 362.7 623.6 363.0 623.4 363.4 623.3 363.8 623.1 364.1 623.1 364.5 623.2 364.9 623.2 365.2 623.1 365.6 623.0 366.0 623.2 366.3 622.9 366.7 622.6 367.1 622.0 367.4 621.0 367.8 619.0 368.1 615.4 368.5 610.2 368.9 604.6 369.2 602.0 369.6 604.3 370.0 609.8 370.3 615.2 370.7 618.7 371.1 620.7 371.4 621.7 371.8 622.2 372.2 622.1 372.5 622.1 372.9 621.2 373.3 620.0 373.6 618.0 374.0 614.9 374.3 612.0 374.7 611.2 375.1 613.2 375.4 616.1 375.8 618.8 376.2 620.4 376.5 621.1 376.9 621.1 377.3 620.6 377.6 620.1 378.0 619.5 378.4 618.6 378.7 617.7 379.1 617.0 379.5 616.4 379.8 616.0 380.2 616.0 380.6 616.1 380.9 616.3 381.3 616.2 381.6 615.9 382.0 615.4 382.4 614.5 382.7 613.2 383.1 611.7 383.5 610.4 383.8 609.3 384.2 608.6 384.6 608.9 384.9 609.4 385.3 610.7 385.7 612.6 386.0 614.4 386.4 615.9 386.8 617.5 387.1 618.7 387.5 620.0 387.9 620.8 388.2 621.7 388.6 622.1 388.9 622.3 389.3 622.6 389.7 622.7 390.0 623.0 390.4 623.2 390.8 623.2 391.1 623.1 391.5 623.0 391.9 622.5 392.2 621.9 392.6 621.6 393.0 621.3 393.3 621.1 393.7 621.9 394.1 622.5 394.4 622.7 394.8 622.8 395.2 622.8 395.5 622.7 395.9 622.2 396.2 621.4 396.6 619.9 397.0 618.6 397.3 617.2 397.7 616.0 398.1 615.5 398.4 616.4 398.8 617.7 399.2 619.1 399.5 620.6 399.9 621.6 400.3 622.5 400.6 622.8 401.0 623.1 401.4 623.3 401.7 623.5 402.1 623.3 402.5 623.5 402.8 623.4 403.2 623.5 403.6 623.7 403.9 623.6 404.3 623.7 404.6 623.8 405.0 623.5 405.4 623.2 405.7 623.3 406.1 623.2 406.5 623.3 406.8 623.0 407.2 622.5 407.6 622.1 407.9 622.0 408.3 621.9 408.7 621.8 409.0 621.7 409.4 622.2 409.8 622.5 410.1 622.9 410.5 623.1 410.8 623.3 411.2 623.3 411.6 623.6 411.9 623.5 412.3 623.5 412.7 623.6 413.0 623.7 413.4 623.9 413.8 623.9 414.1 623.8 414.5 623.7 414.9 623.6 415.2 623.7 415.6 623.7 416.0 623.8 416.3 623.8 416.7 623.9 417.1 623.8 417.4 623.6 417.8 623.7 418.1 623.5 418.5 623.8 418.9 623.6 419.2 623.8 419.6 623.5 420.0 623.2 420.3 622.9 420.7 622.5 421.1 622.1 421.4 621.2 421.8 619.9 422.2 618.8 422.5 617.5 422.9 617.0 423.3 617.2 423.6 618.2 424.0 619.6 424.4 620.7 424.7 621.7 425.1 622.4 425.4 622.9 425.8 623.0 426.2 623.0 426.5 623.0 426.9 623.2 427.3 623.3 427.6 623.3 428.0 623.2 428.4 623.1 428.7 622.8 429.1 622.5 429.5 621.8 429.8 621.0 430.2 620.7 430.6 620.4 430.9 620.1 431.3 620.2 431.7 620.7 432.0 621.6 432.4 622.3 432.8 622.8 433.1 623.1 433.5 623.2 433.8 623.4 434.2 623.4 434.6 623.5 434.9 623.5 435.3 623.5 435.7 623.5 436.0 623.6 436.4 623.7 436.8 624.0 437.1 623.8 437.5 623.8 437.9 623.7 438.2 623.7 438.6 623.7 439.0 623.9 439.3 623.9 439.7 623.9 440.1 623.7 440.4 623.6 440.8 623.8 441.1 623.7 441.5 623.8 441.9 623.7 442.2 623.7 442.6 623.9 443.0 623.8 443.3 623.7 443.7 623.7 444.1 623.9 444.4 624.0 444.8 624.0 445.2 623.8 445.5 623.7 445.9 623.7 446.3 623.6 446.6 623.4 447.0 623.5 447.3 623.5 447.7 623.3 448.1 623.4 448.4 623.5 448.8 623.1 449.2 623.0 449.5 622.5 449.9 621.8 450.3 621.4 450.6 620.9 451.0 620.3 451.4 620.7 451.7 621.2 452.1 621.7 452.5 622.0 452.8 622.7 453.2 623.1 453.6 623.6 453.9 623.5 454.3 623.7 454.6 623.6 455.0 623.7 455.4 623.8 455.7 623.6 456.1 623.8 456.5 623.9 456.8 624.0 457.2 623.7 457.6 623.8 457.9 623.5 458.3 623.7 458.7 623.7 459.0 623.7 459.4 623.8 459.8 623.8 460.1 623.7 460.5 623.6 460.9 623.6 461.2 623.7 461.6 623.6 461.9 623.5 462.3 623.8 462.7 624.1 463.0 623.9 463.4 623.5 463.8 623.6 464.1 623.5 464.5 623.7 464.9 623.5 465.2 623.4 465.6 623.4 466.0 623.0 466.3 622.7 466.7 622.5 467.1 621.9 467.4 621.0 467.8 619.5 468.2 617.9 468.5 616.3 468.9 614.7 469.2 613.4 469.6 613.2 470.0 614.1 470.3 615.7 470.7 617.4 471.1 619.0 471.4 620.2 471.8 621.1 472.2 621.7 472.5 622.4 472.9 622.9 473.3 623.0 473.6 623.0 474.0 623.3 474.4 623.4 474.7 623.2 475.1 623.4 475.5 623.6 475.8 623.4 476.2 623.3 476.6 622.7 476.9 622.5 477.3 622.3 477.6 621.7 478.0 621.3 478.4 620.7 478.7 620.5 479.1 620.7 479.5 621.2 479.8 621.6 480.2 622.3 480.6 622.7 480.9 622.9 481.3 623.3 481.7 623.4 482.0 623.4 482.4 623.6 482.8 623.6 483.1 623.5 483.5 623.7 483.8 623.5 484.2 623.4 484.6 623.1 484.9 623.0 485.3 622.7 485.7 621.9 486.0 621.3 486.4 620.1 486.8 619.0 487.1 618.0 487.5 617.7 487.9 618.2 488.2 619.2 488.6 620.2 489.0 621.1 489.3 621.7 489.7 622.6 490.1 622.9 490.4 623.0 490.8 623.2 491.1 623.3 491.5 623.2 491.9 623.1 492.2 622.9 492.6 622.7 493.0 622.5 493.3 622.1 493.7 621.7 494.1 621.2 494.4 621.0 494.8 621.0 495.2 621.3 495.5 621.5 495.9 622.1 496.3 622.1 496.6 622.8 497.0 623.0 497.4 623.1 497.7 623.4 498.1 623.3 498.4 623.1 498.8 623.4 499.2 623.5 499.5 623.5 499.9 623.4 500.3 623.5 500.6 623.4 501.0 623.4 501.4 623.4 501.7 623.4 502.1 623.4 502.5 623.1 502.8 622.4 503.2 621.7 503.6 620.8 503.9 619.8 504.3 618.9 504.7 618.7 505.0 619.4 505.4 620.1 505.8 621.1 506.1 622.0 506.5 622.6 506.8 623.1 507.2 623.2 507.6 623.1 507.9 623.4 508.3 623.2 508.7 623.1 509.0 623.3 509.4 623.5 509.8 623.5 510.1 623.4 510.5 623.1 510.9 623.1 511.2 622.7 511.6 622.0 512.0 621.0 512.3 619.7 512.7 617.9 513.0 616.1 513.4 613.8 513.8 613.1 514.1 614.0 514.5 615.9 514.9 618.0 515.2 619.7 515.6 621.2 516.0 622.0 516.3 622.4 516.7 622.9 517.1 623.5 517.4 623.3 517.8 623.5 518.2 623.3 518.5 623.1 518.9 623.2 519.3 623.4 519.6 623.2 520.0 623.0 520.3 623.0 520.7 622.8 521.1 622.2 521.4 621.5 521.8 621.3 522.2 620.9 522.5 621.0 522.9 621.0 523.3 621.3 523.6 621.8 524.0 622.1 524.4 622.7 524.7 623.3 525.1 623.4 525.5 623.3 525.8 623.4 526.2 623.4 526.6 623.4 526.9 623.4 527.3 623.5 527.6 623.7 528.0 623.7 528.4 623.4 528.7 623.3 529.1 623.2 529.5 623.2 529.8 623.0 530.2 622.8 530.6 622.6 530.9 622.1 531.3 622.2 531.7 622.3 532.0 622.2 532.4 622.7 532.8 622.7 533.1 623.0 533.5 623.2 533.9 623.6 534.2 623.4 534.6 623.3 535.0 623.2 535.3 623.4 535.7 623.5 536.0 623.6 536.4 623.7 536.8 624.2 537.1 624.2 537.5 624.0 537.9 623.6 538.2 623.4 538.6 623.1 539.0 623.0 539.3 622.8 539.7 622.5 540.1 622.4 540.4 622.7 540.8 622.8 541.2 622.9 541.5 623.0 541.9 623.1 542.2 623.2 542.6 623.3 543.0 623.5 543.3 623.8 543.7 623.8 544.1 623.7 544.4 623.7 544.8 624.0 545.2 623.9 545.5 623.7 545.9 623.7 546.3 623.8 546.6 623.6 547.0 623.8 547.4 623.8 547.7 623.7 548.1 623.9 548.5 623.9 548.8 623.7 549.2 623.6 549.5 623.7 549.9 623.4 550.3 623.6 550.6 623.5 551.0 623.4 551.4 623.3 551.7 623.4 552.1 623.4 552.5 623.8 552.8 623.7 553.2 623.9 553.6 623.8 553.9 623.7 554.3 623.7 554.7 623.9 555.0 623.7 555.4 623.6 555.8 623.7 556.1 623.8 556.5 623.6 556.8 623.8 557.2 624.0 557.6 623.7 557.9 623.9 558.3 623.7 558.7 623.5 559.0 623.6 559.4 623.4 559.8 623.3 560.1 623.3 560.5 622.9 560.9 622.3 561.2 621.8 561.6 621.6 562.0 621.7 562.3 622.1 562.7 622.7 563.1 623.1 563.4 623.5 563.8 623.6 564.1 623.6 564.5 623.3 564.9 623.2 565.2 623.3 565.6 623.4 566.0 623.4 566.3 623.7 566.7 623.5 567.1 623.5 567.4 623.6 567.8 623.7 568.2 623.7 568.5 623.5 568.9 623.7 569.3 623.5 569.6 623.7 570.0 623.5 570.4 623.4 570.7 623.5 571.1 623.4 571.4 623.4 571.8 623.2 572.2 623.2 572.5 623.0 572.9 622.5 573.3 622.0 573.6 620.7 574.0 618.5 574.4 615.5 574.7 612.5 575.1 611.0 575.5 612.4 575.8 615.3 576.2 618.2 576.6 620.1 576.9 621.2 577.3 621.7 577.7 621.9 578.0 621.7 578.4 621.6 578.8 621.5 579.1 621.6 579.5 621.6 579.8 621.8 580.2 621.7 580.6 622.0 580.9 622.2 581.3 622.1 581.7 622.4 582.0 622.5 582.4 622.6 582.8 622.9 583.1 623.2 583.5 623.1 583.9 622.9 584.2 622.9 584.6 622.9 585.0 622.9 585.3 622.7 585.7 622.7 586.0 622.8 586.4 623.0 586.8 623.0 587.1 622.7 587.5 622.3 587.9 621.9 588.2 621.2 588.6 620.6 589.0 620.1 589.3 619.2 589.7 618.3 590.1 617.7 590.4 617.0 590.8 616.3 591.2 616.2 591.5 616.3 591.9 616.9 592.3 617.5 592.6 618.5 593.0 619.3 593.4 620.2 593.7 620.9 594.1 621.3 594.4 621.8 594.8 622.2 595.2 622.5 595.5 622.6 595.9 622.4 596.3 622.5 596.6 622.6 597.0 622.7 597.4 622.4 597.7 622.1 598.1 621.9 598.5 621.9 598.8 621.9 599.2 621.8 599.6 621.9 599.9 622.0 600.3 621.6 600.6 621.9 601.0 621.9 601.4 622.3 601.7 622.2 602.1 622.5 602.5 622.8 602.8 623.0 603.2 623.2 603.6 623.3 603.9 623.5 604.3 623.3 604.7 623.4 605.0 623.5 605.4 623.4 605.8 623.4 606.1 623.3 606.5 623.5 606.9 623.7 607.2 623.3 607.6 623.4 607.9 623.4 608.3 623.7 608.7 623.3 609.0 623.3 609.4 623.3 609.8 623.6 610.1 623.6 610.5 623.6 610.9 623.7 611.2 623.5 611.6 623.5 612.0 623.3 612.3 623.2 612.7 623.3 613.1 623.4 613.4 623.4 613.8 623.6 614.2 623.5 614.5 623.6 614.9 623.4 615.2 623.3 615.6 623.4 616.0 623.5 616.3 623.5 616.7 623.5 617.1 623.5 617.4 623.2 617.8 622.8 618.2 622.6 618.5 622.3 618.9 621.8 619.3 621.3 619.6 620.9 620.0 620.0 620.4 619.2 620.7 618.2 621.1 617.4 621.5 616.8 621.8 616.7 622.2 617.0 622.5 617.8 622.9 618.5 623.3 619.2 623.6 619.9 624.0 620.2 624.4 620.6 624.7 620.9 625.1 621.1 625.5 621.1 625.8 621.0 626.2 621.0 626.6 621.2 626.9 621.3 627.3 621.6 627.7 621.8 628.0 622.1 628.4 622.5 628.8 622.7 629.1 622.6 629.5 623.0 629.9 623.2 630.2 623.4 630.6 623.5 630.9 623.7 631.3 623.6 631.7 623.4 632.0 623.5 632.4 623.7 632.8 623.3 633.1 623.4 633.5 623.5" fill="none" stroke="#ea1540" stroke-width="1.7" stroke-linejoin="round"/>
<path d="M49.5 683.0 49.9 683.2 50.2 683.0 50.6 683.0 51.0 683.2 51.3 683.1 51.7 682.9 52.1 683.2 52.4 683.3 52.8 683.2 53.1 683.1 53.5 683.0 53.9 682.8 54.2 682.9 54.6 682.9 55.0 683.0 55.3 683.1 55.7 683.0 56.1 682.9 56.4 683.0 56.8 683.0 57.2 683.1 57.5 683.0 57.9 683.1 58.3 682.9 58.6 683.0 59.0 683.1 59.4 683.1 59.7 683.1 60.1 682.8 60.5 683.0 60.8 683.1 61.2 683.0 61.5 683.0 61.9 682.8 62.3 682.8 62.6 683.0 63.0 683.2 63.4 683.1 63.7 683.1 64.1 683.2 64.5 683.0 64.8 683.2 65.2 683.2 65.6 683.3 65.9 683.0 66.3 682.8 66.7 682.9 67.0 683.1 67.4 683.1 67.8 682.8 68.1 682.8 68.5 683.0 68.8 682.9 69.2 682.9 69.6 683.0 69.9 682.9 70.3 682.9 70.7 682.9 71.0 682.7 71.4 682.8 71.8 682.8 72.1 682.7 72.5 682.9 72.9 683.1 73.2 683.0 73.6 683.0 74.0 683.2 74.3 683.2 74.7 683.3 75.0 683.0 75.4 683.1 75.8 683.2 76.1 683.3 76.5 683.0 76.9 682.9 77.2 682.9 77.6 682.8 78.0 683.0 78.3 683.2 78.7 683.3 79.1 683.3 79.4 683.2 79.8 683.2 80.2 683.2 80.5 683.0 80.9 682.9 81.3 682.9 81.6 683.1 82.0 683.2 82.3 682.9 82.7 683.0 83.1 683.1 83.4 683.3 83.8 683.3 84.2 683.1 84.5 683.1 84.9 683.2 85.3 683.0 85.6 682.9 86.0 682.9 86.4 683.2 86.7 683.4 87.1 683.3 87.5 683.1 87.8 683.0 88.2 682.9 88.6 683.1 88.9 683.2 89.3 683.6 89.7 683.2 90.0 683.1 90.4 683.0 90.7 683.3 91.1 683.0 91.5 682.9 91.8 683.1 92.2 682.9 92.6 682.9 92.9 683.0 93.3 683.1 93.7 683.1 94.0 683.1 94.4 683.2 94.8 683.1 95.1 682.8 95.5 683.0 95.9 683.0 96.2 682.9 96.6 682.9 96.9 682.9 97.3 683.0 97.7 683.1 98.0 683.1 98.4 683.2 98.8 683.0 99.1 682.8 99.5 683.0 99.9 682.9 100.2 683.1 100.6 683.1 101.0 683.1 101.3 683.0 101.7 682.9 102.1 683.0 102.4 683.1 102.8 682.9 103.2 683.3 103.5 683.1 103.9 683.3 104.2 683.5 104.6 683.4 105.0 683.3 105.3 683.1 105.7 683.3 106.1 683.3 106.4 683.4 106.8 683.4 107.2 683.3 107.5 683.2 107.9 683.2 108.3 683.2 108.6 683.1 109.0 683.3 109.4 683.3 109.7 683.3 110.1 683.4 110.5 683.3 110.8 683.4 111.2 683.6 111.5 683.6 111.9 683.3 112.3 683.2 112.6 683.2 113.0 683.3 113.4 683.2 113.7 683.0 114.1 683.2 114.5 683.2 114.8 683.1 115.2 683.0 115.6 682.6 115.9 682.3 116.3 682.0 116.7 681.8 117.0 681.8 117.4 682.1 117.8 682.5 118.1 682.7 118.5 682.7 118.8 683.0 119.2 683.0 119.6 682.9 119.9 683.0 120.3 683.2 120.7 683.4 121.0 683.3 121.4 683.4 121.8 683.3 122.1 683.2 122.5 683.2 122.9 683.3 123.2 683.3 123.6 683.2 124.0 683.2 124.3 683.3 124.7 683.1 125.1 683.3 125.4 683.3 125.8 683.3 126.1 683.4 126.5 683.6 126.9 683.5 127.2 683.4 127.6 683.2 128.0 683.1 128.3 683.2 128.7 683.2 129.1 683.1 129.4 683.2 129.8 683.3 130.2 683.4 130.5 683.2 130.9 683.2 131.3 683.4 131.6 683.4 132.0 683.5 132.4 683.3 132.7 683.5 133.1 683.5 133.4 683.4 133.8 683.2 134.2 683.1 134.5 683.3 134.9 683.1 135.3 683.2 135.6 683.1 136.0 683.1 136.4 683.3 136.7 683.3 137.1 683.4 137.5 683.5 137.8 683.5 138.2 683.4 138.6 683.6 138.9 683.3 139.3 683.2 139.7 683.4 140.0 683.5 140.4 683.5 140.8 683.4 141.1 683.2 141.5 683.2 141.8 683.3 142.2 683.4 142.6 683.5 142.9 683.5 143.3 683.3 143.7 683.4 144.0 683.4 144.4 683.5 144.8 683.5 145.1 683.4 145.5 683.3 145.9 683.2 146.2 683.2 146.6 683.2 147.0 683.2 147.3 683.3 147.7 683.2 148.1 683.3 148.4 683.2 148.8 683.3 149.1 683.4 149.5 683.5 149.9 683.5 150.2 683.6 150.6 683.2 151.0 683.5 151.3 683.2 151.7 683.2 152.1 683.3 152.4 683.3 152.8 683.3 153.2 683.3 153.5 683.0 153.9 683.1 154.3 683.3 154.6 683.3 155.0 683.3 155.3 683.4 155.7 683.4 156.1 683.2 156.4 682.9 156.8 683.0 157.2 683.3 157.5 683.2 157.9 683.3 158.3 683.4 158.6 683.1 159.0 683.3 159.4 683.1 159.7 683.3 160.1 683.4 160.5 683.4 160.8 683.6 161.2 683.6 161.6 683.5 161.9 683.6 162.3 683.5 162.6 683.4 163.0 683.2 163.4 683.2 163.7 683.2 164.1 683.4 164.5 683.3 164.8 683.5 165.2 683.5 165.6 683.3 165.9 683.3 166.3 683.3 166.7 683.1 167.0 683.1 167.4 683.0 167.8 683.0 168.1 682.8 168.5 682.6 168.9 682.3 169.2 682.3 169.6 682.6 169.9 682.9 170.3 683.1 170.7 683.4 171.0 683.2 171.4 683.3 171.8 683.4 172.1 683.4 172.5 683.3 172.9 683.2 173.2 683.2 173.6 683.1 174.0 683.3 174.3 683.4 174.7 683.4 175.1 683.4 175.4 683.4 175.8 683.4 176.2 683.4 176.5 683.5 176.9 683.4 177.2 683.5 177.6 683.7 178.0 683.6 178.3 683.6 178.7 683.7 179.1 683.8 179.4 683.6 179.8 683.5 180.2 683.5 180.5 683.4 180.9 683.5 181.3 683.6 181.6 683.4 182.0 683.3 182.4 683.5 182.7 683.5 183.1 683.6 183.5 683.3 183.8 683.4 184.2 683.3 184.5 683.6 184.9 683.5 185.3 683.4 185.6 682.9 186.0 682.9 186.4 682.7 186.7 682.6 187.1 682.6 187.5 682.6 187.8 682.9 188.2 682.9 188.6 683.1 188.9 683.1 189.3 683.2 189.7 683.1 190.0 683.3 190.4 683.2 190.8 683.2 191.1 683.3 191.5 683.5 191.8 683.5 192.2 683.6 192.6 683.6 192.9 683.7 193.3 683.5 193.7 683.5 194.0 683.7 194.4 683.4 194.8 683.4 195.1 683.5 195.5 683.4 195.9 683.1 196.2 682.9 196.6 682.8 197.0 682.2 197.3 681.3 197.7 679.6 198.1 678.1 198.4 677.6 198.8 678.2 199.2 679.7 199.5 681.3 199.9 682.1 200.2 682.6 200.6 683.1 201.0 683.3 201.3 683.2 201.7 683.1 202.1 683.0 202.4 683.3 202.8 683.4 203.2 683.0 203.5 682.7 203.9 682.2 204.3 682.2 204.6 682.5 205.0 682.7 205.4 683.1 205.7 683.4 206.1 683.4 206.4 683.4 206.8 683.3 207.2 683.3 207.5 683.5 207.9 683.6 208.3 683.3 208.6 683.3 209.0 683.5 209.4 683.4 209.7 683.4 210.1 683.4 210.5 683.3 210.8 683.5 211.2 683.5 211.6 683.3 211.9 683.4 212.3 683.5 212.7 683.3 213.0 683.4 213.4 683.4 213.8 683.4 214.1 683.4 214.5 683.5 214.8 683.3 215.2 683.4 215.6 683.2 215.9 683.1 216.3 683.1 216.7 683.4 217.0 683.4 217.4 683.3 217.8 683.2 218.1 682.9 218.5 682.8 218.9 682.4 219.2 682.1 219.6 682.1 220.0 681.9 220.3 681.8 220.7 681.8 221.0 682.4 221.4 682.5 221.8 682.9 222.1 683.0 222.5 682.9 222.9 683.4 223.2 683.3 223.6 683.3 224.0 683.4 224.3 683.5 224.7 683.4 225.1 683.4 225.4 683.4 225.8 683.4 226.2 683.2 226.5 683.4 226.9 683.4 227.3 683.6 227.6 683.4 228.0 683.6 228.3 683.4 228.7 683.4 229.1 683.3 229.4 683.5 229.8 683.3 230.2 683.2 230.5 683.5 230.9 683.5 231.3 683.3 231.6 683.1 232.0 683.1 232.4 683.3 232.7 683.2 233.1 682.7 233.5 682.5 233.8 682.3 234.2 682.1 234.6 681.8 234.9 681.5 235.3 681.0 235.7 680.5 236.0 680.2 236.4 680.0 236.7 679.8 237.1 679.7 237.5 679.9 237.8 680.1 238.2 680.0 238.6 680.3 238.9 680.8 239.3 681.1 239.7 681.5 240.0 681.9 240.4 682.4 240.8 682.5 241.1 682.4 241.5 682.4 241.9 682.8 242.2 683.1 242.6 683.0 242.9 683.2 243.3 683.2 243.7 683.2 244.0 683.3 244.4 683.3 244.8 683.4 245.1 683.3 245.5 683.5 245.9 683.5 246.2 683.4 246.6 683.4 247.0 683.2 247.3 683.6 247.7 683.8 248.1 683.6 248.4 683.5 248.8 683.4 249.2 683.4 249.5 683.4 249.9 683.4 250.2 683.5 250.6 683.5 251.0 683.5 251.3 683.3 251.7 683.2 252.1 683.1 252.4 683.4 252.8 683.4 253.2 683.3 253.5 683.2 253.9 683.4 254.3 683.7 254.6 683.6 255.0 683.5 255.4 683.7 255.7 683.5 256.1 683.6 256.5 683.7 256.8 683.7 257.2 683.6 257.5 683.5 257.9 683.3 258.3 683.1 258.6 683.3 259.0 683.2 259.4 683.2 259.7 683.0 260.1 683.1 260.5 683.0 260.8 683.3 261.2 683.4 261.6 683.2 261.9 683.3 262.3 683.1 262.7 682.9 263.0 682.9 263.4 682.5 263.8 682.3 264.1 682.5 264.5 682.2 264.9 682.1 265.2 682.0 265.6 682.0 265.9 682.3 266.3 682.6 266.7 682.9 267.0 683.1 267.4 683.0 267.8 683.2 268.1 683.3 268.5 683.2 268.9 683.4 269.2 683.4 269.6 683.4 270.0 683.3 270.3 683.3 270.7 683.4 271.1 683.5 271.4 683.3 271.8 683.6 272.1 683.7 272.5 683.5 272.9 683.3 273.2 683.4 273.6 683.4 274.0 683.5 274.3 683.6 274.7 683.3 275.1 683.3 275.4 683.2 275.8 683.3 276.2 683.2 276.5 683.3 276.9 683.2 277.3 683.2 277.6 683.5 278.0 683.4 278.4 683.3 278.7 683.4 279.1 683.5 279.4 683.1 279.8 683.3 280.2 683.5 280.5 683.4 280.9 683.6 281.3 683.5 281.6 683.3 282.0 683.4 282.4 683.2 282.7 683.3 283.1 683.3 283.5 683.3 283.8 683.3 284.2 683.0 284.6 683.1 284.9 683.3 285.3 683.4 285.7 683.3 286.0 683.0 286.4 682.7 286.8 682.2 287.1 681.0 287.5 680.2 287.8 679.8 288.2 680.3 288.6 681.2 288.9 682.1 289.3 682.4 289.7 682.6 290.0 682.9 290.4 682.8 290.8 682.8 291.1 682.5 291.5 682.3 291.9 681.7 292.2 681.2 292.6 680.7 293.0 680.6 293.3 681.2 293.7 681.9 294.0 682.5 294.4 683.0 294.8 683.0 295.1 683.2 295.5 683.2 295.9 683.0 296.2 683.0 296.6 683.0 297.0 682.9 297.3 683.0 297.7 683.2 298.1 683.2 298.4 683.4 298.8 683.0 299.2 683.3 299.5 683.6 299.9 683.6 300.3 683.3 300.6 683.3 301.0 683.2 301.4 683.1 301.7 683.0 302.1 682.9 302.4 683.0 302.8 683.1 303.2 683.2 303.5 683.0 303.9 682.5 304.3 682.5 304.6 681.7 305.0 680.4 305.4 678.8 305.7 677.8 306.1 677.9 306.5 679.0 306.8 680.5 307.2 681.7 307.6 682.4 307.9 682.7 308.3 682.9 308.6 682.8 309.0 682.7 309.4 682.7 309.7 682.8 310.1 682.7 310.5 682.8 310.8 683.2 311.2 683.1 311.6 683.2 311.9 683.2 312.3 683.2 312.7 683.0 313.0 683.0 313.4 683.0 313.8 682.7 314.1 682.8 314.5 682.7 314.9 682.5 315.2 682.4 315.6 682.2 315.9 681.7 316.3 680.9 316.7 679.3 317.0 675.9 317.4 670.1 317.8 662.5 318.1 655.1 318.5 652.9 318.9 658.0 319.2 665.7 319.6 672.4 320.0 677.1 320.3 679.6 320.7 681.1 321.1 681.8 321.4 682.1 321.8 682.3 322.2 682.6 322.5 682.4 322.9 682.3 323.2 682.6 323.6 682.7 324.0 682.4 324.3 682.5 324.7 682.5 325.1 682.5 325.4 682.4 325.8 682.5 326.2 682.5 326.5 682.1 326.9 681.9 327.3 681.7 327.6 681.3 328.0 680.6 328.4 679.3 328.7 676.5 329.1 671.0 329.5 662.0 329.8 650.7 330.2 641.1 330.6 640.1 330.9 648.5 331.3 659.9 331.6 669.5 332.0 675.6 332.4 678.7 332.7 680.5 333.1 681.4 333.5 681.6 333.8 681.9 334.2 681.9 334.6 681.8 334.9 681.9 335.3 681.7 335.7 681.1 336.0 679.7 336.4 678.0 336.8 676.3 337.1 675.3 337.5 676.4 337.8 678.1 338.2 679.9 338.6 681.1 338.9 681.7 339.3 681.8 339.7 681.9 340.0 681.7 340.4 681.5 340.8 681.0 341.1 680.5 341.5 679.3 341.9 676.9 342.2 671.8 342.6 662.7 343.0 649.7 343.3 636.4 343.7 630.1 344.1 636.3 344.4 649.7 344.8 662.8 345.1 671.3 345.5 676.6 345.9 679.2 346.2 680.2 346.6 680.9 347.0 681.3 347.3 681.5 347.7 681.6 348.1 681.9 348.4 681.9 348.8 682.4 349.2 682.5 349.5 682.5 349.9 682.6 350.3 682.6 350.6 682.4 351.0 682.2 351.4 681.9 351.7 681.6 352.1 680.7 352.4 679.0 352.8 676.0 353.2 670.6 353.5 663.1 353.9 656.1 354.3 654.3 354.6 658.7 355.0 666.5 355.4 673.3 355.7 677.6 356.1 679.9 356.5 681.1 356.8 681.9 357.2 682.3 357.6 682.3 357.9 682.3 358.3 682.4 358.7 682.5 359.0 682.6 359.4 682.6 359.8 682.6 360.1 682.8 360.5 682.6 360.8 682.4 361.2 682.5 361.6 682.6 361.9 682.7 362.3 682.6 362.7 682.9 363.0 682.6 363.4 682.7 363.8 682.5 364.1 682.4 364.5 682.6 364.9 682.7 365.2 682.8 365.6 682.8 366.0 682.6 366.3 682.4 366.7 682.4 367.1 681.7 367.4 680.8 367.8 678.8 368.1 675.2 368.5 670.4 368.9 665.4 369.2 663.2 369.6 665.5 370.0 670.4 370.3 675.1 370.7 678.5 371.1 680.5 371.4 681.6 371.8 681.6 372.2 681.7 372.5 681.6 372.9 681.4 373.3 681.1 373.6 680.5 374.0 679.0 374.3 676.5 374.7 674.3 375.1 673.2 375.4 674.2 375.8 676.5 376.2 678.1 376.5 679.2 376.9 679.6 377.3 679.2 377.6 678.8 378.0 677.7 378.4 676.4 378.7 675.5 379.1 674.2 379.5 673.0 379.8 672.1 380.2 671.8 380.6 672.0 380.9 672.4 381.3 672.4 381.6 672.4 382.0 671.6 382.4 670.6 382.7 669.1 383.1 667.3 383.5 665.6 383.8 664.3 384.2 663.0 384.6 662.8 384.9 664.3 385.3 665.7 385.7 667.9 386.0 670.2 386.4 672.8 386.8 674.9 387.1 676.6 387.5 677.7 387.9 679.2 388.2 680.1 388.6 680.8 388.9 681.2 389.3 681.5 389.7 681.8 390.0 682.1 390.4 682.4 390.8 682.4 391.1 682.3 391.5 682.1 391.9 681.7 392.2 681.0 392.6 680.4 393.0 679.8 393.3 680.2 393.7 680.8 394.1 681.3 394.4 681.7 394.8 681.9 395.2 682.0 395.5 681.8 395.9 681.3 396.2 680.8 396.6 680.0 397.0 678.3 397.3 676.7 397.7 675.1 398.1 674.2 398.4 674.1 398.8 675.1 399.2 676.5 399.5 678.3 399.9 679.8 400.3 680.8 400.6 681.4 401.0 681.9 401.4 682.4 401.7 682.5 402.1 682.8 402.5 682.9 402.8 682.8 403.2 682.9 403.6 683.0 403.9 683.1 404.3 682.9 404.6 682.8 405.0 682.8 405.4 682.4 405.7 682.3 406.1 682.3 406.5 681.9 406.8 681.6 407.2 681.3 407.6 681.0 407.9 680.6 408.3 680.1 408.7 680.0 409.0 680.2 409.4 680.5 409.8 680.9 410.1 681.2 410.5 681.6 410.8 682.4 411.2 682.7 411.6 682.7 411.9 682.7 412.3 682.9 412.7 683.1 413.0 683.0 413.4 682.9 413.8 683.0 414.1 682.8 414.5 682.7 414.9 682.9 415.2 682.5 415.6 682.9 416.0 682.8 416.3 683.0 416.7 683.1 417.1 683.1 417.4 683.1 417.8 682.9 418.1 683.1 418.5 683.1 418.9 682.8 419.2 682.8 419.6 682.7 420.0 682.4 420.3 682.2 420.7 681.9 421.1 680.9 421.4 679.6 421.8 678.3 422.2 677.0 422.5 675.5 422.9 674.6 423.3 674.8 423.6 675.9 424.0 677.6 424.4 679.1 424.7 680.4 425.1 681.4 425.4 682.1 425.8 682.2 426.2 682.4 426.5 682.5 426.9 682.3 427.3 682.3 427.6 682.1 428.0 682.0 428.4 681.8 428.7 681.4 429.1 680.8 429.5 680.2 429.8 679.8 430.2 679.2 430.6 678.8 430.9 678.8 431.3 678.9 431.7 679.5 432.0 680.2 432.4 680.7 432.8 681.3 433.1 681.8 433.5 682.1 433.8 682.7 434.2 683.0 434.6 683.1 434.9 682.9 435.3 682.8 435.7 682.7 436.0 683.0 436.4 683.0 436.8 683.0 437.1 683.3 437.5 683.1 437.9 683.0 438.2 683.1 438.6 683.1 439.0 683.3 439.3 683.0 439.7 682.8 440.1 683.0 440.4 683.2 440.8 683.1 441.1 683.1 441.5 683.4 441.9 683.3 442.2 683.4 442.6 683.4 443.0 683.2 443.3 683.0 443.7 683.0 444.1 682.9 444.4 683.1 444.8 682.9 445.2 683.1 445.5 683.1 445.9 683.0 446.3 683.0 446.6 682.8 447.0 682.7 447.3 682.8 447.7 683.0 448.1 682.8 448.4 682.4 448.8 682.1 449.2 681.5 449.5 680.9 449.9 680.3 450.3 679.6 450.6 678.9 451.0 678.7 451.4 678.8 451.7 679.5 452.1 680.1 452.5 680.8 452.8 681.4 453.2 681.9 453.6 682.3 453.9 682.6 454.3 682.9 454.6 683.0 455.0 682.9 455.4 683.0 455.7 683.1 456.1 683.0 456.5 683.0 456.8 683.1 457.2 683.0 457.6 682.8 457.9 683.0 458.3 683.2 458.7 683.2 459.0 683.1 459.4 683.0 459.8 682.8 460.1 682.9 460.5 683.1 460.9 682.9 461.2 682.8 461.6 683.1 461.9 683.1 462.3 683.0 462.7 683.3 463.0 683.1 463.4 682.7 463.8 682.7 464.1 682.3 464.5 682.4 464.9 682.5 465.2 682.5 465.6 682.6 466.0 682.4 466.3 681.9 466.7 681.6 467.1 681.0 467.4 680.1 467.8 678.8 468.2 677.2 468.5 675.4 468.9 673.7 469.2 672.2 469.6 671.8 470.0 672.5 470.3 674.2 470.7 675.9 471.1 677.7 471.4 679.3 471.8 680.3 472.2 681.1 472.5 681.7 472.9 682.2 473.3 682.4 473.6 682.7 474.0 682.7 474.4 682.6 474.7 682.7 475.1 682.8 475.5 682.5 475.8 682.3 476.2 682.3 476.6 682.0 476.9 681.8 477.3 681.3 477.6 680.9 478.0 680.5 478.4 679.8 478.7 679.8 479.1 679.8 479.5 680.2 479.8 681.1 480.2 681.5 480.6 681.8 480.9 682.2 481.3 682.4 481.7 682.7 482.0 682.7 482.4 682.7 482.8 682.8 483.1 682.5 483.5 682.7 483.8 682.9 484.2 682.6 484.6 682.5 484.9 682.2 485.3 681.7 485.7 680.8 486.0 679.5 486.4 678.0 486.8 676.4 487.1 675.0 487.5 674.2 487.9 674.8 488.2 676.2 488.6 677.6 489.0 679.5 489.3 680.5 489.7 681.2 490.1 681.7 490.4 681.9 490.8 682.3 491.1 682.3 491.5 682.5 491.9 682.3 492.2 682.2 492.6 682.0 493.0 681.7 493.3 681.4 493.7 680.8 494.1 680.2 494.4 679.6 494.8 678.7 495.2 677.9 495.5 677.7 495.9 678.4 496.3 678.9 496.6 679.9 497.0 680.7 497.4 681.4 497.7 681.7 498.1 682.1 498.4 682.3 498.8 682.7 499.2 682.7 499.5 682.6 499.9 682.7 500.3 682.6 500.6 682.6 501.0 682.7 501.4 682.5 501.7 682.4 502.1 682.6 502.5 682.4 502.8 682.1 503.2 681.7 503.6 681.1 503.9 680.1 504.3 678.9 504.7 678.0 505.0 677.6 505.4 678.0 505.8 679.0 506.1 680.2 506.5 681.0 506.8 681.7 507.2 681.9 507.6 682.3 507.9 682.5 508.3 682.8 508.7 682.7 509.0 682.6 509.4 682.7 509.8 682.6 510.1 682.4 510.5 682.4 510.9 682.3 511.2 682.0 511.6 681.5 512.0 680.6 512.3 679.6 512.7 678.3 513.0 676.2 513.4 673.8 513.8 671.9 514.1 671.2 514.5 671.7 514.9 673.4 515.2 675.5 515.6 677.4 516.0 679.4 516.3 680.8 516.7 681.3 517.1 681.6 517.4 682.1 517.8 682.3 518.2 682.5 518.5 682.8 518.9 682.6 519.3 682.5 519.6 682.4 520.0 682.4 520.3 682.2 520.7 681.9 521.1 681.7 521.4 681.6 521.8 681.0 522.2 680.3 522.5 679.8 522.9 679.4 523.3 679.2 523.6 679.4 524.0 679.9 524.4 680.6 524.7 681.2 525.1 681.6 525.5 681.8 525.8 682.3 526.2 682.5 526.6 682.7 526.9 682.5 527.3 682.9 527.6 682.7 528.0 682.8 528.4 682.7 528.7 682.6 529.1 682.8 529.5 682.3 529.8 682.1 530.2 681.8 530.6 681.4 530.9 681.2 531.3 681.2 531.7 681.2 532.0 681.5 532.4 681.7 532.8 681.9 533.1 682.3 533.5 682.4 533.9 682.6 534.2 682.6 534.6 682.9 535.0 683.1 535.3 682.9 535.7 683.1 536.0 683.1 536.4 683.2 536.8 683.2 537.1 683.1 537.5 683.0 537.9 683.1 538.2 682.7 538.6 682.6 539.0 682.2 539.3 682.2 539.7 681.8 540.1 681.4 540.4 681.3 540.8 681.4 541.2 681.5 541.5 681.7 541.9 682.1 542.2 682.4 542.6 682.4 543.0 682.4 543.3 682.4 543.7 682.7 544.1 682.8 544.4 682.8 544.8 683.1 545.2 682.8 545.5 683.2 545.9 683.2 546.3 683.0 546.6 683.1 547.0 683.1 547.4 682.9 547.7 682.9 548.1 682.8 548.5 682.5 548.8 682.4 549.2 682.3 549.5 682.1 549.9 681.8 550.3 681.7 550.6 681.7 551.0 682.0 551.4 682.4 551.7 682.8 552.1 682.6 552.5 682.9 552.8 682.7 553.2 682.7 553.6 682.8 553.9 682.9 554.3 682.7 554.7 683.0 555.0 683.2 555.4 683.0 555.8 683.3 556.1 683.1 556.5 683.1 556.8 683.3 557.2 683.1 557.6 683.1 557.9 683.0 558.3 683.0 558.7 683.1 559.0 683.0 559.4 682.7 559.8 682.5 560.1 682.4 560.5 682.2 560.9 681.8 561.2 681.2 561.6 681.2 562.0 681.2 562.3 681.4 562.7 681.8 563.1 682.3 563.4 682.5 563.8 682.8 564.1 682.9 564.5 682.5 564.9 682.9 565.2 682.8 565.6 682.9 566.0 682.9 566.3 683.1 566.7 683.0 567.1 683.0 567.4 682.9 567.8 683.0 568.2 682.8 568.5 683.0 568.9 683.0 569.3 683.0 569.6 683.0 570.0 682.8 570.4 682.7 570.7 682.7 571.1 682.7 571.4 682.6 571.8 682.4 572.2 682.2 572.5 682.0 572.9 681.6 573.3 680.9 573.6 679.3 574.0 677.4 574.4 674.6 574.7 672.2 575.1 671.0 575.5 671.8 575.8 674.3 576.2 676.8 576.6 679.0 576.9 680.3 577.3 680.9 577.7 680.8 578.0 680.7 578.4 680.7 578.8 680.7 579.1 680.8 579.5 680.5 579.8 680.7 580.2 680.8 580.6 681.0 580.9 681.0 581.3 681.5 581.7 681.7 582.0 681.9 582.4 682.0 582.8 682.3 583.1 682.4 583.5 682.6 583.9 682.5 584.2 682.6 584.6 682.6 585.0 682.5 585.3 682.5 585.7 682.7 586.0 682.6 586.4 682.3 586.8 682.1 587.1 681.7 587.5 681.4 587.9 681.0 588.2 680.5 588.6 680.0 589.0 679.4 589.3 678.6 589.7 677.9 590.1 677.0 590.4 676.3 590.8 675.9 591.2 675.5 591.5 675.8 591.9 676.2 592.3 677.1 592.6 677.8 593.0 678.6 593.4 679.5 593.7 680.0 594.1 680.5 594.4 680.9 594.8 681.2 595.2 681.5 595.5 681.7 595.9 682.0 596.3 682.1 596.6 682.0 597.0 682.0 597.4 681.5 597.7 681.3 598.1 681.3 598.5 681.3 598.8 680.8 599.2 680.9 599.6 681.0 599.9 680.9 600.3 680.8 600.6 681.0 601.0 681.2 601.4 681.4 601.7 681.7 602.1 681.9 602.5 682.1 602.8 682.3 603.2 682.4 603.6 682.4 603.9 682.5 604.3 682.5 604.7 682.5 605.0 682.5 605.4 682.5 605.8 682.6 606.1 682.9 606.5 683.0 606.9 683.2 607.2 683.3 607.6 683.1 607.9 682.9 608.3 682.9 608.7 682.8 609.0 683.1 609.4 683.1 609.8 682.8 610.1 682.7 610.5 682.8 610.9 682.9 611.2 683.0 611.6 683.1 612.0 683.2 612.3 683.1 612.7 683.3 613.1 682.9 613.4 682.7 613.8 682.7 614.2 682.7 614.5 682.6 614.9 682.8 615.2 682.6 615.6 682.5 616.0 682.3 616.3 682.6 616.7 682.3 617.1 682.4 617.4 682.2 617.8 682.1 618.2 682.2 618.5 681.8 618.9 681.6 619.3 681.1 619.6 680.8 620.0 680.0 620.4 679.2 620.7 678.1 621.1 677.0 621.5 676.1 621.8 675.1 622.2 674.6 622.5 674.4 622.9 674.9 623.3 675.6 623.6 676.3 624.0 677.2 624.4 677.9 624.7 678.5 625.1 679.1 625.5 679.5 625.8 679.7 626.2 679.7 626.6 679.7 626.9 680.1 627.3 680.1 627.7 680.5 628.0 680.8 628.4 681.3 628.8 681.5 629.1 681.2 629.5 681.7 629.9 681.9 630.2 682.0 630.6 682.2 630.9 682.5 631.3 682.6 631.7 682.7 632.0 682.5 632.4 682.4 632.8 682.6 633.1 682.8 633.5 682.9" fill="none" stroke="#53b9c9" stroke-width="1.7" stroke-linejoin="round"/>
<path d="M49.5 740.4 49.9 740.4 50.2 740.5 50.6 740.4 51.0 740.2 51.3 740.2 51.7 740.3 52.1 740.3 52.4 740.2 52.8 740.3 53.1 740.2 53.5 740.0 53.9 740.3 54.2 740.2 54.6 740.5 55.0 740.3 55.3 740.2 55.7 740.3 56.1 740.3 56.4 740.1 56.8 740.2 57.2 740.3 57.5 740.2 57.9 740.5 58.3 740.3 58.6 740.3 59.0 740.5 59.4 740.2 59.7 740.2 60.1 740.3 60.5 740.3 60.8 740.7 61.2 740.5 61.5 740.4 61.9 740.4 62.3 740.6 62.6 740.6 63.0 740.4 63.4 740.5 63.7 740.8 64.1 740.6 64.5 740.8 64.8 740.6 65.2 740.6 65.6 740.7 65.9 740.9 66.3 740.9 66.7 740.6 67.0 740.6 67.4 740.4 67.8 740.6 68.1 740.6 68.5 740.7 68.8 740.8 69.2 740.7 69.6 740.7 69.9 740.5 70.3 740.6 70.7 740.6 71.0 740.6 71.4 740.8 71.8 740.5 72.1 740.7 72.5 740.9 72.9 740.7 73.2 740.8 73.6 741.0 74.0 741.0 74.3 740.9 74.7 740.8 75.0 740.8 75.4 740.7 75.8 740.6 76.1 740.6 76.5 740.8 76.9 740.6 77.2 740.6 77.6 740.9 78.0 740.9 78.3 740.8 78.7 740.7 79.1 740.8 79.4 740.7 79.8 740.6 80.2 740.8 80.5 740.9 80.9 740.7 81.3 740.8 81.6 740.8 82.0 740.5 82.3 740.5 82.7 740.6 83.1 740.8 83.4 741.0 83.8 740.8 84.2 740.9 84.5 740.6 84.9 740.7 85.3 740.9 85.6 740.8 86.0 740.9 86.4 740.9 86.7 740.9 87.1 740.9 87.5 740.9 87.8 741.0 88.2 740.9 88.6 740.9 88.9 740.8 89.3 740.9 89.7 740.8 90.0 740.8 90.4 740.9 90.7 740.9 91.1 740.8 91.5 740.9 91.8 741.2 92.2 740.9 92.6 741.0 92.9 741.2 93.3 741.0 93.7 741.3 94.0 741.2 94.4 741.3 94.8 741.4 95.1 741.1 95.5 741.0 95.9 741.0 96.2 741.0 96.6 741.1 96.9 741.2 97.3 741.0 97.7 741.2 98.0 741.4 98.4 741.0 98.8 741.3 99.1 741.3 99.5 741.5 99.9 741.3 100.2 741.1 100.6 740.9 101.0 741.0 101.3 741.0 101.7 741.0 102.1 741.2 102.4 741.2 102.8 741.3 103.2 741.4 103.5 741.2 103.9 741.2 104.2 741.0 104.6 741.3 105.0 741.3 105.3 741.5 105.7 741.5 106.1 741.5 106.4 741.4 106.8 741.3 107.2 741.2 107.5 741.2 107.9 741.0 108.3 741.2 108.6 741.2 109.0 741.1 109.4 741.3 109.7 741.3 110.1 741.1 110.5 741.1 110.8 741.3 111.2 741.4 111.5 741.2 111.9 741.1 112.3 741.1 112.6 741.2 113.0 741.4 113.4 741.5 113.7 741.3 114.1 741.3 114.5 741.2 114.8 740.9 115.2 740.7 115.6 740.6 115.9 740.4 116.3 740.0 116.7 739.9 117.0 740.1 117.4 740.7 117.8 741.2 118.1 741.3 118.5 741.4 118.8 741.4 119.2 741.2 119.6 741.0 119.9 741.1 120.3 741.2 120.7 741.1 121.0 741.2 121.4 741.4 121.8 741.2 122.1 741.3 122.5 741.3 122.9 741.1 123.2 741.1 123.6 741.2 124.0 741.5 124.3 741.5 124.7 741.2 125.1 741.4 125.4 741.2 125.8 741.4 126.1 741.5 126.5 741.3 126.9 741.2 127.2 741.1 127.6 741.2 128.0 741.3 128.3 741.2 128.7 741.3 129.1 741.3 129.4 741.2 129.8 741.5 130.2 741.4 130.5 741.5 130.9 741.4 131.3 741.5 131.6 741.6 132.0 741.6 132.4 741.5 132.7 741.6 133.1 741.6 133.4 741.4 133.8 741.5 134.2 741.3 134.5 741.4 134.9 741.7 135.3 741.7 135.6 741.7 136.0 741.5 136.4 741.7 136.7 741.8 137.1 741.6 137.5 741.5 137.8 741.4 138.2 741.4 138.6 741.3 138.9 741.4 139.3 741.4 139.7 741.5 140.0 741.4 140.4 741.7 140.8 741.6 141.1 741.6 141.5 741.8 141.8 741.7 142.2 741.6 142.6 741.7 142.9 741.5 143.3 741.6 143.7 741.6 144.0 741.6 144.4 741.7 144.8 741.6 145.1 741.6 145.5 741.8 145.9 741.6 146.2 741.5 146.6 741.6 147.0 741.7 147.3 741.6 147.7 741.7 148.1 741.6 148.4 741.4 148.8 741.4 149.1 741.5 149.5 741.6 149.9 741.8 150.2 741.6 150.6 741.7 151.0 741.9 151.3 741.8 151.7 741.9 152.1 742.1 152.4 742.1 152.8 742.0 153.2 742.1 153.5 742.0 153.9 741.8 154.3 741.8 154.6 741.9 155.0 742.0 155.3 741.9 155.7 742.0 156.1 741.8 156.4 742.0 156.8 741.9 157.2 742.1 157.5 742.0 157.9 741.8 158.3 741.7 158.6 742.0 159.0 742.2 159.4 742.3 159.7 742.2 160.1 742.2 160.5 742.1 160.8 741.8 161.2 741.8 161.6 741.8 161.9 741.7 162.3 741.9 162.6 741.8 163.0 741.7 163.4 741.8 163.7 741.7 164.1 741.6 164.5 741.4 164.8 741.7 165.2 741.8 165.6 741.7 165.9 741.8 166.3 742.0 166.7 742.0 167.0 741.9 167.4 742.0 167.8 741.7 168.1 741.7 168.5 741.4 168.9 741.1 169.2 740.9 169.6 740.8 169.9 741.3 170.3 741.6 170.7 741.6 171.0 741.8 171.4 742.0 171.8 741.9 172.1 742.4 172.5 742.1 172.9 742.1 173.2 742.2 173.6 742.0 174.0 741.9 174.3 741.8 174.7 741.7 175.1 741.9 175.4 742.0 175.8 742.0 176.2 741.8 176.5 741.8 176.9 741.8 177.2 741.9 177.6 742.0 178.0 741.9 178.3 742.0 178.7 742.0 179.1 742.1 179.4 742.2 179.8 742.1 180.2 742.2 180.5 742.0 180.9 742.2 181.3 742.2 181.6 742.2 182.0 742.0 182.4 742.1 182.7 742.0 183.1 741.9 183.5 742.0 183.8 741.8 184.2 742.0 184.5 742.0 184.9 742.2 185.3 742.3 185.6 742.0 186.0 741.9 186.4 741.7 186.7 741.4 187.1 741.4 187.5 741.7 187.8 741.6 188.2 742.0 188.6 741.9 188.9 742.1 189.3 742.2 189.7 742.1 190.0 742.0 190.4 742.1 190.8 742.1 191.1 741.9 191.5 741.8 191.8 742.1 192.2 742.0 192.6 741.9 192.9 741.9 193.3 742.0 193.7 742.1 194.0 742.0 194.4 742.0 194.8 742.1 195.1 742.1 195.5 742.0 195.9 742.0 196.2 741.8 196.6 741.8 197.0 741.3 197.3 740.9 197.7 740.0 198.1 739.4 198.4 739.1 198.8 739.5 199.2 740.3 199.5 740.9 199.9 741.4 200.2 741.7 200.6 742.0 201.0 742.3 201.3 742.1 201.7 742.0 202.1 741.8 202.4 741.9 202.8 741.5 203.2 741.2 203.5 740.4 203.9 740.0 204.3 739.5 204.6 739.6 205.0 740.2 205.4 741.0 205.7 741.4 206.1 741.7 206.4 741.7 206.8 741.8 207.2 741.5 207.5 741.2 207.9 740.6 208.3 740.1 208.6 739.6 209.0 740.0 209.4 740.9 209.7 741.5 210.1 741.8 210.5 741.9 210.8 742.0 211.2 742.0 211.6 742.0 211.9 742.2 212.3 742.2 212.7 742.2 213.0 742.1 213.4 742.0 213.8 741.9 214.1 742.1 214.5 742.0 214.8 741.9 215.2 742.1 215.6 742.2 215.9 742.0 216.3 742.0 216.7 742.1 217.0 741.9 217.4 742.1 217.8 741.8 218.1 741.6 218.5 741.5 218.9 741.2 219.2 740.9 219.6 740.7 220.0 740.4 220.3 740.3 220.7 740.6 221.0 740.4 221.4 740.6 221.8 740.8 222.1 741.3 222.5 741.6 222.9 741.6 223.2 741.8 223.6 741.8 224.0 741.7 224.3 741.9 224.7 741.9 225.1 742.1 225.4 742.0 225.8 741.7 226.2 742.0 226.5 742.1 226.9 742.2 227.3 742.0 227.6 742.1 228.0 741.9 228.3 741.9 228.7 741.9 229.1 742.0 229.4 742.0 229.8 742.1 230.2 741.7 230.5 742.0 230.9 741.9 231.3 741.6 231.6 741.7 232.0 741.5 232.4 741.5 232.7 741.3 233.1 741.3 233.5 741.0 233.8 740.8 234.2 740.1 234.6 739.5 234.9 739.4 235.3 738.9 235.7 738.3 236.0 738.4 236.4 738.1 236.7 737.9 237.1 737.8 237.5 737.8 237.8 737.8 238.2 737.9 238.6 738.2 238.9 738.7 239.3 739.3 239.7 739.8 240.0 740.2 240.4 740.5 240.8 741.0 241.1 741.0 241.5 741.5 241.9 741.3 242.2 741.5 242.6 741.8 242.9 741.9 243.3 741.8 243.7 741.8 244.0 741.8 244.4 742.0 244.8 741.8 245.1 741.8 245.5 742.0 245.9 742.2 246.2 741.9 246.6 742.0 247.0 741.9 247.3 741.8 247.7 741.7 248.1 741.6 248.4 741.7 248.8 741.5 249.2 741.4 249.5 741.3 249.9 741.1 250.2 741.3 250.6 741.0 251.0 741.0 251.3 740.8 251.7 740.9 252.1 741.0 252.4 741.4 252.8 741.4 253.2 741.7 253.5 741.7 253.9 741.5 254.3 741.8 254.6 741.9 255.0 742.0 255.4 742.2 255.7 742.2 256.1 742.3 256.5 742.1 256.8 742.1 257.2 742.0 257.5 741.8 257.9 741.9 258.3 741.9 258.6 741.8 259.0 742.0 259.4 742.2 259.7 742.1 260.1 742.0 260.5 742.0 260.8 742.0 261.2 741.9 261.6 742.1 261.9 742.0 262.3 742.0 262.7 741.9 263.0 741.8 263.4 741.7 263.8 741.3 264.1 741.2 264.5 741.0 264.9 740.9 265.2 740.6 265.6 740.6 265.9 740.5 266.3 740.8 266.7 741.3 267.0 741.6 267.4 741.8 267.8 742.0 268.1 741.9 268.5 742.2 268.9 742.3 269.2 742.2 269.6 742.1 270.0 741.8 270.3 741.9 270.7 742.1 271.1 742.1 271.4 742.3 271.8 742.4 272.1 742.4 272.5 742.1 272.9 742.1 273.2 742.2 273.6 742.0 274.0 742.2 274.3 742.5 274.7 742.4 275.1 742.0 275.4 741.9 275.8 741.9 276.2 742.2 276.5 742.2 276.9 742.2 277.3 742.3 277.6 742.1 278.0 742.1 278.4 742.1 278.7 742.1 279.1 742.2 279.4 742.3 279.8 742.3 280.2 742.4 280.5 742.3 280.9 742.1 281.3 742.2 281.6 742.4 282.0 742.4 282.4 742.1 282.7 742.1 283.1 742.2 283.5 742.0 283.8 741.8 284.2 742.1 284.6 742.1 284.9 742.1 285.3 742.1 285.7 742.0 286.0 742.0 286.4 741.8 286.8 741.4 287.1 740.4 287.5 740.1 287.8 739.7 288.2 740.2 288.6 740.7 288.9 741.1 289.3 741.3 289.7 741.5 290.0 741.6 290.4 741.6 290.8 741.3 291.1 741.1 291.5 740.3 291.9 739.5 292.2 738.1 292.6 737.1 293.0 737.1 293.3 738.2 293.7 739.6 294.0 740.7 294.4 741.4 294.8 741.5 295.1 741.7 295.5 741.7 295.9 741.8 296.2 741.8 296.6 742.0 297.0 742.0 297.3 742.0 297.7 741.9 298.1 741.9 298.4 742.0 298.8 741.9 299.2 741.9 299.5 741.9 299.9 742.1 300.3 742.0 300.6 742.0 301.0 742.1 301.4 741.9 301.7 741.9 302.1 742.0 302.4 741.9 302.8 742.1 303.2 741.7 303.5 741.6 303.9 741.3 304.3 740.7 304.6 740.0 305.0 738.7 305.4 737.1 305.7 735.9 306.1 736.1 306.5 737.6 306.8 739.1 307.2 740.1 307.6 741.1 307.9 741.5 308.3 741.7 308.6 741.8 309.0 742.1 309.4 742.1 309.7 742.0 310.1 742.1 310.5 742.0 310.8 741.9 311.2 742.0 311.6 742.0 311.9 741.7 312.3 741.7 312.7 741.4 313.0 741.4 313.4 741.3 313.8 741.3 314.1 741.1 314.5 741.0 314.9 740.6 315.2 740.6 315.6 740.3 315.9 740.0 316.3 738.9 316.7 736.8 317.0 732.3 317.4 725.0 317.8 715.0 318.1 705.6 318.5 702.5 318.9 708.9 319.2 719.2 319.6 728.4 320.0 734.4 320.3 737.7 320.7 739.2 321.1 740.1 321.4 740.4 321.8 740.9 322.2 741.0 322.5 741.2 322.9 741.1 323.2 741.1 323.6 741.1 324.0 741.1 324.3 741.2 324.7 741.1 325.1 741.1 325.4 741.1 325.8 740.9 326.2 740.8 326.5 740.8 326.9 740.8 327.3 740.6 327.6 740.2 328.0 739.8 328.4 738.9 328.7 737.5 329.1 734.6 329.5 728.9 329.8 719.1 330.2 705.7 330.6 693.1 330.9 688.9 331.3 697.5 331.6 711.3 332.0 723.4 332.4 731.6 332.7 735.8 333.1 737.9 333.5 738.9 333.8 739.2 334.2 739.4 334.6 739.4 334.9 739.2 335.3 738.5 335.7 736.9 336.0 733.8 336.4 729.0 336.8 724.1 337.1 721.8 337.5 724.1 337.8 729.1 338.2 733.8 338.6 736.6 338.9 738.6 339.3 739.2 339.7 739.8 340.0 739.6 340.4 739.7 340.8 739.5 341.1 739.1 341.5 737.9 341.9 735.7 342.2 730.7 342.6 722.7 343.0 711.2 343.3 699.1 343.7 693.6 344.1 699.3 344.4 711.7 344.8 723.4 345.1 731.5 345.5 736.0 345.9 738.4 346.2 739.5 346.6 739.9 347.0 740.2 347.3 740.3 347.7 740.4 348.1 740.6 348.4 740.7 348.8 741.1 349.2 741.2 349.5 741.1 349.9 741.3 350.3 741.4 350.6 741.2 351.0 741.1 351.4 741.0 351.7 740.9 352.1 740.2 352.4 738.9 352.8 736.7 353.2 732.6 353.5 727.2 353.9 722.4 354.3 720.5 354.6 723.7 355.0 728.9 355.4 733.8 355.7 737.1 356.1 738.7 356.5 739.4 356.8 739.6 357.2 739.5 357.6 739.7 357.9 739.8 358.3 739.6 358.7 739.7 359.0 739.6 359.4 739.8 359.8 740.1 360.1 740.0 360.5 740.0 360.8 740.5 361.2 740.6 361.6 740.8 361.9 740.6 362.3 740.9 362.7 741.1 363.0 741.4 363.4 741.3 363.8 741.4 364.1 741.5 364.5 741.4 364.9 741.4 365.2 741.3 365.6 741.4 366.0 741.3 366.3 741.0 366.7 740.9 367.1 740.6 367.4 739.6 367.8 738.0 368.1 735.1 368.5 731.3 368.9 727.2 369.2 725.3 369.6 727.1 370.0 731.3 370.3 735.4 370.7 738.0 371.1 739.6 371.4 740.3 371.8 740.8 372.2 740.8 372.5 740.6 372.9 740.7 373.3 740.4 373.6 739.6 374.0 738.5 374.3 737.1 374.7 735.5 375.1 734.8 375.4 735.4 375.8 736.9 376.2 738.3 376.5 739.0 376.9 739.1 377.3 738.8 377.6 738.3 378.0 737.7 378.4 736.5 378.7 735.2 379.1 733.7 379.5 732.4 379.8 731.5 380.2 730.9 380.6 730.5 380.9 730.5 381.3 730.3 381.6 730.0 382.0 729.1 382.4 727.9 382.7 726.3 383.1 724.7 383.5 722.9 383.8 721.3 384.2 720.4 384.6 720.4 384.9 721.1 385.3 723.3 385.7 726.0 386.0 728.5 386.4 730.9 386.8 733.1 387.1 735.1 387.5 736.5 387.9 737.6 388.2 738.5 388.6 739.4 388.9 739.7 389.3 739.9 389.7 740.3 390.0 740.5 390.4 740.6 390.8 741.0 391.1 741.0 391.5 741.1 391.9 741.0 392.2 740.5 392.6 739.7 393.0 739.3 393.3 738.4 393.7 738.3 394.1 739.0 394.4 739.9 394.8 740.5 395.2 740.6 395.5 740.7 395.9 740.3 396.2 740.0 396.6 739.2 397.0 737.9 397.3 736.5 397.7 734.7 398.1 732.9 398.4 731.2 398.8 731.1 399.2 732.1 399.5 733.9 399.9 736.0 400.3 737.3 400.6 738.7 401.0 739.8 401.4 740.5 401.7 740.8 402.1 740.8 402.5 741.0 402.8 741.2 403.2 741.1 403.6 741.0 403.9 740.5 404.3 739.6 404.6 738.4 405.0 737.0 405.4 735.8 405.7 735.3 406.1 735.9 406.5 737.3 406.8 738.4 407.2 739.1 407.6 739.4 407.9 739.5 408.3 738.9 408.7 738.0 409.0 737.0 409.4 736.2 409.8 736.6 410.1 737.9 410.5 739.1 410.8 740.1 411.2 741.0 411.6 741.5 411.9 741.8 412.3 741.7 412.7 741.7 413.0 741.9 413.4 741.6 413.8 741.6 414.1 741.8 414.5 741.8 414.9 741.4 415.2 741.5 415.6 741.5 416.0 741.6 416.3 741.8 416.7 742.0 417.1 742.0 417.4 741.8 417.8 741.8 418.1 741.9 418.5 741.7 418.9 741.5 419.2 741.2 419.6 741.2 420.0 741.2 420.3 740.9 420.7 740.3 421.1 739.2 421.4 737.8 421.8 736.1 422.2 734.1 422.5 732.1 422.9 731.5 423.3 731.7 423.6 733.5 424.0 735.3 424.4 737.2 424.7 738.4 425.1 739.9 425.4 740.3 425.8 740.7 426.2 741.0 426.5 741.0 426.9 741.1 427.3 741.4 427.6 741.3 428.0 740.8 428.4 740.7 428.7 740.1 429.1 739.8 429.5 738.9 429.8 738.4 430.2 737.6 430.6 737.1 430.9 736.9 431.3 737.2 431.7 737.8 432.0 738.8 432.4 739.6 432.8 740.4 433.1 740.8 433.5 741.2 433.8 741.4 434.2 741.7 434.6 741.3 434.9 741.2 435.3 741.3 435.7 741.3 436.0 741.1 436.4 741.0 436.8 740.8 437.1 740.5 437.5 740.9 437.9 741.1 438.2 741.3 438.6 741.3 439.0 741.5 439.3 741.4 439.7 741.3 440.1 741.6 440.4 741.7 440.8 741.6 441.1 741.9 441.5 741.8 441.9 741.7 442.2 741.7 442.6 741.9 443.0 742.0 443.3 741.8 443.7 742.0 444.1 742.2 444.4 742.1 444.8 742.1 445.2 742.1 445.5 742.0 445.9 741.9 446.3 741.9 446.6 741.9 447.0 741.9 447.3 741.9 447.7 741.8 448.1 741.8 448.4 741.7 448.8 741.3 449.2 740.9 449.5 740.2 449.9 739.9 450.3 739.2 450.6 738.6 451.0 738.3 451.4 738.7 451.7 739.0 452.1 739.5 452.5 739.9 452.8 740.6 453.2 741.1 453.6 741.3 453.9 741.5 454.3 741.6 454.6 741.9 455.0 741.8 455.4 742.1 455.7 741.8 456.1 741.9 456.5 741.7 456.8 741.8 457.2 741.8 457.6 741.7 457.9 741.9 458.3 741.7 458.7 741.8 459.0 741.5 459.4 741.5 459.8 741.7 460.1 741.6 460.5 741.8 460.9 741.9 461.2 742.0 461.6 741.7 461.9 741.7 462.3 741.6 462.7 741.6 463.0 741.6 463.4 741.7 463.8 741.6 464.1 741.6 464.5 741.3 464.9 741.3 465.2 741.2 465.6 741.0 466.0 740.9 466.3 740.4 466.7 740.1 467.1 739.0 467.4 737.7 467.8 736.1 468.2 733.8 468.5 731.4 468.9 729.1 469.2 727.4 469.6 727.2 470.0 728.1 470.3 730.2 470.7 732.6 471.1 735.0 471.4 736.9 471.8 738.4 472.2 739.6 472.5 740.2 472.9 740.7 473.3 741.1 473.6 741.3 474.0 741.3 474.4 741.5 474.7 741.3 475.1 741.3 475.5 741.2 475.8 741.2 476.2 741.1 476.6 740.7 476.9 740.4 477.3 739.5 477.6 738.8 478.0 737.8 478.4 737.4 478.7 737.3 479.1 737.5 479.5 738.1 479.8 738.9 480.2 739.5 480.6 740.2 480.9 740.8 481.3 741.0 481.7 741.3 482.0 741.5 482.4 741.7 482.8 741.4 483.1 741.6 483.5 741.2 483.8 741.2 484.2 740.9 484.6 740.7 484.9 740.2 485.3 739.4 485.7 738.1 486.0 736.5 486.4 734.3 486.8 731.9 487.1 730.1 487.5 729.3 487.9 730.3 488.2 732.3 488.6 734.4 489.0 736.8 489.3 738.3 489.7 739.4 490.1 740.1 490.4 740.5 490.8 740.7 491.1 741.1 491.5 741.3 491.9 741.4 492.2 741.3 492.6 741.0 493.0 741.0 493.3 741.1 493.7 740.6 494.1 740.3 494.4 739.5 494.8 738.8 495.2 738.3 495.5 737.6 495.9 737.4 496.3 737.6 496.6 737.8 497.0 738.3 497.4 739.0 497.7 739.9 498.1 740.4 498.4 741.2 498.8 741.3 499.2 741.5 499.5 741.4 499.9 741.5 500.3 741.6 500.6 741.5 501.0 741.5 501.4 741.7 501.7 741.7 502.1 741.5 502.5 741.4 502.8 741.2 503.2 740.8 503.6 740.0 503.9 739.4 504.3 738.9 504.7 738.3 505.0 738.2 505.4 738.2 505.8 738.5 506.1 739.1 506.5 739.7 506.8 740.4 507.2 740.8 507.6 741.1 507.9 741.2 508.3 741.3 508.7 741.4 509.0 741.6 509.4 741.7 509.8 741.8 510.1 741.8 510.5 741.5 510.9 741.5 511.2 741.3 511.6 740.8 512.0 740.5 512.3 739.7 512.7 738.6 513.0 737.0 513.4 735.1 513.8 732.8 514.1 730.7 514.5 729.6 514.9 729.7 515.2 731.4 515.6 733.5 516.0 735.7 516.3 737.6 516.7 739.0 517.1 739.8 517.4 740.6 517.8 740.8 518.2 741.1 518.5 741.3 518.9 741.3 519.3 741.5 519.6 741.4 520.0 741.5 520.3 741.1 520.7 740.9 521.1 740.8 521.4 740.1 521.8 739.4 522.2 738.7 522.5 738.1 522.9 737.5 523.3 737.4 523.6 737.7 524.0 738.1 524.4 739.0 524.7 739.6 525.1 740.1 525.5 740.7 525.8 741.1 526.2 741.3 526.6 741.2 526.9 741.4 527.3 741.4 527.6 741.4 528.0 741.6 528.4 741.6 528.7 741.7 529.1 741.7 529.5 741.5 529.8 741.1 530.2 740.7 530.6 740.4 530.9 740.1 531.3 739.6 531.7 739.1 532.0 738.6 532.4 738.4 532.8 738.7 533.1 739.1 533.5 739.8 533.9 740.3 534.2 740.6 534.6 741.1 535.0 741.2 535.3 741.5 535.7 741.7 536.0 741.6 536.4 741.4 536.8 741.5 537.1 741.4 537.5 741.7 537.9 741.5 538.2 741.4 538.6 741.4 539.0 741.4 539.3 741.0 539.7 740.7 540.1 740.3 540.4 739.5 540.8 739.3 541.2 738.9 541.5 738.9 541.9 738.6 542.2 739.0 542.6 739.5 543.0 740.0 543.3 740.7 543.7 741.0 544.1 741.1 544.4 741.1 544.8 741.7 545.2 741.7 545.5 741.6 545.9 741.5 546.3 741.5 546.6 741.3 547.0 741.4 547.4 741.1 547.7 740.7 548.1 740.6 548.5 740.3 548.8 740.0 549.2 739.4 549.5 739.1 549.9 738.8 550.3 738.9 550.6 739.0 551.0 739.3 551.4 740.0 551.7 740.4 552.1 740.8 552.5 741.0 552.8 741.3 553.2 741.5 553.6 741.6 553.9 741.8 554.3 741.8 554.7 741.7 555.0 741.6 555.4 741.7 555.8 741.6 556.1 741.6 556.5 741.9 556.8 741.9 557.2 741.9 557.6 742.1 557.9 742.1 558.3 742.0 558.7 741.8 559.0 741.6 559.4 741.5 559.8 741.3 560.1 741.0 560.5 740.5 560.9 740.2 561.2 739.8 561.6 739.8 562.0 739.9 562.3 739.8 562.7 740.2 563.1 740.8 563.4 741.1 563.8 741.2 564.1 741.6 564.5 741.8 564.9 742.0 565.2 741.9 565.6 741.9 566.0 742.0 566.3 742.0 566.7 742.0 567.1 741.9 567.4 741.7 567.8 741.7 568.2 741.7 568.5 741.5 568.9 741.6 569.3 741.6 569.6 741.6 570.0 741.9 570.4 741.8 570.7 741.6 571.1 741.5 571.4 741.3 571.8 741.3 572.2 741.3 572.5 740.9 572.9 740.5 573.3 739.7 573.6 738.8 574.0 737.2 574.4 735.3 574.7 733.7 575.1 733.2 575.5 733.6 575.8 735.0 576.2 736.5 576.6 737.9 576.9 739.0 577.3 739.7 577.7 739.9 578.0 739.9 578.4 739.6 578.8 739.7 579.1 739.8 579.5 739.7 579.8 739.7 580.2 739.8 580.6 740.1 580.9 740.3 581.3 740.6 581.7 740.7 582.0 740.9 582.4 741.1 582.8 741.2 583.1 741.1 583.5 741.4 583.9 741.5 584.2 741.6 584.6 741.6 585.0 741.7 585.3 741.8 585.7 741.7 586.0 741.4 586.4 741.1 586.8 741.0 587.1 740.9 587.5 740.3 587.9 739.8 588.2 739.1 588.6 738.5 589.0 737.6 589.3 736.9 589.7 735.9 590.1 735.0 590.4 734.6 590.8 733.9 591.2 733.9 591.5 734.0 591.9 734.4 592.3 735.3 592.6 736.0 593.0 736.7 593.4 737.7 593.7 738.6 594.1 739.1 594.4 739.6 594.8 739.9 595.2 740.1 595.5 740.4 595.9 740.4 596.3 740.3 596.6 740.1 597.0 740.2 597.4 740.0 597.7 739.5 598.1 739.2 598.5 738.7 598.8 738.0 599.2 737.9 599.6 737.6 599.9 737.5 600.3 737.7 600.6 737.9 601.0 738.6 601.4 739.3 601.7 739.6 602.1 739.8 602.5 740.2 602.8 740.5 603.2 740.7 603.6 741.2 603.9 741.4 604.3 741.6 604.7 741.6 605.0 741.8 605.4 741.7 605.8 741.5 606.1 741.5 606.5 741.5 606.9 741.7 607.2 741.7 607.6 741.6 607.9 741.7 608.3 741.6 608.7 741.6 609.0 741.6 609.4 741.8 609.8 741.7 610.1 741.7 610.5 741.9 610.9 741.8 611.2 741.9 611.6 741.7 612.0 741.8 612.3 741.6 612.7 741.3 613.1 741.5 613.4 741.4 613.8 740.9 614.2 740.8 614.5 740.6 614.9 740.6 615.2 740.1 615.6 739.9 616.0 739.7 616.3 739.8 616.7 739.9 617.1 739.8 617.4 740.3 617.8 740.4 618.2 740.7 618.5 740.9 618.9 741.0 619.3 740.6 619.6 740.5 620.0 739.9 620.4 739.2 620.7 738.4 621.1 736.9 621.5 735.3 621.8 733.2 622.2 731.0 622.5 729.6 622.9 728.8 623.3 729.2 623.6 730.3 624.0 732.0 624.4 733.3 624.7 734.1 625.1 734.6 625.5 734.6 625.8 734.4 626.2 734.9 626.6 735.3 626.9 736.1 627.3 737.0 627.7 737.8 628.0 738.7 628.4 739.6 628.8 740.0 629.1 740.6 629.5 740.9 629.9 741.0 630.2 741.4 630.6 741.7 630.9 741.8 631.3 741.7 631.7 741.4 632.0 741.4 632.4 741.5 632.8 741.8 633.1 741.5 633.5 741.6" fill="none" stroke="#e9d91f" stroke-width="1.7" stroke-linejoin="round"/>
<path d="M49.5 799.5 49.9 799.6 50.2 799.6 50.6 799.4 51.0 799.2 51.3 799.3 51.7 799.2 52.1 799.3 52.4 799.1 52.8 799.2 53.1 799.5 53.5 799.6 53.9 799.7 54.2 799.6 54.6 799.8 55.0 799.6 55.3 799.7 55.7 799.7 56.1 799.7 56.4 799.9 56.8 799.8 57.2 799.4 57.5 799.5 57.9 799.5 58.3 799.5 58.6 799.6 59.0 799.6 59.4 799.4 59.7 799.4 60.1 799.4 60.5 799.4 60.8 799.4 61.2 799.4 61.5 799.6 61.9 799.4 62.3 799.3 62.6 799.2 63.0 798.9 63.4 798.9 63.7 798.8 64.1 798.8 64.5 798.9 64.8 799.1 65.2 799.2 65.6 799.3 65.9 799.2 66.3 799.3 66.7 799.5 67.0 799.7 67.4 799.9 67.8 800.0 68.1 799.9 68.5 799.9 68.8 799.9 69.2 799.8 69.6 799.9 69.9 799.7 70.3 799.7 70.7 799.8 71.0 799.8 71.4 800.1 71.8 800.1 72.1 799.9 72.5 799.8 72.9 800.0 73.2 799.8 73.6 799.7 74.0 800.0 74.3 799.7 74.7 799.9 75.0 799.6 75.4 799.5 75.8 799.5 76.1 799.5 76.5 799.5 76.9 799.2 77.2 799.2 77.6 799.1 78.0 799.2 78.3 799.2 78.7 799.3 79.1 799.4 79.4 799.4 79.8 799.5 80.2 799.7 80.5 799.8 80.9 799.8 81.3 799.8 81.6 799.9 82.0 800.0 82.3 800.1 82.7 800.1 83.1 800.3 83.4 800.3 83.8 800.3 84.2 800.3 84.5 800.4 84.9 800.3 85.3 800.4 85.6 800.5 86.0 800.3 86.4 800.4 86.7 800.5 87.1 800.4 87.5 800.4 87.8 800.2 88.2 800.4 88.6 800.1 88.9 800.2 89.3 800.1 89.7 800.3 90.0 799.9 90.4 800.3 90.7 800.3 91.1 800.5 91.5 800.4 91.8 800.3 92.2 800.4 92.6 800.6 92.9 800.6 93.3 800.6 93.7 800.3 94.0 800.2 94.4 800.3 94.8 800.3 95.1 800.5 95.5 800.6 95.9 800.6 96.2 800.4 96.6 800.5 96.9 800.5 97.3 800.6 97.7 800.6 98.0 800.6 98.4 800.7 98.8 800.5 99.1 800.6 99.5 800.6 99.9 800.7 100.2 800.6 100.6 800.6 101.0 800.5 101.3 800.4 101.7 800.5 102.1 800.4 102.4 800.5 102.8 800.6 103.2 800.6 103.5 800.6 103.9 800.6 104.2 800.5 104.6 800.5 105.0 800.4 105.3 800.5 105.7 800.5 106.1 800.3 106.4 800.5 106.8 800.7 107.2 801.0 107.5 800.7 107.9 800.6 108.3 800.6 108.6 800.8 109.0 800.8 109.4 800.9 109.7 800.9 110.1 800.9 110.5 800.7 110.8 800.9 111.2 800.6 111.5 800.7 111.9 800.7 112.3 800.8 112.6 800.9 113.0 800.9 113.4 800.8 113.7 800.9 114.1 801.0 114.5 801.1 114.8 801.0 115.2 800.9 115.6 800.8 115.9 800.7 116.3 800.7 116.7 800.6 117.0 800.7 117.4 800.8 117.8 800.8 118.1 800.7 118.5 800.8 118.8 800.8 119.2 801.0 119.6 800.9 119.9 800.8 120.3 800.7 120.7 800.8 121.0 800.8 121.4 800.7 121.8 800.6 122.1 800.5 122.5 800.7 122.9 800.9 123.2 800.7 123.6 800.6 124.0 800.7 124.3 800.7 124.7 800.7 125.1 800.7 125.4 800.8 125.8 800.9 126.1 801.1 126.5 800.9 126.9 800.8 127.2 801.0 127.6 800.8 128.0 801.1 128.3 801.1 128.7 800.9 129.1 800.9 129.4 800.8 129.8 800.8 130.2 801.1 130.5 801.3 130.9 801.0 131.3 800.8 131.6 800.8 132.0 800.9 132.4 800.8 132.7 800.9 133.1 801.0 133.4 800.8 133.8 800.9 134.2 800.9 134.5 801.0 134.9 800.6 135.3 800.8 135.6 800.5 136.0 800.5 136.4 800.7 136.7 800.7 137.1 800.8 137.5 800.7 137.8 800.7 138.2 800.8 138.6 800.9 138.9 800.9 139.3 800.9 139.7 801.2 140.0 801.2 140.4 800.8 140.8 800.7 141.1 800.8 141.5 801.0 141.8 800.7 142.2 800.9 142.6 801.1 142.9 801.2 143.3 801.1 143.7 801.0 144.0 800.9 144.4 800.8 144.8 800.8 145.1 800.6 145.5 800.8 145.9 800.8 146.2 801.1 146.6 801.1 147.0 801.2 147.3 801.2 147.7 801.0 148.1 801.1 148.4 801.0 148.8 801.1 149.1 801.1 149.5 800.8 149.9 800.6 150.2 800.7 150.6 800.8 151.0 801.0 151.3 801.0 151.7 801.0 152.1 801.2 152.4 801.3 152.8 801.2 153.2 801.1 153.5 801.0 153.9 800.9 154.3 801.1 154.6 801.0 155.0 800.9 155.3 800.7 155.7 800.8 156.1 800.7 156.4 801.0 156.8 800.8 157.2 800.8 157.5 800.8 157.9 801.0 158.3 800.6 158.6 800.7 159.0 800.7 159.4 800.6 159.7 800.8 160.1 801.0 160.5 800.9 160.8 800.9 161.2 800.8 161.6 800.9 161.9 801.2 162.3 801.0 162.6 801.2 163.0 801.2 163.4 801.0 163.7 801.0 164.1 801.0 164.5 801.2 164.8 801.1 165.2 801.0 165.6 801.0 165.9 800.8 166.3 801.0 166.7 801.0 167.0 801.2 167.4 801.0 167.8 800.9 168.1 800.5 168.5 800.5 168.9 800.2 169.2 800.3 169.6 800.1 169.9 800.3 170.3 800.4 170.7 800.7 171.0 800.9 171.4 801.0 171.8 800.9 172.1 800.8 172.5 800.8 172.9 800.9 173.2 801.1 173.6 801.1 174.0 801.1 174.3 801.1 174.7 801.2 175.1 801.1 175.4 801.1 175.8 801.0 176.2 801.2 176.5 801.1 176.9 801.3 177.2 801.2 177.6 801.0 178.0 801.0 178.3 801.0 178.7 801.0 179.1 800.8 179.4 801.0 179.8 801.0 180.2 800.8 180.5 800.9 180.9 801.1 181.3 801.3 181.6 801.3 182.0 801.4 182.4 801.3 182.7 801.2 183.1 801.2 183.5 801.1 183.8 801.2 184.2 801.2 184.5 801.3 184.9 801.1 185.3 800.9 185.6 800.9 186.0 800.7 186.4 800.6 186.7 800.5 187.1 800.4 187.5 800.7 187.8 800.8 188.2 800.8 188.6 801.0 188.9 801.1 189.3 801.1 189.7 800.8 190.0 801.1 190.4 801.1 190.8 801.3 191.1 801.0 191.5 801.0 191.8 800.7 192.2 801.0 192.6 801.0 192.9 801.0 193.3 801.1 193.7 801.2 194.0 801.4 194.4 801.2 194.8 801.1 195.1 801.1 195.5 801.2 195.9 801.1 196.2 801.0 196.6 800.8 197.0 800.6 197.3 800.5 197.7 800.2 198.1 799.8 198.4 799.5 198.8 799.8 199.2 800.2 199.5 800.6 199.9 800.6 200.2 801.1 200.6 801.2 201.0 801.1 201.3 801.2 201.7 801.0 202.1 800.8 202.4 800.8 202.8 800.7 203.2 800.2 203.5 799.6 203.9 799.1 204.3 798.5 204.6 798.6 205.0 799.3 205.4 799.9 205.7 800.6 206.1 800.6 206.4 800.7 206.8 800.6 207.2 800.2 207.5 799.6 207.9 798.8 208.3 797.8 208.6 797.5 209.0 798.1 209.4 798.8 209.7 799.7 210.1 800.3 210.5 800.7 210.8 800.8 211.2 800.9 211.6 801.1 211.9 801.0 212.3 801.0 212.7 800.8 213.0 800.8 213.4 800.9 213.8 801.1 214.1 801.2 214.5 801.2 214.8 801.0 215.2 801.1 215.6 801.1 215.9 800.8 216.3 801.0 216.7 800.9 217.0 801.0 217.4 801.0 217.8 800.9 218.1 801.1 218.5 800.9 218.9 800.7 219.2 800.7 219.6 800.2 220.0 799.9 220.3 799.6 220.7 799.4 221.0 799.3 221.4 799.6 221.8 799.8 222.1 800.0 222.5 800.3 222.9 800.6 223.2 800.7 223.6 800.9 224.0 800.8 224.3 800.9 224.7 801.1 225.1 801.2 225.4 801.4 225.8 801.3 226.2 801.3 226.5 801.2 226.9 801.2 227.3 801.4 227.6 801.4 228.0 801.2 228.3 801.4 228.7 801.2 229.1 801.1 229.4 801.0 229.8 801.1 230.2 800.8 230.5 800.9 230.9 800.7 231.3 800.7 231.6 800.6 232.0 800.6 232.4 800.6 232.7 800.4 233.1 800.2 233.5 800.0 233.8 799.9 234.2 799.6 234.6 799.3 234.9 798.8 235.3 798.6 235.7 798.4 236.0 798.2 236.4 798.0 236.7 797.3 237.1 797.2 237.5 797.5 237.8 797.6 238.2 797.9 238.6 798.0 238.9 798.6 239.3 798.7 239.7 799.1 240.0 799.6 240.4 799.8 240.8 799.8 241.1 800.1 241.5 800.2 241.9 800.4 242.2 800.4 242.6 800.6 242.9 801.0 243.3 800.8 243.7 800.8 244.0 800.9 244.4 800.9 244.8 800.9 245.1 801.1 245.5 801.2 245.9 801.1 246.2 801.0 246.6 801.0 247.0 801.0 247.3 801.1 247.7 801.1 248.1 801.2 248.4 801.2 248.8 801.1 249.2 801.1 249.5 800.9 249.9 800.6 250.2 800.6 250.6 800.6 251.0 800.3 251.3 800.3 251.7 800.4 252.1 800.4 252.4 800.3 252.8 800.1 253.2 800.1 253.5 800.3 253.9 800.4 254.3 800.6 254.6 800.6 255.0 800.8 255.4 800.9 255.7 801.0 256.1 801.0 256.5 801.0 256.8 801.2 257.2 801.1 257.5 801.1 257.9 801.0 258.3 801.1 258.6 801.1 259.0 801.2 259.4 801.3 259.7 801.0 260.1 800.9 260.5 800.7 260.8 800.7 261.2 800.8 261.6 801.0 261.9 801.3 262.3 801.2 262.7 800.8 263.0 800.8 263.4 800.6 263.8 800.7 264.1 800.2 264.5 800.1 264.9 799.9 265.2 799.8 265.6 799.8 265.9 800.0 266.3 800.0 266.7 800.4 267.0 800.6 267.4 800.8 267.8 800.8 268.1 800.7 268.5 800.8 268.9 801.2 269.2 801.2 269.6 801.1 270.0 801.1 270.3 801.0 270.7 801.2 271.1 801.3 271.4 801.4 271.8 801.2 272.1 801.1 272.5 801.1 272.9 800.9 273.2 801.1 273.6 801.2 274.0 801.3 274.3 801.4 274.7 801.1 275.1 801.0 275.4 801.3 275.8 801.2 276.2 801.3 276.5 801.0 276.9 801.2 277.3 801.2 277.6 801.3 278.0 801.2 278.4 801.4 278.7 801.3 279.1 801.1 279.4 801.3 279.8 801.4 280.2 801.2 280.5 801.3 280.9 801.2 281.3 801.2 281.6 801.3 282.0 801.2 282.4 801.2 282.7 801.0 283.1 801.0 283.5 800.9 283.8 801.1 284.2 801.1 284.6 801.1 284.9 801.0 285.3 801.1 285.7 801.0 286.0 801.0 286.4 800.8 286.8 800.5 287.1 800.4 287.5 800.0 287.8 799.8 288.2 800.2 288.6 800.3 288.9 800.5 289.3 800.8 289.7 800.9 290.0 800.9 290.4 800.7 290.8 800.7 291.1 800.6 291.5 800.4 291.9 799.8 292.2 798.7 292.6 797.3 293.0 796.5 293.3 796.8 293.7 797.9 294.0 799.2 294.4 800.0 294.8 800.7 295.1 801.0 295.5 800.9 295.9 800.6 296.2 800.8 296.6 801.2 297.0 801.2 297.3 801.2 297.7 801.3 298.1 801.2 298.4 801.1 298.8 801.4 299.2 801.1 299.5 801.2 299.9 801.1 300.3 801.2 300.6 801.2 301.0 801.2 301.4 801.3 301.7 801.0 302.1 801.2 302.4 800.9 302.8 800.8 303.2 800.6 303.5 800.6 303.9 800.3 304.3 800.0 304.6 799.1 305.0 797.8 305.4 796.1 305.7 795.0 306.1 795.0 306.5 796.4 306.8 798.1 307.2 799.1 307.6 799.8 307.9 800.3 308.3 800.7 308.6 801.0 309.0 800.8 309.4 800.6 309.7 800.8 310.1 801.0 310.5 801.1 310.8 801.0 311.2 801.1 311.6 800.9 311.9 800.9 312.3 800.7 312.7 800.6 313.0 800.7 313.4 800.6 313.8 800.5 314.1 800.3 314.5 800.2 314.9 800.4 315.2 800.0 315.6 800.0 315.9 799.6 316.3 799.2 316.7 798.4 317.0 796.6 317.4 792.9 317.8 786.4 318.1 777.2 318.5 767.5 318.9 762.7 319.2 767.2 319.6 776.8 320.0 786.1 320.3 792.9 320.7 796.4 321.1 798.0 321.4 799.0 321.8 799.4 322.2 799.6 322.5 799.9 322.9 800.0 323.2 800.0 323.6 800.2 324.0 800.4 324.3 800.2 324.7 800.4 325.1 800.2 325.4 800.1 325.8 800.2 326.2 800.1 326.5 799.8 326.9 799.7 327.3 799.8 327.6 799.5 328.0 798.9 328.4 798.2 328.7 797.2 329.1 795.2 329.5 790.7 329.8 782.4 330.2 770.2 330.6 756.3 330.9 748.0 331.3 751.8 331.6 764.5 332.0 777.6 332.4 787.7 332.7 793.4 333.1 796.3 333.5 797.4 333.8 798.0 334.2 798.2 334.6 798.0 334.9 797.4 335.3 796.2 335.7 793.2 336.0 788.2 336.4 780.6 336.8 772.8 337.1 769.0 337.5 772.6 337.8 780.7 338.2 788.4 338.6 793.8 338.9 796.6 339.3 798.0 339.7 798.5 340.0 798.7 340.4 798.5 340.8 798.5 341.1 798.3 341.5 797.2 341.9 795.4 342.2 791.4 342.6 784.5 343.0 774.3 343.3 763.7 343.7 758.8 344.1 763.9 344.4 774.7 344.8 784.6 345.1 791.5 345.5 795.6 345.9 797.6 346.2 798.5 346.6 799.2 347.0 799.5 347.3 799.5 347.7 799.8 348.1 799.8 348.4 799.9 348.8 799.9 349.2 800.1 349.5 800.0 349.9 800.0 350.3 799.9 350.6 799.9 351.0 799.6 351.4 799.1 351.7 798.5 352.1 797.2 352.4 795.8 352.8 793.9 353.2 792.1 353.5 790.0 353.9 788.5 354.3 787.9 354.6 788.8 355.0 790.5 355.4 792.1 355.7 794.0 356.1 795.4 356.5 796.6 356.8 797.4 357.2 797.8 357.6 797.9 357.9 798.1 358.3 798.1 358.7 797.8 359.0 797.8 359.4 797.6 359.8 797.5 360.1 797.4 360.5 797.4 360.8 797.3 361.2 797.6 361.6 797.7 361.9 797.8 362.3 797.9 362.7 798.2 363.0 798.6 363.4 798.9 363.8 799.0 364.1 799.2 364.5 799.5 364.9 799.3 365.2 799.6 365.6 799.8 366.0 799.8 366.3 799.9 366.7 799.8 367.1 799.9 367.4 799.6 367.8 798.8 368.1 797.4 368.5 795.4 368.9 793.3 369.2 792.5 369.6 793.4 370.0 795.4 370.3 797.5 370.7 799.0 371.1 800.1 371.4 800.4 371.8 800.1 372.2 800.0 372.5 800.0 372.9 800.0 373.3 799.7 373.6 799.5 374.0 798.9 374.3 797.9 374.7 797.0 375.1 796.3 375.4 796.7 375.8 797.6 376.2 798.4 376.5 798.9 376.9 798.8 377.3 798.2 377.6 797.5 378.0 796.7 378.4 795.6 378.7 794.1 379.1 793.0 379.5 791.6 379.8 790.6 380.2 790.1 380.6 789.8 380.9 790.0 381.3 790.1 381.6 790.1 382.0 789.5 382.4 788.6 382.7 787.4 383.1 786.1 383.5 784.6 383.8 783.1 384.2 782.4 384.6 782.5 384.9 783.4 385.3 785.2 385.7 786.9 386.0 789.1 386.4 791.3 386.8 793.2 387.1 794.9 387.5 796.3 387.9 797.2 388.2 798.1 388.6 798.7 388.9 799.3 389.3 799.5 389.7 799.8 390.0 800.0 390.4 800.2 390.8 800.1 391.1 800.2 391.5 800.2 391.9 800.1 392.2 800.1 392.6 799.3 393.0 798.7 393.3 798.2 393.7 798.3 394.1 798.9 394.4 799.2 394.8 799.8 395.2 800.0 395.5 800.0 395.9 800.1 396.2 800.0 396.6 799.6 397.0 798.6 397.3 797.6 397.7 796.0 398.1 794.1 398.4 791.8 398.8 790.1 399.2 789.6 399.5 790.3 399.9 792.0 400.3 793.8 400.6 795.7 401.0 797.5 401.4 798.7 401.7 799.4 402.1 799.6 402.5 800.0 402.8 800.2 403.2 800.0 403.6 799.7 403.9 798.8 404.3 797.8 404.6 796.2 405.0 794.4 405.4 792.7 405.7 791.9 406.1 792.7 406.5 794.2 406.8 796.1 407.2 797.3 407.6 798.1 407.9 798.1 408.3 797.4 408.7 796.4 409.0 795.3 409.4 794.8 409.8 795.5 410.1 796.7 410.5 797.9 410.8 799.1 411.2 800.1 411.6 800.3 411.9 800.5 412.3 800.7 412.7 800.8 413.0 800.7 413.4 800.6 413.8 800.9 414.1 801.0 414.5 801.1 414.9 800.9 415.2 800.8 415.6 800.7 416.0 800.7 416.3 800.5 416.7 800.7 417.1 800.7 417.4 800.8 417.8 800.9 418.1 800.7 418.5 800.8 418.9 800.6 419.2 800.6 419.6 800.6 420.0 800.4 420.3 799.8 420.7 799.2 421.1 798.3 421.4 797.2 421.8 795.6 422.2 793.9 422.5 792.3 422.9 791.4 423.3 791.9 423.6 793.1 424.0 794.7 424.4 796.3 424.7 797.8 425.1 798.8 425.4 799.3 425.8 799.9 426.2 800.1 426.5 800.3 426.9 800.3 427.3 800.4 427.6 800.6 428.0 800.3 428.4 800.2 428.7 799.6 429.1 799.2 429.5 798.8 429.8 797.9 430.2 797.0 430.6 796.7 430.9 796.6 431.3 796.8 431.7 797.4 432.0 798.1 432.4 799.1 432.8 799.7 433.1 800.1 433.5 800.3 433.8 800.6 434.2 800.6 434.6 800.5 434.9 800.4 435.3 800.3 435.7 800.3 436.0 799.9 436.4 799.8 436.8 799.7 437.1 799.6 437.5 799.7 437.9 799.9 438.2 799.9 438.6 800.2 439.0 800.3 439.3 800.5 439.7 800.7 440.1 800.9 440.4 800.8 440.8 800.9 441.1 801.0 441.5 801.2 441.9 801.3 442.2 801.2 442.6 801.2 443.0 801.3 443.3 801.3 443.7 801.2 444.1 801.2 444.4 801.0 444.8 801.2 445.2 801.3 445.5 801.1 445.9 801.1 446.3 801.2 446.6 801.3 447.0 801.1 447.3 801.1 447.7 801.0 448.1 800.9 448.4 800.6 448.8 800.3 449.2 799.8 449.5 799.1 449.9 799.0 450.3 798.6 450.6 798.2 451.0 798.1 451.4 798.3 451.7 798.6 452.1 799.2 452.5 799.5 452.8 800.0 453.2 800.4 453.6 800.7 453.9 800.9 454.3 800.9 454.6 801.0 455.0 801.0 455.4 801.3 455.7 801.3 456.1 801.2 456.5 801.0 456.8 800.9 457.2 800.9 457.6 800.7 457.9 800.7 458.3 801.0 458.7 801.1 459.0 801.3 459.4 801.3 459.8 801.4 460.1 801.0 460.5 801.0 460.9 800.9 461.2 801.1 461.6 801.0 461.9 801.0 462.3 801.0 462.7 801.0 463.0 801.1 463.4 801.0 463.8 800.9 464.1 800.9 464.5 800.8 464.9 800.7 465.2 800.7 465.6 800.5 466.0 800.2 466.3 800.1 466.7 799.4 467.1 798.3 467.4 797.0 467.8 795.2 468.2 792.9 468.5 790.4 468.9 787.9 469.2 785.9 469.6 785.4 470.0 786.6 470.3 788.7 470.7 791.0 471.1 793.6 471.4 795.8 471.8 797.3 472.2 798.4 472.5 799.1 472.9 799.9 473.3 800.1 473.6 800.3 474.0 800.5 474.4 800.7 474.7 800.7 475.1 800.6 475.5 800.6 475.8 800.4 476.2 800.3 476.6 799.8 476.9 799.4 477.3 798.6 477.6 797.8 478.0 797.3 478.4 796.8 478.7 796.4 479.1 796.5 479.5 797.2 479.8 798.0 480.2 798.9 480.6 799.4 480.9 800.0 481.3 800.3 481.7 800.4 482.0 800.5 482.4 800.7 482.8 800.7 483.1 800.7 483.5 800.8 483.8 800.7 484.2 800.2 484.6 799.9 484.9 799.6 485.3 798.8 485.7 797.5 486.0 795.7 486.4 793.5 486.8 791.2 487.1 789.5 487.5 788.7 487.9 789.5 488.2 791.3 488.6 793.6 489.0 795.7 489.3 797.4 489.7 798.7 490.1 799.4 490.4 800.0 490.8 800.2 491.1 800.4 491.5 800.5 491.9 800.6 492.2 800.7 492.6 800.6 493.0 800.3 493.3 799.9 493.7 799.5 494.1 799.1 494.4 798.8 494.8 798.2 495.2 797.6 495.5 797.2 495.9 797.2 496.3 797.4 496.6 797.8 497.0 798.4 497.4 799.0 497.7 799.3 498.1 799.6 498.4 800.0 498.8 800.2 499.2 800.5 499.5 800.6 499.9 800.6 500.3 800.7 500.6 800.6 501.0 800.7 501.4 800.6 501.7 800.6 502.1 800.6 502.5 800.6 502.8 800.4 503.2 800.1 503.6 799.8 503.9 799.5 504.3 798.8 504.7 798.2 505.0 798.0 505.4 797.9 505.8 798.6 506.1 799.0 506.5 799.4 506.8 799.7 507.2 800.2 507.6 800.4 507.9 800.6 508.3 800.4 508.7 800.7 509.0 800.8 509.4 800.9 509.8 800.9 510.1 800.9 510.5 800.9 510.9 800.8 511.2 800.7 511.6 800.6 512.0 800.4 512.3 799.7 512.7 799.3 513.0 798.1 513.4 796.4 513.8 794.0 514.1 791.8 514.5 789.8 514.9 789.2 515.2 790.4 515.6 792.4 516.0 795.0 516.3 797.0 516.7 798.6 517.1 799.6 517.4 799.9 517.8 800.3 518.2 800.4 518.5 800.5 518.9 800.4 519.3 800.5 519.6 800.4 520.0 800.2 520.3 800.4 520.7 800.1 521.1 799.9 521.4 799.4 521.8 798.7 522.2 798.0 522.5 797.2 522.9 796.5 523.3 796.5 523.6 796.8 524.0 797.4 524.4 798.0 524.7 798.9 525.1 799.7 525.5 800.1 525.8 800.3 526.2 800.6 526.6 800.8 526.9 800.8 527.3 801.0 527.6 801.0 528.0 800.7 528.4 800.9 528.7 800.9 529.1 800.8 529.5 800.7 529.8 800.4 530.2 800.1 530.6 799.8 530.9 799.2 531.3 799.0 531.7 798.3 532.0 797.7 532.4 797.7 532.8 798.1 533.1 798.8 533.5 799.2 533.9 799.4 534.2 800.0 534.6 800.4 535.0 800.5 535.3 800.8 535.7 800.8 536.0 800.9 536.4 801.0 536.8 801.0 537.1 800.8 537.5 801.0 537.9 801.0 538.2 800.7 538.6 800.6 539.0 800.6 539.3 800.5 539.7 800.1 540.1 799.3 540.4 798.7 540.8 798.0 541.2 797.6 541.5 797.4 541.9 797.7 542.2 798.2 542.6 798.9 543.0 799.5 543.3 800.3 543.7 800.3 544.1 800.5 544.4 800.6 544.8 800.6 545.2 800.6 545.5 800.7 545.9 800.9 546.3 800.9 546.6 800.9 547.0 800.8 547.4 800.4 547.7 800.3 548.1 800.0 548.5 799.6 548.8 799.2 549.2 798.6 549.5 798.1 549.9 798.1 550.3 798.2 550.6 798.1 551.0 798.6 551.4 799.1 551.7 799.7 552.1 800.1 552.5 800.5 552.8 800.7 553.2 800.8 553.6 801.0 553.9 801.0 554.3 800.9 554.7 800.8 555.0 800.9 555.4 801.0 555.8 801.0 556.1 801.2 556.5 801.0 556.8 801.0 557.2 801.0 557.6 801.0 557.9 801.0 558.3 800.7 558.7 800.9 559.0 801.1 559.4 801.0 559.8 800.9 560.1 800.8 560.5 800.3 560.9 800.1 561.2 799.8 561.6 799.6 562.0 799.8 562.3 799.9 562.7 799.9 563.1 800.1 563.4 800.3 563.8 800.6 564.1 800.7 564.5 801.0 564.9 800.8 565.2 800.8 565.6 800.9 566.0 801.0 566.3 801.0 566.7 801.1 567.1 801.1 567.4 801.2 567.8 801.0 568.2 801.1 568.5 801.3 568.9 801.3 569.3 801.1 569.6 801.2 570.0 801.4 570.4 801.2 570.7 801.2 571.1 801.1 571.4 801.0 571.8 800.9 572.2 800.6 572.5 800.5 572.9 800.5 573.3 799.7 573.6 798.9 574.0 798.0 574.4 796.6 574.7 795.4 575.1 795.2 575.5 795.5 575.8 796.8 576.2 797.8 576.6 799.0 576.9 799.7 577.3 800.2 577.7 800.6 578.0 800.3 578.4 800.1 578.8 800.0 579.1 800.0 579.5 799.8 579.8 799.7 580.2 799.8 580.6 799.9 580.9 799.7 581.3 799.8 581.7 799.9 582.0 799.9 582.4 800.0 582.8 800.5 583.1 800.3 583.5 800.3 583.9 800.4 584.2 800.5 584.6 800.7 585.0 800.8 585.3 800.7 585.7 800.6 586.0 800.9 586.4 800.6 586.8 800.5 587.1 800.1 587.5 799.8 587.9 799.4 588.2 798.8 588.6 797.9 589.0 797.6 589.3 796.9 589.7 795.8 590.1 794.8 590.4 793.8 590.8 793.2 591.2 793.2 591.5 793.6 591.9 794.0 592.3 794.6 592.6 795.7 593.0 796.4 593.4 797.3 593.7 798.2 594.1 798.9 594.4 799.4 594.8 799.8 595.2 800.1 595.5 800.6 595.9 800.5 596.3 800.4 596.6 800.3 597.0 800.0 597.4 799.6 597.7 799.4 598.1 799.4 598.5 799.1 598.8 798.7 599.2 798.6 599.6 798.7 599.9 798.5 600.3 798.5 600.6 798.3 601.0 798.6 601.4 799.0 601.7 799.4 602.1 799.7 602.5 799.9 602.8 800.1 603.2 800.3 603.6 800.7 603.9 800.7 604.3 800.9 604.7 800.9 605.0 801.0 605.4 801.1 605.8 801.1 606.1 801.1 606.5 801.1 606.9 800.8 607.2 801.0 607.6 800.9 607.9 801.0 608.3 801.2 608.7 801.1 609.0 801.3 609.4 801.3 609.8 801.4 610.1 801.4 610.5 801.3 610.9 801.2 611.2 801.3 611.6 801.2 612.0 801.1 612.3 801.0 612.7 800.9 613.1 800.7 613.4 800.6 613.8 800.6 614.2 800.4 614.5 800.1 614.9 799.6 615.2 799.5 615.6 799.4 616.0 799.3 616.3 799.2 616.7 799.3 617.1 799.6 617.4 799.7 617.8 799.9 618.2 800.1 618.5 800.4 618.9 800.5 619.3 800.3 619.6 800.2 620.0 800.2 620.4 800.2 620.7 799.4 621.1 798.2 621.5 796.8 621.8 794.8 622.2 792.5 622.5 790.3 622.9 789.6 623.3 790.2 623.6 791.6 624.0 792.7 624.4 792.5 624.7 791.3 625.1 789.6 625.5 788.9 625.8 790.1 626.2 792.7 626.6 795.3 626.9 797.1 627.3 798.6 627.7 800.0 628.0 800.4 628.4 800.7 628.8 800.7 629.1 800.8 629.5 801.0 629.9 801.0 630.2 801.0 630.6 800.9 630.9 800.9 631.3 800.9 631.7 801.0 632.0 800.9 632.4 800.8 632.8 801.0 633.1 800.9 633.5 800.9" fill="none" stroke="#6c22d2" stroke-width="1.7" stroke-linejoin="round"/>
<path d="M49.5 859.0 49.9 859.2 50.2 858.9 50.6 859.0 51.0 858.9 51.3 858.8 51.7 859.0 52.1 858.9 52.4 859.1 52.8 858.9 53.1 858.9 53.5 858.7 53.9 858.8 54.2 859.0 54.6 858.9 55.0 859.0 55.3 859.0 55.7 859.2 56.1 859.2 56.4 859.1 56.8 859.1 57.2 859.2 57.5 859.0 57.9 859.1 58.3 859.2 58.6 859.3 59.0 859.5 59.4 859.3 59.7 859.3 60.1 859.1 60.5 859.0 60.8 858.6 61.2 858.7 61.5 858.6 61.9 858.5 62.3 858.4 62.6 858.1 63.0 858.0 63.4 858.1 63.7 858.0 64.1 858.1 64.5 858.3 64.8 858.3 65.2 858.4 65.6 858.3 65.9 858.2 66.3 858.5 66.7 859.0 67.0 859.0 67.4 859.0 67.8 859.0 68.1 859.1 68.5 859.0 68.8 859.1 69.2 859.5 69.6 859.5 69.9 859.2 70.3 859.0 70.7 859.0 71.0 859.1 71.4 859.1 71.8 859.1 72.1 858.9 72.5 859.0 72.9 859.0 73.2 859.0 73.6 859.0 74.0 859.3 74.3 859.0 74.7 858.9 75.0 859.0 75.4 859.0 75.8 858.9 76.1 858.9 76.5 858.8 76.9 858.5 77.2 858.5 77.6 858.6 78.0 858.6 78.3 858.6 78.7 858.7 79.1 859.0 79.4 858.9 79.8 859.0 80.2 859.1 80.5 859.2 80.9 859.2 81.3 858.9 81.6 859.1 82.0 859.3 82.3 859.3 82.7 859.3 83.1 859.4 83.4 859.4 83.8 859.4 84.2 859.2 84.5 859.2 84.9 859.5 85.3 859.4 85.6 859.3 86.0 859.4 86.4 859.4 86.7 859.7 87.1 859.7 87.5 859.6 87.8 859.5 88.2 859.5 88.6 859.5 88.9 859.6 89.3 859.5 89.7 859.4 90.0 859.3 90.4 859.5 90.7 859.6 91.1 859.5 91.5 859.4 91.8 859.3 92.2 859.6 92.6 859.4 92.9 859.3 93.3 859.4 93.7 859.7 94.0 859.7 94.4 859.8 94.8 859.8 95.1 859.7 95.5 859.7 95.9 859.6 96.2 859.6 96.6 859.8 96.9 860.0 97.3 860.1 97.7 860.0 98.0 859.9 98.4 859.9 98.8 859.8 99.1 860.1 99.5 860.0 99.9 859.9 100.2 859.8 100.6 859.7 101.0 859.9 101.3 860.0 101.7 859.9 102.1 860.1 102.4 860.2 102.8 860.1 103.2 860.1 103.5 859.8 103.9 859.9 104.2 859.9 104.6 859.8 105.0 860.0 105.3 859.9 105.7 859.8 106.1 859.7 106.4 859.6 106.8 859.7 107.2 859.5 107.5 859.7 107.9 859.5 108.3 859.7 108.6 859.9 109.0 859.9 109.4 860.0 109.7 859.8 110.1 859.7 110.5 859.7 110.8 859.8 111.2 859.7 111.5 859.7 111.9 859.5 112.3 859.5 112.6 859.7 113.0 859.8 113.4 860.0 113.7 859.8 114.1 859.9 114.5 859.7 114.8 859.7 115.2 860.1 115.6 860.3 115.9 860.0 116.3 860.0 116.7 859.8 117.0 860.0 117.4 859.9 117.8 860.1 118.1 859.9 118.5 859.6 118.8 859.7 119.2 859.8 119.6 859.5 119.9 859.8 120.3 859.8 120.7 860.0 121.0 859.9 121.4 859.9 121.8 859.8 122.1 859.9 122.5 860.0 122.9 860.1 123.2 859.9 123.6 859.8 124.0 859.7 124.3 859.9 124.7 860.0 125.1 859.8 125.4 859.8 125.8 860.0 126.1 860.0 126.5 859.8 126.9 859.7 127.2 859.7 127.6 859.6 128.0 859.4 128.3 859.7 128.7 860.0 129.1 859.7 129.4 859.9 129.8 859.7 130.2 859.7 130.5 859.9 130.9 859.9 131.3 859.8 131.6 859.7 132.0 859.8 132.4 859.9 132.7 860.0 133.1 859.9 133.4 859.8 133.8 859.6 134.2 859.8 134.5 860.0 134.9 860.2 135.3 859.8 135.6 859.7 136.0 859.7 136.4 859.8 136.7 859.8 137.1 859.9 137.5 860.0 137.8 860.1 138.2 860.1 138.6 860.2 138.9 860.1 139.3 860.2 139.7 860.2 140.0 860.0 140.4 860.1 140.8 859.8 141.1 859.9 141.5 860.0 141.8 860.0 142.2 860.0 142.6 859.9 142.9 859.9 143.3 860.0 143.7 859.8 144.0 859.9 144.4 860.1 144.8 860.1 145.1 860.1 145.5 860.2 145.9 860.0 146.2 860.2 146.6 860.1 147.0 859.9 147.3 860.1 147.7 860.2 148.1 859.9 148.4 860.0 148.8 860.1 149.1 860.0 149.5 859.9 149.9 859.9 150.2 859.9 150.6 860.1 151.0 860.2 151.3 860.3 151.7 860.1 152.1 860.2 152.4 860.2 152.8 860.1 153.2 860.1 153.5 860.2 153.9 860.2 154.3 860.2 154.6 860.0 155.0 859.9 155.3 859.8 155.7 859.6 156.1 859.8 156.4 859.8 156.8 859.8 157.2 859.8 157.5 860.1 157.9 860.0 158.3 860.0 158.6 860.2 159.0 860.2 159.4 859.9 159.7 859.9 160.1 859.9 160.5 859.9 160.8 860.0 161.2 860.2 161.6 860.2 161.9 860.1 162.3 860.1 162.6 860.0 163.0 859.9 163.4 860.0 163.7 860.2 164.1 860.1 164.5 860.2 164.8 860.3 165.2 860.1 165.6 860.0 165.9 860.0 166.3 860.1 166.7 860.3 167.0 860.2 167.4 859.9 167.8 859.6 168.1 859.5 168.5 859.4 168.9 859.1 169.2 859.0 169.6 859.4 169.9 859.7 170.3 859.9 170.7 859.8 171.0 860.0 171.4 859.9 171.8 859.9 172.1 860.0 172.5 860.1 172.9 860.1 173.2 859.9 173.6 860.1 174.0 860.0 174.3 860.2 174.7 860.0 175.1 860.0 175.4 860.2 175.8 860.3 176.2 860.3 176.5 860.1 176.9 860.1 177.2 860.1 177.6 860.0 178.0 860.1 178.3 860.2 178.7 860.2 179.1 860.1 179.4 860.2 179.8 860.2 180.2 860.1 180.5 860.0 180.9 860.3 181.3 860.2 181.6 860.3 182.0 860.2 182.4 860.2 182.7 860.4 183.1 860.3 183.5 860.3 183.8 860.1 184.2 860.0 184.5 860.2 184.9 859.9 185.3 859.7 185.6 859.7 186.0 859.5 186.4 859.3 186.7 858.8 187.1 859.0 187.5 859.3 187.8 859.5 188.2 859.6 188.6 859.9 188.9 859.9 189.3 859.9 189.7 860.1 190.0 860.2 190.4 860.2 190.8 860.2 191.1 859.8 191.5 859.9 191.8 860.1 192.2 859.9 192.6 859.9 192.9 860.1 193.3 860.0 193.7 860.2 194.0 860.0 194.4 860.1 194.8 860.1 195.1 860.1 195.5 860.1 195.9 860.0 196.2 860.1 196.6 860.1 197.0 860.2 197.3 860.2 197.7 860.0 198.1 860.3 198.4 860.0 198.8 860.3 199.2 860.1 199.5 860.0 199.9 859.8 200.2 860.1 200.6 860.2 201.0 859.9 201.3 860.0 201.7 859.8 202.1 859.9 202.4 859.8 202.8 859.8 203.2 859.2 203.5 858.5 203.9 857.7 204.3 857.5 204.6 857.8 205.0 858.6 205.4 859.0 205.7 859.4 206.1 859.7 206.4 859.8 206.8 859.6 207.2 859.2 207.5 858.3 207.9 856.8 208.3 855.5 208.6 854.8 209.0 855.5 209.4 856.9 209.7 858.1 210.1 858.9 210.5 859.5 210.8 859.5 211.2 859.8 211.6 860.0 211.9 860.1 212.3 860.2 212.7 860.3 213.0 860.0 213.4 859.8 213.8 860.1 214.1 860.0 214.5 860.1 214.8 860.3 215.2 860.1 215.6 860.2 215.9 860.2 216.3 860.0 216.7 860.2 217.0 860.1 217.4 859.9 217.8 859.9 218.1 859.6 218.5 859.5 218.9 859.4 219.2 859.4 219.6 859.2 220.0 859.0 220.3 858.7 220.7 858.7 221.0 858.3 221.4 858.5 221.8 858.6 222.1 859.0 222.5 859.2 222.9 859.3 223.2 859.4 223.6 859.6 224.0 859.7 224.3 859.9 224.7 859.9 225.1 860.0 225.4 860.1 225.8 859.8 226.2 859.9 226.5 859.8 226.9 860.0 227.3 860.0 227.6 860.1 228.0 860.2 228.3 860.4 228.7 860.0 229.1 860.0 229.4 859.9 229.8 860.2 230.2 860.3 230.5 860.1 230.9 860.2 231.3 859.9 231.6 859.8 232.0 859.4 232.4 859.8 232.7 859.7 233.1 859.5 233.5 859.4 233.8 859.4 234.2 859.3 234.6 859.4 234.9 858.9 235.3 858.6 235.7 858.5 236.0 858.3 236.4 857.9 236.7 857.6 237.1 857.5 237.5 857.3 237.8 857.3 238.2 857.6 238.6 858.2 238.9 858.4 239.3 858.8 239.7 859.0 240.0 859.2 240.4 859.5 240.8 859.6 241.1 859.6 241.5 859.5 241.9 859.7 242.2 859.8 242.6 859.8 242.9 859.7 243.3 859.7 243.7 859.6 244.0 859.7 244.4 859.8 244.8 859.7 245.1 859.9 245.5 860.2 245.9 860.0 246.2 860.0 246.6 859.9 247.0 859.8 247.3 859.7 247.7 859.4 248.1 859.3 248.4 859.4 248.8 859.5 249.2 859.2 249.5 858.6 249.9 858.4 250.2 857.8 250.6 857.5 251.0 857.0 251.3 856.7 251.7 856.6 252.1 856.5 252.4 856.1 252.8 856.1 253.2 856.2 253.5 856.5 253.9 856.8 254.3 856.9 254.6 857.5 255.0 857.9 255.4 858.1 255.7 858.5 256.1 858.8 256.5 859.2 256.8 859.5 257.2 859.6 257.5 859.7 257.9 859.6 258.3 859.7 258.6 859.9 259.0 859.9 259.4 859.7 259.7 859.8 260.1 859.9 260.5 859.9 260.8 859.9 261.2 860.0 261.6 859.8 261.9 860.2 262.3 860.0 262.7 860.0 263.0 860.1 263.4 859.8 263.8 859.7 264.1 859.7 264.5 859.7 264.9 859.5 265.2 859.2 265.6 858.7 265.9 858.3 266.3 858.6 266.7 858.7 267.0 858.9 267.4 858.8 267.8 859.2 268.1 859.5 268.5 859.6 268.9 860.1 269.2 860.1 269.6 860.1 270.0 860.1 270.3 860.1 270.7 860.3 271.1 860.5 271.4 860.1 271.8 860.3 272.1 860.2 272.5 860.1 272.9 859.9 273.2 859.9 273.6 860.0 274.0 860.1 274.3 860.1 274.7 860.2 275.1 860.2 275.4 860.1 275.8 860.1 276.2 859.9 276.5 860.1 276.9 860.3 277.3 860.2 277.6 860.0 278.0 860.1 278.4 860.1 278.7 859.9 279.1 859.9 279.4 860.0 279.8 860.2 280.2 860.0 280.5 860.2 280.9 860.2 281.3 860.3 281.6 860.0 282.0 859.9 282.4 860.0 282.7 860.1 283.1 860.0 283.5 860.0 283.8 860.1 284.2 860.2 284.6 860.0 284.9 859.8 285.3 859.9 285.7 859.9 286.0 860.1 286.4 859.9 286.8 860.1 287.1 860.2 287.5 860.0 287.8 860.1 288.2 860.1 288.6 860.2 288.9 860.1 289.3 860.0 289.7 860.2 290.0 860.0 290.4 859.9 290.8 860.1 291.1 859.7 291.5 859.3 291.9 858.8 292.2 858.1 292.6 857.0 293.0 855.7 293.3 855.0 293.7 855.5 294.0 856.8 294.4 857.9 294.8 859.0 295.1 859.4 295.5 859.7 295.9 859.9 296.2 859.8 296.6 859.8 297.0 859.8 297.3 859.8 297.7 860.1 298.1 860.0 298.4 859.9 298.8 859.9 299.2 860.1 299.5 860.2 299.9 860.0 300.3 860.1 300.6 860.3 301.0 860.0 301.4 860.2 301.7 860.0 302.1 859.9 302.4 859.7 302.8 859.8 303.2 859.7 303.5 859.6 303.9 859.4 304.3 859.2 304.6 859.2 305.0 858.5 305.4 857.3 305.7 855.7 306.1 853.8 306.5 853.1 306.8 854.0 307.2 855.7 307.6 857.4 307.9 858.6 308.3 859.3 308.6 859.7 309.0 859.9 309.4 859.8 309.7 859.6 310.1 859.7 310.5 859.8 310.8 859.7 311.2 859.7 311.6 859.4 311.9 859.6 312.3 859.5 312.7 859.9 313.0 859.7 313.4 859.7 313.8 859.7 314.1 859.6 314.5 859.7 314.9 859.5 315.2 859.0 315.6 858.6 315.9 858.6 316.3 858.2 316.7 857.6 317.0 856.4 317.4 853.6 317.8 848.5 318.1 840.3 318.5 830.2 318.9 822.9 319.2 823.6 319.6 831.9 320.0 841.5 320.3 849.3 320.7 854.1 321.1 856.7 321.4 857.5 321.8 857.9 322.2 858.5 322.5 858.6 322.9 858.8 323.2 859.1 323.6 858.8 324.0 859.0 324.3 858.7 324.7 858.4 325.1 857.7 325.4 856.8 325.8 856.0 326.2 855.2 326.5 855.3 326.9 856.0 327.3 856.9 327.6 857.6 328.0 857.7 328.4 857.5 328.7 857.0 329.1 856.0 329.5 853.4 329.8 848.2 330.2 839.4 330.6 826.5 330.9 813.3 331.3 806.9 331.6 813.1 332.0 826.1 332.4 838.7 332.7 847.6 333.1 852.8 333.5 855.1 333.8 855.8 334.2 855.9 334.6 855.9 334.9 854.8 335.3 852.3 335.7 847.5 336.0 838.6 336.4 825.8 336.8 812.4 337.1 806.1 337.5 812.5 337.8 825.9 338.2 838.8 338.6 847.7 338.9 852.7 339.3 855.4 339.7 856.5 340.0 857.1 340.4 857.3 340.8 857.4 341.1 857.1 341.5 856.6 341.9 855.0 342.2 852.1 342.6 846.5 343.0 838.2 343.3 829.8 343.7 825.7 344.1 829.8 344.4 838.3 344.8 846.2 345.1 852.3 345.5 855.7 345.9 857.3 346.2 858.0 346.6 858.5 347.0 858.7 347.3 859.0 347.7 859.0 348.1 859.2 348.4 859.2 348.8 859.2 349.2 859.3 349.5 859.4 349.9 859.3 350.3 859.5 350.6 859.4 351.0 859.4 351.4 859.2 351.7 858.9 352.1 858.8 352.4 858.4 352.8 857.9 353.2 857.0 353.5 856.0 353.9 854.7 354.3 853.6 354.6 852.6 355.0 852.3 355.4 852.6 355.7 853.2 356.1 854.3 356.5 855.2 356.8 856.4 357.2 857.3 357.6 857.8 357.9 858.3 358.3 858.3 358.7 858.5 359.0 858.2 359.4 858.2 359.8 858.0 360.1 857.7 360.5 857.6 360.8 857.3 361.2 856.5 361.6 856.4 361.9 856.2 362.3 856.4 362.7 856.4 363.0 856.5 363.4 856.9 363.8 857.1 364.1 857.5 364.5 857.7 364.9 857.6 365.2 857.5 365.6 857.5 366.0 857.4 366.3 857.2 366.7 857.2 367.1 857.1 367.4 857.2 367.8 857.3 368.1 857.7 368.5 857.7 368.9 857.8 369.2 858.4 369.6 858.7 370.0 858.9 370.3 859.3 370.7 859.2 371.1 859.4 371.4 859.6 371.8 859.5 372.2 859.5 372.5 859.3 372.9 859.4 373.3 859.5 373.6 859.5 374.0 859.4 374.3 859.4 374.7 859.3 375.1 858.9 375.4 858.8 375.8 858.8 376.2 858.6 376.5 858.3 376.9 857.6 377.3 857.4 377.6 856.7 378.0 856.2 378.4 855.9 378.7 855.8 379.1 855.7 379.5 855.3 379.8 855.0 380.2 854.5 380.6 854.3 380.9 853.7 381.3 852.8 381.6 852.1 382.0 851.2 382.4 850.3 382.7 849.2 383.1 848.4 383.5 847.9 383.8 847.6 384.2 847.4 384.6 847.9 384.9 848.8 385.3 849.9 385.7 850.8 386.0 852.1 386.4 853.1 386.8 854.3 387.1 855.2 387.5 856.4 387.9 857.1 388.2 857.9 388.6 858.1 388.9 858.3 389.3 858.7 389.7 859.0 390.0 859.2 390.4 859.2 390.8 859.1 391.1 859.0 391.5 859.2 391.9 859.1 392.2 859.1 392.6 858.5 393.0 858.3 393.3 857.8 393.7 857.9 394.1 858.2 394.4 858.6 394.8 858.9 395.2 859.1 395.5 859.1 395.9 859.1 396.2 859.0 396.6 858.7 397.0 858.4 397.3 857.5 397.7 856.2 398.1 854.4 398.4 852.8 398.8 850.5 399.2 849.1 399.5 848.9 399.9 849.9 400.3 851.6 400.6 853.5 401.0 855.1 401.4 856.4 401.7 857.5 402.1 858.3 402.5 858.4 402.8 858.4 403.2 858.0 403.6 857.7 403.9 857.0 404.3 855.7 404.6 853.7 405.0 850.8 405.4 847.7 405.7 844.7 406.1 843.2 406.5 843.9 406.8 846.2 407.2 849.3 407.6 852.0 407.9 853.9 408.3 855.0 408.7 855.5 409.0 855.3 409.4 854.9 409.8 854.3 410.1 854.2 410.5 854.7 410.8 855.5 411.2 856.5 411.6 857.1 411.9 857.7 412.3 858.3 412.7 858.8 413.0 859.0 413.4 859.4 413.8 859.7 414.1 859.8 414.5 859.7 414.9 859.8 415.2 859.7 415.6 859.6 416.0 859.5 416.3 859.6 416.7 859.6 417.1 859.6 417.4 859.4 417.8 859.6 418.1 859.5 418.5 859.5 418.9 859.5 419.2 859.4 419.6 859.4 420.0 859.0 420.3 858.5 420.7 858.2 421.1 856.9 421.4 855.5 421.8 854.1 422.2 852.2 422.5 850.5 422.9 848.7 423.3 848.1 423.6 848.6 424.0 850.4 424.4 852.3 424.7 854.2 425.1 855.8 425.4 857.1 425.8 858.0 426.2 858.5 426.5 858.8 426.9 859.0 427.3 858.9 427.6 859.0 428.0 859.0 428.4 858.9 428.7 858.7 429.1 858.3 429.5 857.6 429.8 857.0 430.2 856.3 430.6 855.5 430.9 855.3 431.3 855.8 431.7 856.4 432.0 857.0 432.4 857.7 432.8 858.3 433.1 858.7 433.5 858.7 433.8 858.9 434.2 858.9 434.6 858.7 434.9 858.8 435.3 858.6 435.7 858.2 436.0 858.0 436.4 857.6 436.8 857.6 437.1 857.6 437.5 857.7 437.9 857.9 438.2 858.2 438.6 858.6 439.0 858.7 439.3 858.9 439.7 859.0 440.1 859.3 440.4 859.4 440.8 859.3 441.1 859.7 441.5 859.6 441.9 859.7 442.2 859.9 442.6 860.1 443.0 859.9 443.3 860.0 443.7 859.9 444.1 860.0 444.4 859.8 444.8 860.0 445.2 860.0 445.5 859.8 445.9 859.7 446.3 859.9 446.6 859.7 447.0 859.7 447.3 859.8 447.7 859.7 448.1 859.8 448.4 859.5 448.8 859.1 449.2 858.8 449.5 858.6 449.9 858.0 450.3 857.7 450.6 857.6 451.0 857.7 451.4 857.8 451.7 858.3 452.1 858.7 452.5 858.9 452.8 859.1 453.2 859.3 453.6 859.4 453.9 859.9 454.3 860.0 454.6 860.0 455.0 859.8 455.4 859.8 455.7 859.8 456.1 860.1 456.5 860.0 456.8 860.0 457.2 859.9 457.6 859.9 457.9 859.9 458.3 859.8 458.7 859.9 459.0 859.9 459.4 859.9 459.8 860.1 460.1 859.9 460.5 860.0 460.9 859.8 461.2 859.7 461.6 860.0 461.9 860.1 462.3 859.6 462.7 859.6 463.0 859.6 463.4 859.7 463.8 859.8 464.1 859.7 464.5 859.5 464.9 859.2 465.2 859.2 465.6 858.9 466.0 858.6 466.3 858.4 466.7 857.6 467.1 856.7 467.4 855.1 467.8 852.8 468.2 850.0 468.5 847.1 468.9 843.9 469.2 841.6 469.6 840.8 470.0 842.4 470.3 845.1 470.7 848.1 471.1 851.3 471.4 853.7 471.8 855.6 472.2 856.8 472.5 857.9 472.9 858.4 473.3 858.7 473.6 859.2 474.0 859.3 474.4 859.5 474.7 859.5 475.1 859.5 475.5 859.5 475.8 859.4 476.2 859.4 476.6 859.0 476.9 859.1 477.3 858.9 477.6 858.4 478.0 857.8 478.4 857.4 478.7 856.8 479.1 856.1 479.5 856.2 479.8 856.4 480.2 856.8 480.6 857.4 480.9 858.1 481.3 858.4 481.7 858.8 482.0 859.2 482.4 859.3 482.8 859.4 483.1 859.5 483.5 859.6 483.8 859.5 484.2 859.7 484.6 859.8 484.9 859.5 485.3 859.2 485.7 858.5 486.0 857.7 486.4 856.4 486.8 854.5 487.1 852.2 487.5 849.6 487.9 848.0 488.2 847.9 488.6 849.6 489.0 851.9 489.3 853.9 489.7 855.9 490.1 857.4 490.4 858.2 490.8 858.7 491.1 858.9 491.5 859.0 491.9 859.1 492.2 859.1 492.6 859.1 493.0 858.7 493.3 858.6 493.7 858.3 494.1 857.9 494.4 857.6 494.8 857.5 495.2 857.2 495.5 857.0 495.9 856.9 496.3 856.7 496.6 856.8 497.0 856.9 497.4 857.3 497.7 857.8 498.1 858.2 498.4 858.6 498.8 858.9 499.2 859.3 499.5 859.3 499.9 859.5 500.3 859.6 500.6 859.4 501.0 859.4 501.4 859.8 501.7 859.7 502.1 859.9 502.5 859.7 502.8 859.9 503.2 860.0 503.6 860.1 503.9 860.0 504.3 860.1 504.7 860.1 505.0 860.0 505.4 860.0 505.8 860.2 506.1 860.4 506.5 860.2 506.8 860.1 507.2 859.9 507.6 859.9 507.9 860.1 508.3 859.8 508.7 860.0 509.0 860.0 509.4 860.0 509.8 860.0 510.1 860.0 510.5 859.7 510.9 860.0 511.2 859.7 511.6 859.6 512.0 859.4 512.3 859.4 512.7 859.4 513.0 858.7 513.4 857.5 513.8 855.9 514.1 853.9 514.5 851.4 514.9 849.3 515.2 848.3 515.6 849.1 516.0 851.2 516.3 853.8 516.7 855.7 517.1 857.3 517.4 858.3 517.8 859.0 518.2 859.1 518.5 859.3 518.9 859.6 519.3 859.6 519.6 859.7 520.0 859.4 520.3 859.4 520.7 859.6 521.1 859.2 521.4 859.3 521.8 859.0 522.2 858.5 522.5 857.8 522.9 857.2 523.3 856.4 523.6 855.8 524.0 855.5 524.4 855.6 524.7 856.1 525.1 857.0 525.5 857.6 525.8 858.2 526.2 858.7 526.6 859.3 526.9 859.4 527.3 859.5 527.6 859.4 528.0 859.4 528.4 859.4 528.7 859.8 529.1 859.9 529.5 859.9 529.8 859.6 530.2 859.3 530.6 859.0 530.9 858.6 531.3 858.3 531.7 857.5 532.0 856.9 532.4 856.4 532.8 856.0 533.1 856.3 533.5 856.7 533.9 857.5 534.2 858.1 534.6 858.5 535.0 859.1 535.3 859.3 535.7 859.6 536.0 859.7 536.4 859.9 536.8 860.1 537.1 859.9 537.5 860.1 537.9 859.9 538.2 859.7 538.6 859.7 539.0 859.4 539.3 859.1 539.7 858.5 540.1 857.9 540.4 857.3 540.8 856.5 541.2 855.8 541.5 855.6 541.9 856.0 542.2 856.5 542.6 857.2 543.0 857.9 543.3 858.5 543.7 858.8 544.1 859.1 544.4 859.4 544.8 859.3 545.2 859.3 545.5 859.5 545.9 859.7 546.3 859.5 546.6 859.6 547.0 859.4 547.4 859.2 547.7 858.9 548.1 858.4 548.5 857.8 548.8 856.8 549.2 856.0 549.5 855.2 549.9 854.6 550.3 854.5 550.6 854.7 551.0 855.1 551.4 855.8 551.7 856.8 552.1 857.7 552.5 858.2 552.8 858.8 553.2 859.1 553.6 859.4 553.9 859.4 554.3 859.7 554.7 859.7 555.0 859.6 555.4 859.6 555.8 859.6 556.1 859.7 556.5 859.5 556.8 859.4 557.2 859.1 557.6 859.2 557.9 859.1 558.3 858.9 558.7 858.6 559.0 858.6 559.4 859.0 559.8 859.0 560.1 858.9 560.5 858.9 560.9 859.0 561.2 859.2 561.6 859.4 562.0 859.5 562.3 859.7 562.7 859.6 563.1 859.4 563.4 859.7 563.8 859.7 564.1 859.8 564.5 860.3 564.9 860.2 565.2 860.2 565.6 860.2 566.0 860.3 566.3 860.0 566.7 860.2 567.1 860.3 567.4 860.0 567.8 860.1 568.2 860.1 568.5 860.2 568.9 860.1 569.3 860.1 569.6 860.1 570.0 860.1 570.4 860.1 570.7 860.1 571.1 860.0 571.4 859.9 571.8 859.7 572.2 859.8 572.5 859.6 572.9 859.5 573.3 859.4 573.6 859.0 574.0 858.6 574.4 858.1 574.7 857.3 575.1 856.7 575.5 856.3 575.8 856.2 576.2 856.6 576.6 857.1 576.9 857.6 577.3 858.3 577.7 858.7 578.0 859.0 578.4 859.2 578.8 859.3 579.1 859.4 579.5 859.5 579.8 859.3 580.2 859.2 580.6 859.1 580.9 859.0 581.3 858.9 581.7 858.9 582.0 858.7 582.4 858.7 582.8 858.7 583.1 858.5 583.5 858.6 583.9 858.6 584.2 858.3 584.6 858.2 585.0 858.3 585.3 858.2 585.7 858.3 586.0 858.3 586.4 858.2 586.8 858.2 587.1 858.3 587.5 858.5 587.9 858.5 588.2 858.6 588.6 858.6 589.0 858.5 589.3 858.4 589.7 857.9 590.1 857.1 590.4 856.2 590.8 855.1 591.2 853.8 591.5 853.4 591.9 853.7 592.3 854.8 592.6 856.0 593.0 857.4 593.4 858.3 593.7 858.9 594.1 858.9 594.4 858.9 594.8 859.0 595.2 859.0 595.5 859.1 595.9 859.1 596.3 858.9 596.6 858.9 597.0 859.0 597.4 858.7 597.7 858.7 598.1 858.7 598.5 858.7 598.8 858.7 599.2 858.6 599.6 858.7 599.9 858.9 600.3 859.0 600.6 859.1 601.0 859.2 601.4 859.4 601.7 859.3 602.1 859.3 602.5 859.4 602.8 859.5 603.2 859.8 603.6 859.9 603.9 860.0 604.3 859.9 604.7 860.0 605.0 860.0 605.4 859.7 605.8 859.9 606.1 859.8 606.5 860.1 606.9 859.9 607.2 860.0 607.6 859.8 607.9 859.7 608.3 859.6 608.7 859.9 609.0 859.8 609.4 859.7 609.8 860.0 610.1 860.1 610.5 860.0 610.9 860.1 611.2 859.9 611.6 860.0 612.0 859.9 612.3 859.8 612.7 859.7 613.1 859.7 613.4 859.7 613.8 859.5 614.2 859.2 614.5 858.9 614.9 858.4 615.2 858.1 615.6 857.7 616.0 857.4 616.3 857.3 616.7 857.0 617.1 857.2 617.4 857.4 617.8 857.9 618.2 858.3 618.5 858.5 618.9 858.9 619.3 858.8 619.6 858.8 620.0 859.0 620.4 858.4 620.7 857.9 621.1 857.0 621.5 855.2 621.8 853.0 622.2 850.7 622.5 848.6 622.9 847.5 623.3 847.8 623.6 848.4 624.0 848.3 624.4 847.5 624.7 845.3 625.1 842.7 625.5 841.0 625.8 841.6 626.2 844.4 626.6 848.0 626.9 851.1 627.3 853.8 627.7 855.9 628.0 857.5 628.4 858.4 628.8 858.5 629.1 858.9 629.5 859.0 629.9 859.2 630.2 859.5 630.6 859.6 630.9 859.6 631.3 859.8 631.7 859.8 632.0 859.9 632.4 859.9 632.8 860.0 633.1 860.0 633.5 859.7" fill="none" stroke="#20a9f2" stroke-width="1.7" stroke-linejoin="round"/>
<path d="M49.5 918.2 49.9 918.7 50.2 918.6 50.6 918.5 51.0 918.4 51.3 918.4 51.7 918.4 52.1 918.2 52.4 918.2 52.8 918.3 53.1 918.1 53.5 918.4 53.9 918.5 54.2 918.5 54.6 918.5 55.0 918.4 55.3 918.4 55.7 918.5 56.1 918.6 56.4 918.6 56.8 918.5 57.2 918.6 57.5 918.3 57.9 918.5 58.3 918.5 58.6 918.4 59.0 918.7 59.4 918.6 59.7 918.6 60.1 918.7 60.5 918.5 60.8 918.2 61.2 918.2 61.5 918.3 61.9 918.4 62.3 918.0 62.6 917.9 63.0 917.9 63.4 917.9 63.7 917.6 64.1 917.8 64.5 917.8 64.8 917.8 65.2 917.9 65.6 917.7 65.9 918.1 66.3 918.0 66.7 918.2 67.0 918.4 67.4 918.5 67.8 918.6 68.1 918.6 68.5 918.7 68.8 918.4 69.2 918.4 69.6 918.4 69.9 918.5 70.3 918.6 70.7 918.4 71.0 918.4 71.4 918.4 71.8 918.3 72.1 918.4 72.5 918.3 72.9 918.5 73.2 918.5 73.6 918.5 74.0 918.3 74.3 918.2 74.7 918.3 75.0 918.0 75.4 918.3 75.8 918.3 76.1 918.0 76.5 917.9 76.9 917.7 77.2 918.1 77.6 918.0 78.0 918.1 78.3 918.3 78.7 918.3 79.1 918.6 79.4 918.6 79.8 918.6 80.2 918.7 80.5 918.4 80.9 918.6 81.3 918.4 81.6 918.8 82.0 918.8 82.3 918.8 82.7 918.8 83.1 918.8 83.4 918.6 83.8 918.6 84.2 918.5 84.5 918.6 84.9 918.7 85.3 918.9 85.6 918.8 86.0 918.8 86.4 918.8 86.7 918.7 87.1 918.9 87.5 918.9 87.8 919.0 88.2 918.9 88.6 919.1 88.9 919.2 89.3 918.9 89.7 918.9 90.0 919.1 90.4 919.2 90.7 919.0 91.1 918.9 91.5 918.9 91.8 918.8 92.2 918.9 92.6 919.0 92.9 919.0 93.3 918.8 93.7 918.7 94.0 918.9 94.4 919.0 94.8 918.8 95.1 919.0 95.5 918.8 95.9 919.1 96.2 919.4 96.6 919.5 96.9 919.3 97.3 919.3 97.7 919.1 98.0 919.0 98.4 919.2 98.8 919.2 99.1 919.1 99.5 919.2 99.9 919.1 100.2 919.0 100.6 919.0 101.0 918.9 101.3 919.3 101.7 919.3 102.1 919.2 102.4 919.4 102.8 919.3 103.2 919.5 103.5 919.4 103.9 919.5 104.2 919.5 104.6 919.1 105.0 919.2 105.3 919.4 105.7 919.1 106.1 919.0 106.4 919.2 106.8 919.0 107.2 919.1 107.5 918.9 107.9 918.9 108.3 919.2 108.6 919.1 109.0 919.2 109.4 919.3 109.7 919.5 110.1 919.3 110.5 919.4 110.8 919.4 111.2 919.3 111.5 919.2 111.9 919.2 112.3 919.0 112.6 919.1 113.0 919.1 113.4 919.2 113.7 918.9 114.1 919.1 114.5 919.3 114.8 919.3 115.2 919.6 115.6 919.3 115.9 919.3 116.3 919.3 116.7 919.2 117.0 919.1 117.4 919.2 117.8 919.1 118.1 919.2 118.5 919.3 118.8 919.6 119.2 919.8 119.6 919.7 119.9 919.6 120.3 919.5 120.7 919.3 121.0 919.3 121.4 919.4 121.8 919.4 122.1 919.3 122.5 919.4 122.9 919.3 123.2 919.1 123.6 919.4 124.0 919.4 124.3 919.3 124.7 919.3 125.1 919.4 125.4 919.2 125.8 919.3 126.1 919.3 126.5 919.2 126.9 919.2 127.2 919.2 127.6 919.3 128.0 919.1 128.3 919.2 128.7 919.1 129.1 919.3 129.4 919.2 129.8 919.2 130.2 919.3 130.5 919.1 130.9 918.9 131.3 919.0 131.6 918.9 132.0 919.1 132.4 918.9 132.7 919.1 133.1 919.3 133.4 919.3 133.8 919.1 134.2 919.4 134.5 919.6 134.9 919.5 135.3 919.3 135.6 919.3 136.0 919.2 136.4 919.1 136.7 919.4 137.1 919.2 137.5 919.2 137.8 919.1 138.2 919.1 138.6 919.2 138.9 919.3 139.3 919.2 139.7 919.3 140.0 919.2 140.4 919.3 140.8 919.3 141.1 919.3 141.5 919.2 141.8 919.0 142.2 919.2 142.6 919.4 142.9 919.5 143.3 919.5 143.7 919.4 144.0 919.4 144.4 919.4 144.8 918.9 145.1 919.2 145.5 919.1 145.9 919.3 146.2 919.3 146.6 919.2 147.0 919.2 147.3 919.5 147.7 919.6 148.1 919.4 148.4 919.3 148.8 919.2 149.1 919.2 149.5 919.2 149.9 919.0 150.2 919.0 150.6 919.0 151.0 919.1 151.3 919.0 151.7 919.3 152.1 919.2 152.4 919.3 152.8 919.2 153.2 919.3 153.5 919.4 153.9 919.4 154.3 919.5 154.6 919.3 155.0 919.0 155.3 919.4 155.7 919.3 156.1 919.2 156.4 919.1 156.8 919.0 157.2 919.1 157.5 919.0 157.9 919.0 158.3 919.0 158.6 919.1 159.0 919.1 159.4 919.3 159.7 919.3 160.1 919.2 160.5 919.0 160.8 919.0 161.2 919.1 161.6 919.2 161.9 919.2 162.3 919.2 162.6 919.5 163.0 919.5 163.4 919.3 163.7 919.4 164.1 919.3 164.5 919.0 164.8 919.2 165.2 919.4 165.6 919.2 165.9 919.1 166.3 919.0 166.7 918.9 167.0 918.7 167.4 918.6 167.8 918.5 168.1 918.6 168.5 918.4 168.9 918.2 169.2 918.2 169.6 918.2 169.9 918.7 170.3 918.9 170.7 919.2 171.0 919.2 171.4 919.3 171.8 919.2 172.1 919.5 172.5 919.4 172.9 919.6 173.2 919.4 173.6 919.2 174.0 919.3 174.3 919.0 174.7 919.3 175.1 919.2 175.4 919.3 175.8 919.3 176.2 919.2 176.5 919.4 176.9 919.2 177.2 919.0 177.6 919.0 178.0 918.8 178.3 919.1 178.7 919.2 179.1 919.2 179.4 919.1 179.8 918.9 180.2 919.1 180.5 919.0 180.9 919.2 181.3 919.2 181.6 918.9 182.0 919.0 182.4 919.1 182.7 919.0 183.1 918.9 183.5 919.0 183.8 919.2 184.2 918.9 184.5 919.0 184.9 918.9 185.3 919.0 185.6 918.8 186.0 918.4 186.4 918.3 186.7 918.0 187.1 918.2 187.5 918.4 187.8 918.8 188.2 918.9 188.6 919.0 188.9 919.2 189.3 919.1 189.7 919.1 190.0 919.1 190.4 919.0 190.8 919.0 191.1 919.1 191.5 919.2 191.8 919.0 192.2 919.0 192.6 919.0 192.9 919.0 193.3 919.0 193.7 919.3 194.0 919.4 194.4 919.2 194.8 919.2 195.1 919.4 195.5 919.1 195.9 919.0 196.2 918.9 196.6 918.7 197.0 918.6 197.3 918.7 197.7 918.7 198.1 919.1 198.4 919.2 198.8 919.0 199.2 919.1 199.5 919.0 199.9 919.1 200.2 919.2 200.6 919.4 201.0 919.1 201.3 919.3 201.7 919.2 202.1 919.2 202.4 919.1 202.8 918.7 203.2 918.4 203.5 917.8 203.9 917.6 204.3 917.1 204.6 917.4 205.0 917.8 205.4 918.3 205.7 918.5 206.1 918.7 206.4 918.7 206.8 918.4 207.2 917.9 207.5 917.3 207.9 915.9 208.3 914.7 208.6 914.0 209.0 914.4 209.4 916.0 209.7 917.1 210.1 918.2 210.5 918.8 210.8 918.9 211.2 918.9 211.6 919.1 211.9 918.9 212.3 919.0 212.7 918.8 213.0 918.9 213.4 919.0 213.8 918.8 214.1 918.9 214.5 918.8 214.8 918.9 215.2 919.1 215.6 918.8 215.9 918.7 216.3 918.7 216.7 918.8 217.0 918.7 217.4 919.2 217.8 919.0 218.1 918.7 218.5 918.6 218.9 918.4 219.2 918.3 219.6 918.0 220.0 917.7 220.3 917.5 220.7 917.5 221.0 917.5 221.4 917.6 221.8 917.9 222.1 918.1 222.5 918.2 222.9 918.3 223.2 918.4 223.6 918.4 224.0 918.9 224.3 918.9 224.7 919.0 225.1 919.0 225.4 919.1 225.8 918.8 226.2 918.8 226.5 918.7 226.9 919.1 227.3 918.9 227.6 918.8 228.0 919.1 228.3 919.1 228.7 919.2 229.1 919.2 229.4 918.9 229.8 919.1 230.2 919.1 230.5 919.0 230.9 919.1 231.3 918.9 231.6 919.0 232.0 919.1 232.4 918.9 232.7 918.8 233.1 919.1 233.5 919.1 233.8 919.0 234.2 918.6 234.6 918.5 234.9 918.3 235.3 918.1 235.7 918.0 236.0 917.9 236.4 917.5 236.7 917.3 237.1 917.5 237.5 917.4 237.8 917.5 238.2 917.5 238.6 917.7 238.9 917.7 239.3 917.9 239.7 918.1 240.0 918.3 240.4 918.5 240.8 918.7 241.1 918.7 241.5 918.6 241.9 918.7 242.2 918.8 242.6 918.7 242.9 918.7 243.3 918.7 243.7 918.8 244.0 918.7 244.4 918.9 244.8 918.5 245.1 918.6 245.5 918.3 245.9 918.3 246.2 918.3 246.6 918.3 247.0 918.4 247.3 918.8 247.7 918.8 248.1 918.5 248.4 918.2 248.8 918.0 249.2 917.6 249.5 916.6 249.9 915.5 250.2 913.8 250.6 911.9 251.0 909.6 251.3 906.9 251.7 904.8 252.1 903.1 252.4 903.0 252.8 904.2 253.2 906.6 253.5 909.1 253.9 911.6 254.3 913.5 254.6 914.9 255.0 915.9 255.4 916.4 255.7 916.4 256.1 916.1 256.5 915.4 256.8 914.4 257.2 913.0 257.5 911.7 257.9 911.0 258.3 910.7 258.6 911.1 259.0 912.6 259.4 913.9 259.7 915.0 260.1 916.0 260.5 917.0 260.8 917.6 261.2 918.2 261.6 918.2 261.9 918.6 262.3 919.0 262.7 919.1 263.0 919.2 263.4 918.9 263.8 918.9 264.1 918.7 264.5 918.6 264.9 918.3 265.2 917.9 265.6 917.8 265.9 917.6 266.3 917.3 266.7 917.1 267.0 917.3 267.4 917.7 267.8 918.3 268.1 918.5 268.5 918.7 268.9 918.8 269.2 918.8 269.6 918.9 270.0 918.9 270.3 919.1 270.7 918.9 271.1 918.9 271.4 919.0 271.8 919.0 272.1 919.0 272.5 919.2 272.9 919.0 273.2 919.0 273.6 919.1 274.0 919.0 274.3 919.0 274.7 919.2 275.1 919.2 275.4 919.0 275.8 919.0 276.2 919.2 276.5 919.0 276.9 919.0 277.3 919.0 277.6 919.1 278.0 918.8 278.4 919.0 278.7 919.1 279.1 918.9 279.4 918.8 279.8 918.9 280.2 919.0 280.5 919.0 280.9 919.1 281.3 919.0 281.6 918.9 282.0 919.1 282.4 919.3 282.7 919.3 283.1 919.2 283.5 919.3 283.8 919.2 284.2 919.3 284.6 919.2 284.9 919.0 285.3 918.9 285.7 919.0 286.0 919.3 286.4 919.3 286.8 919.2 287.1 919.1 287.5 919.2 287.8 919.2 288.2 919.1 288.6 919.0 288.9 918.9 289.3 918.9 289.7 919.1 290.0 919.0 290.4 919.0 290.8 918.8 291.1 918.7 291.5 918.6 291.9 918.2 292.2 917.9 292.6 917.3 293.0 916.7 293.3 916.5 293.7 916.6 294.0 917.4 294.4 918.0 294.8 918.6 295.1 918.8 295.5 918.9 295.9 918.9 296.2 919.0 296.6 918.9 297.0 918.9 297.3 918.8 297.7 919.0 298.1 918.9 298.4 918.9 298.8 918.8 299.2 918.9 299.5 919.2 299.9 918.9 300.3 919.0 300.6 918.8 301.0 918.7 301.4 918.8 301.7 918.9 302.1 919.1 302.4 919.0 302.8 918.7 303.2 918.4 303.5 918.6 303.9 918.7 304.3 918.6 304.6 918.4 305.0 917.8 305.4 916.9 305.7 915.4 306.1 914.0 306.5 913.4 306.8 913.9 307.2 915.3 307.6 916.9 307.9 918.0 308.3 918.7 308.6 918.7 309.0 918.8 309.4 918.7 309.7 918.7 310.1 918.6 310.5 918.5 310.8 918.8 311.2 918.8 311.6 918.7 311.9 918.6 312.3 918.8 312.7 918.6 313.0 918.7 313.4 918.6 313.8 918.6 314.1 918.6 314.5 918.6 314.9 918.4 315.2 918.5 315.6 918.5 315.9 918.2 316.3 918.1 316.7 917.6 317.0 916.6 317.4 914.7 317.8 911.1 318.1 905.3 318.5 898.8 318.9 893.9 319.2 894.2 319.6 899.9 320.0 906.2 320.3 911.6 320.7 914.7 321.1 916.3 321.4 917.1 321.8 917.0 322.2 917.4 322.5 917.5 322.9 917.5 323.2 917.5 323.6 917.0 324.0 916.5 324.3 915.6 324.7 913.6 325.1 910.3 325.4 906.8 325.8 904.7 326.2 905.6 326.5 908.6 326.9 912.1 327.3 914.7 327.6 916.0 328.0 916.5 328.4 916.5 328.7 916.4 329.1 915.8 329.5 914.0 329.8 910.5 330.2 904.8 330.6 896.5 330.9 887.5 331.3 883.3 331.6 887.4 332.0 896.1 332.4 904.5 332.7 910.4 333.1 913.6 333.5 915.1 333.8 915.4 334.2 915.7 334.6 915.4 334.9 914.4 335.3 911.8 335.7 906.7 336.0 898.0 336.4 885.5 336.8 872.3 337.1 866.0 337.5 872.0 337.8 885.3 338.2 898.1 338.6 907.1 338.9 912.3 339.3 914.9 339.7 916.1 340.0 916.5 340.4 916.6 340.8 916.8 341.1 916.5 341.5 916.2 341.9 915.5 342.2 913.4 342.6 910.0 343.0 905.1 343.3 900.0 343.7 897.4 344.1 899.9 344.4 905.4 344.8 910.3 345.1 913.9 345.5 916.2 345.9 917.1 346.2 917.7 346.6 917.8 347.0 918.3 347.3 918.2 347.7 918.3 348.1 918.3 348.4 918.4 348.8 918.6 349.2 918.6 349.5 918.7 349.9 918.5 350.3 918.4 350.6 918.3 351.0 918.6 351.4 918.5 351.7 918.4 352.1 918.1 352.4 918.2 352.8 917.9 353.2 917.5 353.5 917.1 353.9 916.8 354.3 916.2 354.6 915.7 355.0 915.4 355.4 915.5 355.7 915.6 356.1 916.4 356.5 916.7 356.8 917.2 357.2 917.5 357.6 917.7 357.9 917.8 358.3 917.9 358.7 917.6 359.0 917.9 359.4 917.9 359.8 917.7 360.1 917.5 360.5 916.9 360.8 916.5 361.2 916.0 361.6 915.1 361.9 914.8 362.3 914.4 362.7 914.4 363.0 914.8 363.4 915.2 363.8 915.9 364.1 916.3 364.5 916.8 364.9 917.3 365.2 917.6 365.6 917.7 366.0 917.5 366.3 917.4 366.7 917.3 367.1 917.4 367.4 917.3 367.8 917.5 368.1 917.6 368.5 917.8 368.9 917.9 369.2 918.0 369.6 918.3 370.0 918.3 370.3 918.3 370.7 918.5 371.1 918.3 371.4 918.6 371.8 918.8 372.2 918.6 372.5 918.6 372.9 918.5 373.3 918.6 373.6 918.5 374.0 918.4 374.3 918.4 374.7 918.0 375.1 917.8 375.4 917.8 375.8 917.4 376.2 917.3 376.5 917.2 376.9 916.8 377.3 916.6 377.6 916.4 378.0 916.0 378.4 916.1 378.7 915.8 379.1 915.6 379.5 915.3 379.8 915.2 380.2 914.7 380.6 914.3 380.9 913.8 381.3 913.2 381.6 912.5 382.0 912.0 382.4 911.5 382.7 911.1 383.1 910.8 383.5 910.9 383.8 910.9 384.2 911.5 384.6 912.3 384.9 912.9 385.3 913.8 385.7 914.2 386.0 914.7 386.4 915.4 386.8 915.7 387.1 916.4 387.5 916.9 387.9 917.2 388.2 917.6 388.6 917.8 388.9 918.2 389.3 918.3 389.7 918.4 390.0 918.2 390.4 918.2 390.8 918.4 391.1 918.2 391.5 917.8 391.9 917.8 392.2 917.6 392.6 917.4 393.0 917.5 393.3 917.8 393.7 918.0 394.1 918.4 394.4 918.6 394.8 918.6 395.2 918.4 395.5 918.4 395.9 918.1 396.2 917.9 396.6 917.9 397.0 917.5 397.3 916.8 397.7 916.0 398.1 914.6 398.4 913.2 398.8 911.8 399.2 910.2 399.5 910.1 399.9 910.6 400.3 912.1 400.6 913.4 401.0 915.1 401.4 916.3 401.7 917.0 402.1 917.3 402.5 917.5 402.8 917.5 403.2 917.2 403.6 916.8 403.9 916.0 404.3 914.8 404.6 912.3 405.0 909.8 405.4 906.6 405.7 903.8 406.1 902.2 406.5 902.6 406.8 905.0 407.2 908.2 407.6 910.8 407.9 913.0 408.3 914.2 408.7 914.9 409.0 914.6 409.4 914.4 409.8 914.0 410.1 914.0 410.5 914.5 410.8 915.2 411.2 915.9 411.6 916.3 411.9 917.1 412.3 917.4 412.7 917.7 413.0 918.0 413.4 918.1 413.8 918.3 414.1 918.4 414.5 918.6 414.9 918.6 415.2 918.9 415.6 918.8 416.0 918.9 416.3 918.8 416.7 918.6 417.1 918.5 417.4 918.7 417.8 918.4 418.1 918.3 418.5 918.2 418.9 917.9 419.2 918.0 419.6 917.6 420.0 917.3 420.3 917.0 420.7 916.3 421.1 915.1 421.4 913.5 421.8 911.5 422.2 909.1 422.5 906.7 422.9 904.9 423.3 904.2 423.6 904.7 424.0 906.4 424.4 908.9 424.7 911.5 425.1 913.8 425.4 915.3 425.8 916.3 426.2 917.1 426.5 917.4 426.9 917.7 427.3 917.8 427.6 917.9 428.0 917.7 428.4 918.0 428.7 917.7 429.1 917.3 429.5 917.0 429.8 916.4 430.2 916.1 430.6 915.8 430.9 915.8 431.3 916.0 431.7 916.4 432.0 916.7 432.4 917.2 432.8 917.7 433.1 918.2 433.5 918.1 433.8 917.9 434.2 917.9 434.6 917.7 434.9 917.7 435.3 917.2 435.7 917.3 436.0 917.1 436.4 917.0 436.8 916.9 437.1 917.1 437.5 917.1 437.9 917.2 438.2 917.3 438.6 917.2 439.0 917.4 439.3 917.7 439.7 918.3 440.1 918.5 440.4 918.5 440.8 918.5 441.1 918.6 441.5 918.4 441.9 918.7 442.2 918.7 442.6 918.8 443.0 918.8 443.3 918.9 443.7 918.8 444.1 919.0 444.4 919.0 444.8 919.1 445.2 919.0 445.5 918.8 445.9 918.9 446.3 918.8 446.6 918.8 447.0 918.5 447.3 918.8 447.7 918.9 448.1 918.8 448.4 918.7 448.8 918.4 449.2 918.1 449.5 917.8 449.9 917.9 450.3 917.8 450.6 917.7 451.0 917.6 451.4 917.8 451.7 918.0 452.1 918.1 452.5 918.1 452.8 918.3 453.2 918.4 453.6 918.5 453.9 918.7 454.3 918.5 454.6 918.7 455.0 918.6 455.4 918.6 455.7 918.8 456.1 918.7 456.5 918.7 456.8 919.1 457.2 919.0 457.6 919.0 457.9 919.1 458.3 918.9 458.7 918.6 459.0 918.6 459.4 918.7 459.8 918.7 460.1 918.6 460.5 918.7 460.9 918.7 461.2 919.0 461.6 918.9 461.9 918.6 462.3 918.7 462.7 918.6 463.0 918.5 463.4 918.3 463.8 918.4 464.1 918.3 464.5 918.0 464.9 918.0 465.2 917.9 465.6 917.7 466.0 917.7 466.3 917.1 466.7 916.7 467.1 915.6 467.4 913.8 467.8 912.1 468.2 909.4 468.5 906.0 468.9 903.0 469.2 900.9 469.6 900.3 470.0 901.5 470.3 904.0 470.7 907.2 471.1 909.9 471.4 912.6 471.8 914.5 472.2 915.7 472.5 916.7 472.9 917.3 473.3 917.4 473.6 917.8 474.0 918.1 474.4 918.2 474.7 918.1 475.1 918.2 475.5 918.4 475.8 918.3 476.2 918.1 476.6 918.2 476.9 918.2 477.3 917.9 477.6 917.6 478.0 917.5 478.4 917.0 478.7 916.5 479.1 916.4 479.5 916.1 479.8 916.4 480.2 916.8 480.6 917.2 480.9 917.7 481.3 918.0 481.7 918.2 482.0 918.5 482.4 918.4 482.8 918.5 483.1 918.6 483.5 918.6 483.8 918.7 484.2 918.4 484.6 918.3 484.9 917.9 485.3 917.8 485.7 917.5 486.0 917.2 486.4 916.6 486.8 915.2 487.1 913.5 487.5 911.9 487.9 910.8 488.2 910.5 488.6 911.6 489.0 913.3 489.3 915.0 489.7 916.7 490.1 917.4 490.4 917.7 490.8 918.0 491.1 918.0 491.5 918.2 491.9 918.1 492.2 918.0 492.6 918.0 493.0 917.8 493.3 917.7 493.7 917.5 494.1 917.4 494.4 917.3 494.8 917.1 495.2 916.8 495.5 916.5 495.9 916.5 496.3 916.3 496.6 916.4 497.0 916.9 497.4 916.9 497.7 917.3 498.1 917.6 498.4 917.7 498.8 917.9 499.2 918.1 499.5 918.1 499.9 918.2 500.3 918.2 500.6 918.5 501.0 918.5 501.4 918.6 501.7 918.4 502.1 918.5 502.5 918.9 502.8 918.6 503.2 918.5 503.6 918.7 503.9 918.5 504.3 918.7 504.7 918.7 505.0 918.7 505.4 918.7 505.8 918.7 506.1 918.6 506.5 918.7 506.8 918.5 507.2 918.8 507.6 918.5 507.9 918.7 508.3 918.6 508.7 918.5 509.0 918.5 509.4 918.7 509.8 918.5 510.1 918.7 510.5 918.6 510.9 918.6 511.2 918.5 511.6 918.5 512.0 918.4 512.3 918.3 512.7 918.0 513.0 917.4 513.4 916.8 513.8 915.5 514.1 914.6 514.5 913.0 514.9 911.6 515.2 911.0 515.6 911.6 516.0 913.1 516.3 914.5 516.7 915.7 517.1 916.8 517.4 917.4 517.8 917.8 518.2 917.9 518.5 918.1 518.9 918.3 519.3 918.4 519.6 918.5 520.0 918.5 520.3 918.5 520.7 918.3 521.1 918.5 521.4 918.2 521.8 917.9 522.2 917.7 522.5 917.1 522.9 916.6 523.3 916.2 523.6 915.9 524.0 915.7 524.4 915.8 524.7 916.3 525.1 916.8 525.5 917.2 525.8 917.7 526.2 918.2 526.6 918.2 526.9 918.4 527.3 918.5 527.6 918.8 528.0 918.8 528.4 918.7 528.7 918.7 529.1 918.6 529.5 918.5 529.8 918.4 530.2 918.2 530.6 918.1 530.9 918.0 531.3 917.6 531.7 917.3 532.0 916.8 532.4 916.5 532.8 916.3 533.1 916.6 533.5 916.9 533.9 917.1 534.2 917.5 534.6 918.2 535.0 918.3 535.3 918.4 535.7 918.6 536.0 918.6 536.4 918.5 536.8 918.6 537.1 918.7 537.5 918.4 537.9 918.5 538.2 918.4 538.6 918.2 539.0 918.2 539.3 918.1 539.7 917.9 540.1 917.6 540.4 917.1 540.8 916.6 541.2 916.4 541.5 916.2 541.9 916.5 542.2 916.9 542.6 917.2 543.0 917.7 543.3 918.1 543.7 918.1 544.1 918.4 544.4 918.6 544.8 918.6 545.2 918.7 545.5 918.7 545.9 918.5 546.3 918.6 546.6 918.5 547.0 918.3 547.4 918.2 547.7 917.9 548.1 917.3 548.5 916.7 548.8 916.0 549.2 915.5 549.5 914.8 549.9 914.2 550.3 914.1 550.6 914.3 551.0 914.8 551.4 915.4 551.7 916.1 552.1 916.6 552.5 917.2 552.8 917.7 553.2 917.7 553.6 918.1 553.9 918.1 554.3 918.3 554.7 918.4 555.0 918.2 555.4 918.3 555.8 918.2 556.1 918.0 556.5 918.1 556.8 917.9 557.2 917.7 557.6 917.3 557.9 917.0 558.3 916.6 558.7 916.3 559.0 916.2 559.4 916.3 559.8 916.5 560.1 917.0 560.5 917.3 560.9 917.8 561.2 917.9 561.6 918.0 562.0 918.2 562.3 918.4 562.7 918.4 563.1 918.6 563.4 918.6 563.8 918.9 564.1 918.5 564.5 918.5 564.9 918.5 565.2 918.7 565.6 918.6 566.0 918.6 566.3 918.8 566.7 918.9 567.1 919.0 567.4 919.1 567.8 919.0 568.2 918.9 568.5 918.7 568.9 918.3 569.3 918.4 569.6 918.4 570.0 918.5 570.4 918.6 570.7 918.6 571.1 918.5 571.4 918.5 571.8 918.7 572.2 918.7 572.5 918.6 572.9 918.4 573.3 918.3 573.6 918.5 574.0 918.6 574.4 918.0 574.7 917.7 575.1 917.2 575.5 917.4 575.8 917.5 576.2 917.7 576.6 918.1 576.9 918.3 577.3 918.3 577.7 918.3 578.0 918.4 578.4 918.5 578.8 918.7 579.1 918.5 579.5 918.6 579.8 918.7 580.2 918.8 580.6 918.8 580.9 918.8 581.3 918.9 581.7 918.6 582.0 918.6 582.4 918.6 582.8 918.6 583.1 918.4 583.5 918.6 583.9 918.5 584.2 918.7 584.6 918.7 585.0 918.6 585.3 918.1 585.7 918.4 586.0 918.6 586.4 918.4 586.8 918.6 587.1 918.6 587.5 918.6 587.9 918.3 588.2 918.3 588.6 918.4 589.0 918.2 589.3 918.2 589.7 917.7 590.1 917.3 590.4 916.8 590.8 916.2 591.2 915.8 591.5 915.5 591.9 915.6 592.3 915.8 592.6 916.4 593.0 917.1 593.4 917.6 593.7 918.1 594.1 918.3 594.4 918.5 594.8 918.5 595.2 918.7 595.5 918.5 595.9 918.6 596.3 918.7 596.6 918.7 597.0 918.8 597.4 918.7 597.7 918.7 598.1 918.5 598.5 918.7 598.8 918.7 599.2 919.0 599.6 918.8 599.9 918.5 600.3 918.4 600.6 918.7 601.0 918.5 601.4 918.5 601.7 918.2 602.1 918.5 602.5 918.6 602.8 918.9 603.2 918.6 603.6 918.6 603.9 918.5 604.3 918.3 604.7 918.2 605.0 918.5 605.4 918.7 605.8 918.6 606.1 918.7 606.5 918.8 606.9 918.5 607.2 918.6 607.6 918.5 607.9 918.5 608.3 918.8 608.7 918.7 609.0 918.8 609.4 918.7 609.8 918.7 610.1 918.5 610.5 918.8 610.9 918.6 611.2 918.7 611.6 918.7 612.0 918.6 612.3 918.6 612.7 918.5 613.1 918.3 613.4 917.9 613.8 917.9 614.2 917.6 614.5 917.4 614.9 916.8 615.2 916.6 615.6 916.4 616.0 916.2 616.3 916.1 616.7 916.0 617.1 916.3 617.4 916.6 617.8 916.7 618.2 917.0 618.5 917.4 618.9 917.5 619.3 917.9 619.6 917.8 620.0 917.6 620.4 917.4 620.7 917.0 621.1 916.6 621.5 915.9 621.8 915.3 622.2 914.6 622.5 913.8 622.9 913.0 623.3 912.1 623.6 910.6 624.0 909.2 624.4 906.8 624.7 904.6 625.1 902.5 625.5 901.6 625.8 902.7 626.2 904.8 626.6 907.7 626.9 910.3 627.3 912.8 627.7 914.6 628.0 915.9 628.4 916.6 628.8 917.2 629.1 917.8 629.5 917.8 629.9 918.0 630.2 918.2 630.6 918.2 630.9 918.3 631.3 918.1 631.7 918.0 632.0 918.0 632.4 918.2 632.8 918.1 633.1 918.2 633.5 918.4" fill="none" stroke="#7ccd27" stroke-width="1.7" stroke-linejoin="round"/>
<path transform="translate(237.7 71.5) scale(1.000)" fill="#000" d="M0 4.9 C-1.4 2.9 -4.5 -0.1 -4.8 -2.2 C-5 -3.8 -3.8 -4.8 -2.6 -4.8 C-1.4 -4.8 -0.4 -4.0 0 -2.3 C0.4 -4.0 1.4 -4.8 2.6 -4.8 C3.8 -4.8 5 -3.8 4.8 -2.2 C4.5 -0.1 1.4 2.9 0 4.9Z"/>
<path transform="translate(244.4 109.2) scale(1.000)" fill="#000" d="M0 4.9 C-1.4 2.9 -4.5 -0.1 -4.8 -2.2 C-5 -3.8 -3.8 -4.8 -2.6 -4.8 C-1.4 -4.8 -0.4 -4.0 0 -2.3 C0.4 -4.0 1.4 -4.8 2.6 -4.8 C3.8 -4.8 5 -3.8 4.8 -2.2 C4.5 -0.1 1.4 2.9 0 4.9Z"/>
<path transform="translate(385.0 47.8) scale(1.000)" fill="#000" d="M0 4.9 C-1.4 2.9 -4.5 -0.1 -4.8 -2.2 C-5 -3.8 -3.8 -4.8 -2.6 -4.8 C-1.4 -4.8 -0.4 -4.0 0 -2.3 C0.4 -4.0 1.4 -4.8 2.6 -4.8 C3.8 -4.8 5 -3.8 4.8 -2.2 C4.5 -0.1 1.4 2.9 0 4.9Z"/>
<path transform="translate(379.0 77.1) scale(1.000)" fill="#000" d="M0 4.9 C-1.4 2.9 -4.5 -0.1 -4.8 -2.2 C-5 -3.8 -3.8 -4.8 -2.6 -4.8 C-1.4 -4.8 -0.4 -4.0 0 -2.3 C0.4 -4.0 1.4 -4.8 2.6 -4.8 C3.8 -4.8 5 -3.8 4.8 -2.2 C4.5 -0.1 1.4 2.9 0 4.9Z"/>
<path transform="translate(466.6 95.2) scale(1.000)" fill="#000" d="M0 4.9 C-1.4 2.9 -4.5 -0.1 -4.8 -2.2 C-5 -3.8 -3.8 -4.8 -2.6 -4.8 C-1.4 -4.8 -0.4 -4.0 0 -2.3 C0.4 -4.0 1.4 -4.8 2.6 -4.8 C3.8 -4.8 5 -3.8 4.8 -2.2 C4.5 -0.1 1.4 2.9 0 4.9Z"/>
<path transform="translate(494.9 96.2) scale(1.000)" fill="#000" d="M0 4.9 C-1.4 2.9 -4.5 -0.1 -4.8 -2.2 C-5 -3.8 -3.8 -4.8 -2.6 -4.8 C-1.4 -4.8 -0.4 -4.0 0 -2.3 C0.4 -4.0 1.4 -4.8 2.6 -4.8 C3.8 -4.8 5 -3.8 4.8 -2.2 C4.5 -0.1 1.4 2.9 0 4.9Z"/>
<path transform="translate(584.8 85.4) scale(1.000)" fill="#000" d="M0 4.9 C-1.4 2.9 -4.5 -0.1 -4.8 -2.2 C-5 -3.8 -3.8 -4.8 -2.6 -4.8 C-1.4 -4.8 -0.4 -4.0 0 -2.3 C0.4 -4.0 1.4 -4.8 2.6 -4.8 C3.8 -4.8 5 -3.8 4.8 -2.2 C4.5 -0.1 1.4 2.9 0 4.9Z"/>
<path transform="translate(600.2 103.1) scale(1.000)" fill="#000" d="M0 4.9 C-1.4 2.9 -4.5 -0.1 -4.8 -2.2 C-5 -3.8 -3.8 -4.8 -2.6 -4.8 C-1.4 -4.8 -0.4 -4.0 0 -2.3 C0.4 -4.0 1.4 -4.8 2.6 -4.8 C3.8 -4.8 5 -3.8 4.8 -2.2 C4.5 -0.1 1.4 2.9 0 4.9Z"/>
<g transform="translate(199.0 107.8) scale(1.000)" fill="#f8a955"><circle cx="0" cy="-2.75" r="2.25"/><circle cx="-2.95" cy="1.3" r="2.3"/><circle cx="2.95" cy="1.3" r="2.3"/><path d="M-0.9 -1.2 L0.9 -1.2 L1.3 1.2 L0.55 2.2 L0.7 3.6 L1.5 5.05 L-1.5 5.05 L-0.7 3.6 L-0.55 2.2 L-1.3 1.2Z"/></g>
<g transform="translate(287.8 111.5) scale(1.000)" fill="#f8a955"><circle cx="0" cy="-2.75" r="2.25"/><circle cx="-2.95" cy="1.3" r="2.3"/><circle cx="2.95" cy="1.3" r="2.3"/><path d="M-0.9 -1.2 L0.9 -1.2 L1.3 1.2 L0.55 2.2 L0.7 3.6 L1.5 5.05 L-1.5 5.05 L-0.7 3.6 L-0.55 2.2 L-1.3 1.2Z"/></g>
<g transform="translate(343.1 78.8) scale(1.000)" fill="#f8a955"><circle cx="0" cy="-2.75" r="2.25"/><circle cx="-2.95" cy="1.3" r="2.3"/><circle cx="2.95" cy="1.3" r="2.3"/><path d="M-0.9 -1.2 L0.9 -1.2 L1.3 1.2 L0.55 2.2 L0.7 3.6 L1.5 5.05 L-1.5 5.05 L-0.7 3.6 L-0.55 2.2 L-1.3 1.2Z"/></g>
<g transform="translate(354.1 94.8) scale(1.000)" fill="#f8a955"><circle cx="0" cy="-2.75" r="2.25"/><circle cx="-2.95" cy="1.3" r="2.3"/><circle cx="2.95" cy="1.3" r="2.3"/><path d="M-0.9 -1.2 L0.9 -1.2 L1.3 1.2 L0.55 2.2 L0.7 3.6 L1.5 5.05 L-1.5 5.05 L-0.7 3.6 L-0.55 2.2 L-1.3 1.2Z"/></g>
<g transform="translate(368.1 99.1) scale(1.000)" fill="#f8a955"><circle cx="0" cy="-2.75" r="2.25"/><circle cx="-2.95" cy="1.3" r="2.3"/><circle cx="2.95" cy="1.3" r="2.3"/><path d="M-0.9 -1.2 L0.9 -1.2 L1.3 1.2 L0.55 2.2 L0.7 3.6 L1.5 5.05 L-1.5 5.05 L-0.7 3.6 L-0.55 2.2 L-1.3 1.2Z"/></g>
<g transform="translate(376.0 102.2) scale(1.000)" fill="#f8a955"><circle cx="0" cy="-2.75" r="2.25"/><circle cx="-2.95" cy="1.3" r="2.3"/><circle cx="2.95" cy="1.3" r="2.3"/><path d="M-0.9 -1.2 L0.9 -1.2 L1.3 1.2 L0.55 2.2 L0.7 3.6 L1.5 5.05 L-1.5 5.05 L-0.7 3.6 L-0.55 2.2 L-1.3 1.2Z"/></g>
<g transform="translate(397.6 104.7) scale(1.000)" fill="#f8a955"><circle cx="0" cy="-2.75" r="2.25"/><circle cx="-2.95" cy="1.3" r="2.3"/><circle cx="2.95" cy="1.3" r="2.3"/><path d="M-0.9 -1.2 L0.9 -1.2 L1.3 1.2 L0.55 2.2 L0.7 3.6 L1.5 5.05 L-1.5 5.05 L-0.7 3.6 L-0.55 2.2 L-1.3 1.2Z"/></g>
<g transform="translate(430.1 109.9) scale(1.000)" fill="#f8a955"><circle cx="0" cy="-2.75" r="2.25"/><circle cx="-2.95" cy="1.3" r="2.3"/><circle cx="2.95" cy="1.3" r="2.3"/><path d="M-0.9 -1.2 L0.9 -1.2 L1.3 1.2 L0.55 2.2 L0.7 3.6 L1.5 5.05 L-1.5 5.05 L-0.7 3.6 L-0.55 2.2 L-1.3 1.2Z"/></g>
<g transform="translate(451.2 107.0) scale(1.000)" fill="#f8a955"><circle cx="0" cy="-2.75" r="2.25"/><circle cx="-2.95" cy="1.3" r="2.3"/><circle cx="2.95" cy="1.3" r="2.3"/><path d="M-0.9 -1.2 L0.9 -1.2 L1.3 1.2 L0.55 2.2 L0.7 3.6 L1.5 5.05 L-1.5 5.05 L-0.7 3.6 L-0.55 2.2 L-1.3 1.2Z"/></g>
<g transform="translate(504.7 105.6) scale(1.000)" fill="#f8a955"><circle cx="0" cy="-2.75" r="2.25"/><circle cx="-2.95" cy="1.3" r="2.3"/><circle cx="2.95" cy="1.3" r="2.3"/><path d="M-0.9 -1.2 L0.9 -1.2 L1.3 1.2 L0.55 2.2 L0.7 3.6 L1.5 5.05 L-1.5 5.05 L-0.7 3.6 L-0.55 2.2 L-1.3 1.2Z"/></g>
<g transform="translate(574.8 103.4) scale(1.000)" fill="#f8a955"><circle cx="0" cy="-2.75" r="2.25"/><circle cx="-2.95" cy="1.3" r="2.3"/><circle cx="2.95" cy="1.3" r="2.3"/><path d="M-0.9 -1.2 L0.9 -1.2 L1.3 1.2 L0.55 2.2 L0.7 3.6 L1.5 5.05 L-1.5 5.05 L-0.7 3.6 L-0.55 2.2 L-1.3 1.2Z"/></g>
<g transform="translate(620.5 107.0) scale(1.000)" fill="#f8a955"><circle cx="0" cy="-2.75" r="2.25"/><circle cx="-2.95" cy="1.3" r="2.3"/><circle cx="2.95" cy="1.3" r="2.3"/><path d="M-0.9 -1.2 L0.9 -1.2 L1.3 1.2 L0.55 2.2 L0.7 3.6 L1.5 5.05 L-1.5 5.05 L-0.7 3.6 L-0.55 2.2 L-1.3 1.2Z"/></g>
<path fill="#ff0606" d="M317.9 98.9 L322.1 103.9 L317.9 108.9 L313.7 103.9Z"/>
<path fill="#ff0606" d="M330.2 92.4 L334.4 97.4 L330.2 102.4 L326.0 97.4Z"/>
<path fill="#ff0606" d="M487.7 102.0 L491.9 107.0 L487.7 112.0 L483.5 107.0Z"/>
<path fill="#ff0606" d="M514.8 97.9 L519.0 102.9 L514.8 107.9 L510.6 102.9Z"/>
<path transform="translate(421.8 108.5) scale(1.000)" fill="#6cc51f" d="M0 -5 C1.2 -3.3 4.75 -1.0 4.75 1.4 C4.75 2.9 3.7 3.7 2.6 3.7 C1.7 3.7 1 3.3 0.55 2.4 L0.7 3.7 L1.5 5 L-1.5 5 L-0.7 3.7 L-0.55 2.4 C-1 3.3 -1.7 3.7 -2.6 3.7 C-3.7 3.7 -4.75 2.9 -4.75 1.4 C-4.75 -1.0 -1.2 -3.3 0 -5Z"/>
<path transform="translate(385.1 598.9) scale(1.000)" fill="#000" d="M0 4.9 C-1.4 2.9 -4.5 -0.1 -4.8 -2.2 C-5 -3.8 -3.8 -4.8 -2.6 -4.8 C-1.4 -4.8 -0.4 -4.0 0 -2.3 C0.4 -4.0 1.4 -4.8 2.6 -4.8 C3.8 -4.8 5 -3.8 4.8 -2.2 C4.5 -0.1 1.4 2.9 0 4.9Z"/>
<path transform="translate(494.2 604.4) scale(1.000)" fill="#000" d="M0 4.9 C-1.4 2.9 -4.5 -0.1 -4.8 -2.2 C-5 -3.8 -3.8 -4.8 -2.6 -4.8 C-1.4 -4.8 -0.4 -4.0 0 -2.3 C0.4 -4.0 1.4 -4.8 2.6 -4.8 C3.8 -4.8 5 -3.8 4.8 -2.2 C4.5 -0.1 1.4 2.9 0 4.9Z"/>
<g transform="translate(199.1 613.4) scale(1.000)" fill="#f8a955"><circle cx="0" cy="-2.75" r="2.25"/><circle cx="-2.95" cy="1.3" r="2.3"/><circle cx="2.95" cy="1.3" r="2.3"/><path d="M-0.9 -1.2 L0.9 -1.2 L1.3 1.2 L0.55 2.2 L0.7 3.6 L1.5 5.05 L-1.5 5.05 L-0.7 3.6 L-0.55 2.2 L-1.3 1.2Z"/></g>
<g transform="translate(287.8 613.4) scale(1.000)" fill="#f8a955"><circle cx="0" cy="-2.75" r="2.25"/><circle cx="-2.95" cy="1.3" r="2.3"/><circle cx="2.95" cy="1.3" r="2.3"/><path d="M-0.9 -1.2 L0.9 -1.2 L1.3 1.2 L0.55 2.2 L0.7 3.6 L1.5 5.05 L-1.5 5.05 L-0.7 3.6 L-0.55 2.2 L-1.3 1.2Z"/></g>
<g transform="translate(343.8 564.7) scale(1.000)" fill="#f8a955"><circle cx="0" cy="-2.75" r="2.25"/><circle cx="-2.95" cy="1.3" r="2.3"/><circle cx="2.95" cy="1.3" r="2.3"/><path d="M-0.9 -1.2 L0.9 -1.2 L1.3 1.2 L0.55 2.2 L0.7 3.6 L1.5 5.05 L-1.5 5.05 L-0.7 3.6 L-0.55 2.2 L-1.3 1.2Z"/></g>
<g transform="translate(354.1 586.2) scale(1.000)" fill="#f8a955"><circle cx="0" cy="-2.75" r="2.25"/><circle cx="-2.95" cy="1.3" r="2.3"/><circle cx="2.95" cy="1.3" r="2.3"/><path d="M-0.9 -1.2 L0.9 -1.2 L1.3 1.2 L0.55 2.2 L0.7 3.6 L1.5 5.05 L-1.5 5.05 L-0.7 3.6 L-0.55 2.2 L-1.3 1.2Z"/></g>
<g transform="translate(369.3 597.1) scale(1.000)" fill="#f8a955"><circle cx="0" cy="-2.75" r="2.25"/><circle cx="-2.95" cy="1.3" r="2.3"/><circle cx="2.95" cy="1.3" r="2.3"/><path d="M-0.9 -1.2 L0.9 -1.2 L1.3 1.2 L0.55 2.2 L0.7 3.6 L1.5 5.05 L-1.5 5.05 L-0.7 3.6 L-0.55 2.2 L-1.3 1.2Z"/></g>
<g transform="translate(375.4 607.7) scale(1.000)" fill="#f8a955"><circle cx="0" cy="-2.75" r="2.25"/><circle cx="-2.95" cy="1.3" r="2.3"/><circle cx="2.95" cy="1.3" r="2.3"/><path d="M-0.9 -1.2 L0.9 -1.2 L1.3 1.2 L0.55 2.2 L0.7 3.6 L1.5 5.05 L-1.5 5.05 L-0.7 3.6 L-0.55 2.2 L-1.3 1.2Z"/></g>
<g transform="translate(398.0 609.3) scale(1.000)" fill="#f8a955"><circle cx="0" cy="-2.75" r="2.25"/><circle cx="-2.95" cy="1.3" r="2.3"/><circle cx="2.95" cy="1.3" r="2.3"/><path d="M-0.9 -1.2 L0.9 -1.2 L1.3 1.2 L0.55 2.2 L0.7 3.6 L1.5 5.05 L-1.5 5.05 L-0.7 3.6 L-0.55 2.2 L-1.3 1.2Z"/></g>
<g transform="translate(431.1 612.2) scale(1.000)" fill="#f8a955"><circle cx="0" cy="-2.75" r="2.25"/><circle cx="-2.95" cy="1.3" r="2.3"/><circle cx="2.95" cy="1.3" r="2.3"/><path d="M-0.9 -1.2 L0.9 -1.2 L1.3 1.2 L0.55 2.2 L0.7 3.6 L1.5 5.05 L-1.5 5.05 L-0.7 3.6 L-0.55 2.2 L-1.3 1.2Z"/></g>
<g transform="translate(450.8 614.5) scale(1.000)" fill="#f8a955"><circle cx="0" cy="-2.75" r="2.25"/><circle cx="-2.95" cy="1.3" r="2.3"/><circle cx="2.95" cy="1.3" r="2.3"/><path d="M-0.9 -1.2 L0.9 -1.2 L1.3 1.2 L0.55 2.2 L0.7 3.6 L1.5 5.05 L-1.5 5.05 L-0.7 3.6 L-0.55 2.2 L-1.3 1.2Z"/></g>
<g transform="translate(504.0 612.9) scale(1.000)" fill="#f8a955"><circle cx="0" cy="-2.75" r="2.25"/><circle cx="-2.95" cy="1.3" r="2.3"/><circle cx="2.95" cy="1.3" r="2.3"/><path d="M-0.9 -1.2 L0.9 -1.2 L1.3 1.2 L0.55 2.2 L0.7 3.6 L1.5 5.05 L-1.5 5.05 L-0.7 3.6 L-0.55 2.2 L-1.3 1.2Z"/></g>
<g transform="translate(575.7 606.1) scale(1.000)" fill="#f8a955"><circle cx="0" cy="-2.75" r="2.25"/><circle cx="-2.95" cy="1.3" r="2.3"/><circle cx="2.95" cy="1.3" r="2.3"/><path d="M-0.9 -1.2 L0.9 -1.2 L1.3 1.2 L0.55 2.2 L0.7 3.6 L1.5 5.05 L-1.5 5.05 L-0.7 3.6 L-0.55 2.2 L-1.3 1.2Z"/></g>
<g transform="translate(591.1 610.7) scale(1.000)" fill="#f8a955"><circle cx="0" cy="-2.75" r="2.25"/><circle cx="-2.95" cy="1.3" r="2.3"/><circle cx="2.95" cy="1.3" r="2.3"/><path d="M-0.9 -1.2 L0.9 -1.2 L1.3 1.2 L0.55 2.2 L0.7 3.6 L1.5 5.05 L-1.5 5.05 L-0.7 3.6 L-0.55 2.2 L-1.3 1.2Z"/></g>
<g transform="translate(621.0 610.0) scale(1.000)" fill="#f8a955"><circle cx="0" cy="-2.75" r="2.25"/><circle cx="-2.95" cy="1.3" r="2.3"/><circle cx="2.95" cy="1.3" r="2.3"/><path d="M-0.9 -1.2 L0.9 -1.2 L1.3 1.2 L0.55 2.2 L0.7 3.6 L1.5 5.05 L-1.5 5.05 L-0.7 3.6 L-0.55 2.2 L-1.3 1.2Z"/></g>
<path fill="#ff0606" d="M318.8 585.3 L323.0 590.3 L318.8 595.3 L314.6 590.3Z"/>
<path fill="#ff0606" d="M330.8 573.3 L335.0 578.3 L330.8 583.3 L326.6 578.3Z"/>
<path fill="#ff0606" d="M486.6 605.0 L490.8 610.0 L486.6 615.0 L482.4 610.0Z"/>
<path fill="#ff0606" d="M514.2 601.1 L518.4 606.1 L514.2 611.1 L510.0 606.1Z"/>
<path fill="#ff0606" d="M522.8 609.5 L527.0 614.5 L522.8 619.5 L518.6 614.5Z"/>
<path fill="#000" d="M305.5 606.7 L308.8 611.1 L305.5 615.5 L302.2 611.1Z"/>
<path transform="translate(422.5 610.7) scale(1.000)" fill="#6cc51f" d="M0 -5 C1.2 -3.3 4.75 -1.0 4.75 1.4 C4.75 2.9 3.7 3.7 2.6 3.7 C1.7 3.7 1 3.3 0.55 2.4 L0.7 3.7 L1.5 5 L-1.5 5 L-0.7 3.7 L-0.55 2.4 C-1 3.3 -1.7 3.7 -2.6 3.7 C-3.7 3.7 -4.75 2.9 -4.75 1.4 C-4.75 -1.0 -1.2 -3.3 0 -5Z"/>
<path transform="translate(469.6 605.5) scale(1.000)" fill="#6cc51f" d="M0 -5 C1.2 -3.3 4.75 -1.0 4.75 1.4 C4.75 2.9 3.7 3.7 2.6 3.7 C1.7 3.7 1 3.3 0.55 2.4 L0.7 3.7 L1.5 5 L-1.5 5 L-0.7 3.7 L-0.55 2.4 C-1 3.3 -1.7 3.7 -2.6 3.7 C-3.7 3.7 -4.75 2.9 -4.75 1.4 C-4.75 -1.0 -1.2 -3.3 0 -5Z"/>
<circle cx="338.0" cy="860.9" r="2.9" fill="#8f14f5"/>
<circle cx="406.2" cy="897.5" r="2.9" fill="#8f14f5"/>
<circle cx="625.5" cy="895.3" r="2.9" fill="#8f14f5"/>
<path fill="#000" fill-rule="evenodd" d="M246.70 888.95 L257.00 888.95 L251.85 899.85Z M248.98 889.75 L255.82 889.75 L252.40 896.99Z"/>
<path fill="#000" fill-rule="evenodd" d="M253.70 899.05 L264.00 899.05 L258.85 909.95Z M255.98 899.85 L262.82 899.85 L259.40 907.09Z"/>
<path fill="#000" fill-rule="evenodd" d="M511.25 898.85 L521.55 898.85 L516.40 909.75Z M513.53 899.65 L520.37 899.65 L516.95 906.89Z"/>
<path fill="#000" fill-rule="evenodd" d="M528.25 902.25 L538.55 902.25 L533.40 913.15Z M530.53 903.05 L537.37 903.05 L533.95 910.29Z"/>
<path fill="#000" fill-rule="evenodd" d="M544.75 901.15 L555.05 901.15 L549.90 912.05Z M547.03 901.95 L553.87 901.95 L550.45 909.19Z"/>
<path fill="#000" fill-rule="evenodd" d="M554.75 902.25 L565.05 902.25 L559.90 913.15Z M557.03 903.05 L563.87 903.05 L560.45 910.29Z"/>
</svg>
</body></html>
